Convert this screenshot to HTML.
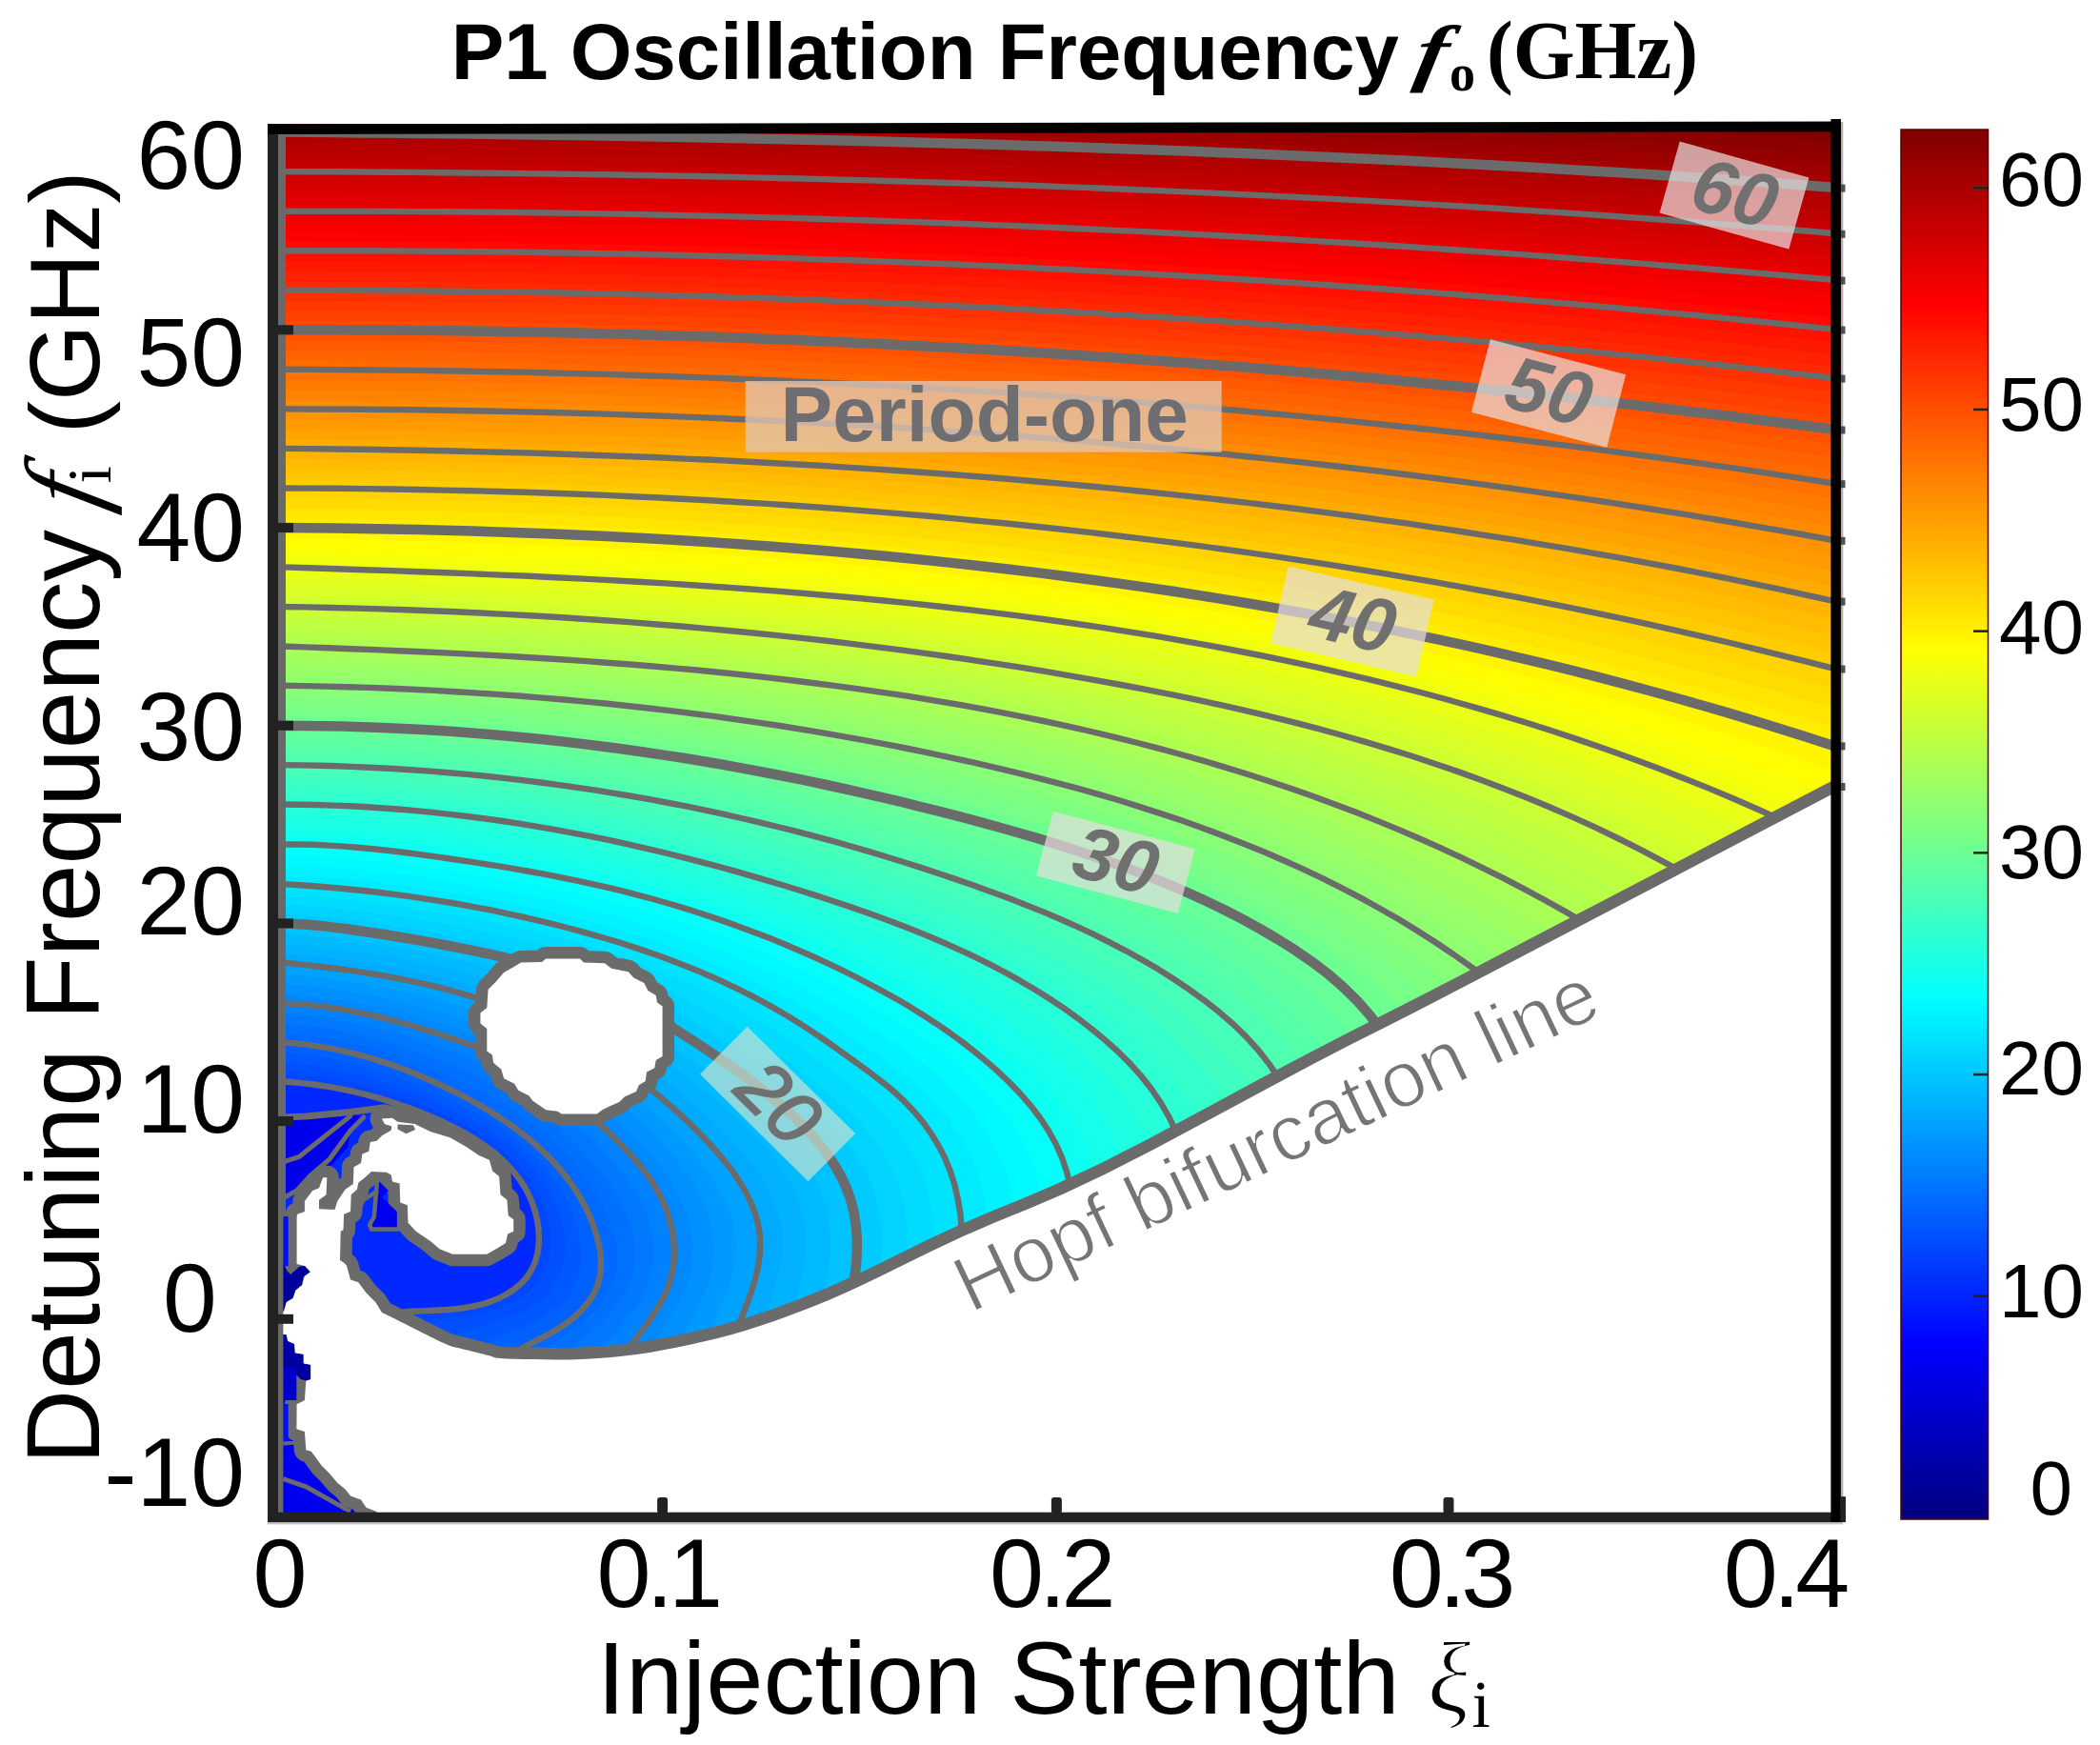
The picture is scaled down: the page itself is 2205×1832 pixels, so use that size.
<!DOCTYPE html>
<html><head><meta charset="utf-8"><title>P1 Oscillation Frequency</title>
<style>html,body{margin:0;padding:0;background:#fff}svg{display:block}</style></head>
<body><svg width="2205" height="1832" viewBox="0 0 2205 1832">
<rect width="2205" height="1832" fill="#fff"/>
<g id="fill">
<rect x="280" y="128" width="1660" height="1475" fill="#0028ff"/>
<rect x="280" y="128" width="1660" height="60" fill="#830000"/>
<polygon points="295.9,1135.4 307.4,1136.2 319.0,1137.4 330.5,1138.8 341.9,1140.4 353.4,1142.4 364.7,1144.6 376.0,1147.1 387.3,1149.9 398.4,1153.1 409.5,1156.4 420.5,1160.1 431.4,1164.0 442.2,1168.1 453.0,1172.5 463.6,1177.2 474.0,1182.1 484.3,1187.5 494.4,1193.2 504.2,1199.4 513.6,1206.1 522.6,1213.4 531.1,1221.3 539.0,1229.8 546.1,1238.9 552.2,1248.8 557.4,1259.1 561.3,1270.0 564.1,1281.3 565.7,1292.7 565.8,1304.3 564.4,1315.8 561.1,1326.9 555.8,1337.2 548.5,1346.2 539.7,1353.7 529.9,1359.8 519.4,1364.7 508.5,1368.6 497.3,1371.4 485.9,1373.3 474.3,1374.6 462.8,1375.4 451.2,1375.9 439.6,1376.5 428.1,1377.2 416.5,1378.3 405.1,1380.1 433.8,1394.0 444.8,1390.6 456.1,1387.9 467.5,1385.8 479.1,1383.9 490.6,1382.0 502.0,1379.8 513.3,1377.1 524.4,1373.6 535.0,1369.2 545.1,1363.8 554.3,1357.2 562.4,1349.4 569.1,1340.6 574.3,1330.7 577.6,1319.9 579.0,1308.5 578.9,1296.9 577.4,1285.3 574.6,1274.0 570.7,1262.9 565.8,1252.2 559.9,1242.0 553.0,1232.3 545.4,1223.2 537.1,1214.8 528.2,1206.9 518.8,1199.6 509.1,1192.7 499.0,1186.4 488.7,1180.5 478.2,1174.9 467.5,1169.7 456.7,1164.8 445.7,1160.1 434.7,1155.7 423.5,1151.6 412.3,1147.7 401.0,1144.1 389.6,1140.7 378.1,1137.7 366.5,1135.0 354.8,1132.6 343.1,1130.5 331.4,1128.7 319.6,1127.2 307.8,1126.0 295.9,1125.1" fill="#0048ff" stroke="#0048ff" stroke-width="1.6"/>
<polygon points="295.9,1125.1 307.8,1126.0 319.6,1127.2 331.4,1128.7 343.1,1130.5 354.8,1132.6 366.5,1135.0 378.1,1137.7 389.6,1140.7 401.0,1144.1 412.3,1147.7 423.5,1151.6 434.7,1155.7 445.7,1160.1 456.7,1164.8 467.5,1169.7 478.2,1174.9 488.7,1180.5 499.0,1186.4 509.1,1192.7 518.8,1199.6 528.2,1206.9 537.1,1214.8 545.4,1223.2 553.0,1232.3 559.9,1242.0 565.8,1252.2 570.7,1262.9 574.6,1274.0 577.4,1285.3 578.9,1296.9 579.0,1308.5 577.6,1319.9 574.3,1330.7 569.1,1340.6 562.4,1349.4 554.3,1357.2 545.1,1363.8 535.0,1369.2 524.4,1373.6 513.3,1377.1 502.0,1379.8 490.6,1382.0 479.1,1383.9 467.5,1385.8 456.1,1387.9 444.8,1390.6 433.8,1394.0 462.6,1408.0 473.1,1402.8 484.1,1398.6 495.4,1395.1 506.9,1391.9 518.4,1388.7 529.7,1385.1 540.8,1380.9 551.5,1375.9 561.5,1369.9 570.7,1362.8 578.7,1354.5 585.0,1345.2 589.7,1335.1 592.7,1324.2 594.0,1312.8 593.7,1301.2 592.0,1289.5 589.1,1278.0 585.1,1266.7 580.1,1255.7 574.2,1245.2 567.5,1235.2 560.0,1225.7 551.8,1216.7 543.0,1208.3 533.7,1200.4 524.0,1193.0 513.9,1186.1 503.6,1179.6 493.1,1173.4 482.3,1167.7 471.4,1162.2 460.4,1157.1 449.2,1152.1 437.9,1147.5 426.6,1143.1 415.1,1138.9 403.5,1135.1 391.9,1131.5 380.1,1128.3 368.3,1125.4 356.3,1122.8 344.3,1120.5 332.3,1118.6 320.2,1117.0 308.1,1115.7 295.9,1114.8" fill="#0050ff" stroke="#0050ff" stroke-width="1.6"/>
<polygon points="295.9,1114.8 308.1,1115.7 320.2,1117.0 332.3,1118.6 344.3,1120.5 356.3,1122.8 368.3,1125.4 380.1,1128.3 391.9,1131.5 403.5,1135.1 415.1,1138.9 426.6,1143.1 437.9,1147.5 449.2,1152.1 460.4,1157.1 471.4,1162.2 482.3,1167.7 493.1,1173.4 503.6,1179.6 513.9,1186.1 524.0,1193.0 533.7,1200.4 543.0,1208.3 551.8,1216.7 560.0,1225.7 567.5,1235.2 574.2,1245.2 580.1,1255.7 585.1,1266.7 589.1,1278.0 592.0,1289.5 593.7,1301.2 594.0,1312.8 592.7,1324.2 589.7,1335.1 585.0,1345.2 578.7,1354.5 570.7,1362.8 561.5,1369.9 551.5,1375.9 540.8,1380.9 529.7,1385.1 518.4,1388.7 506.9,1391.9 495.4,1395.1 484.1,1398.6 473.1,1402.8 462.6,1408.0 491.3,1422.0 501.3,1415.1 512.1,1409.4 523.3,1404.4 534.7,1399.9 546.2,1395.3 557.4,1390.4 568.3,1384.7 578.6,1378.2 588.1,1370.6 596.4,1361.8 603.1,1351.9 607.7,1341.0 610.4,1329.5 611.2,1317.7 610.4,1305.8 608.3,1293.9 605.1,1282.1 600.8,1270.6 595.6,1259.4 589.5,1248.6 582.7,1238.3 575.1,1228.4 566.9,1219.0 558.1,1210.2 548.9,1201.8 539.2,1193.9 529.2,1186.4 518.8,1179.4 508.2,1172.7 497.4,1166.4 486.5,1160.4 475.3,1154.7 464.1,1149.3 452.7,1144.1 441.2,1139.2 429.6,1134.6 417.9,1130.2 406.1,1126.1 394.1,1122.3 382.1,1118.9 370.0,1115.7 357.8,1113.0 345.5,1110.6 333.2,1108.5 320.8,1106.8 308.4,1105.5 295.9,1104.5" fill="#0058ff" stroke="#0058ff" stroke-width="1.6"/>
<polygon points="295.9,1104.5 308.4,1105.5 320.8,1106.8 333.2,1108.5 345.5,1110.6 357.8,1113.0 370.0,1115.7 382.1,1118.9 394.1,1122.3 406.1,1126.1 417.9,1130.2 429.6,1134.6 441.2,1139.2 452.7,1144.1 464.1,1149.3 475.3,1154.7 486.5,1160.4 497.4,1166.4 508.2,1172.7 518.8,1179.4 529.2,1186.4 539.2,1193.9 548.9,1201.8 558.1,1210.2 566.9,1219.0 575.1,1228.4 582.7,1238.3 589.5,1248.6 595.6,1259.4 600.8,1270.6 605.1,1282.1 608.3,1293.9 610.4,1305.8 611.2,1317.7 610.4,1329.5 607.7,1341.0 603.1,1351.9 596.4,1361.8 588.1,1370.6 578.6,1378.2 568.3,1384.7 557.4,1390.4 546.2,1395.3 534.7,1399.9 523.3,1404.4 512.1,1409.4 501.3,1415.1 491.3,1422.0 520.0,1435.9 529.6,1427.4 540.1,1420.1 551.2,1413.7 562.6,1407.8 574.0,1401.9 585.1,1395.6 595.8,1388.5 605.7,1380.4 614.6,1371.2 622.0,1360.8 627.5,1349.2 630.4,1336.8 631.0,1324.0 629.7,1311.2 626.9,1298.7 623.0,1286.5 618.2,1274.7 612.5,1263.2 606.1,1252.1 598.9,1241.5 591.1,1231.3 582.8,1221.6 573.9,1212.4 564.5,1203.6 554.8,1195.3 544.7,1187.4 534.3,1179.9 523.7,1172.7 512.9,1165.9 501.8,1159.4 490.6,1153.2 479.3,1147.3 467.8,1141.6 456.2,1136.1 444.4,1131.0 432.6,1126.0 420.7,1121.4 408.6,1117.1 396.4,1113.1 384.1,1109.4 371.8,1106.1 359.3,1103.2 346.7,1100.6 334.1,1098.4 321.4,1096.6 308.7,1095.2 295.9,1094.2" fill="#0061ff" stroke="#0061ff" stroke-width="1.6"/>
<polygon points="295.9,1094.2 308.7,1095.2 321.4,1096.6 334.1,1098.4 346.7,1100.6 359.3,1103.2 371.8,1106.1 384.1,1109.4 396.4,1113.1 408.6,1117.1 420.7,1121.4 432.6,1126.0 444.4,1131.0 456.2,1136.1 467.8,1141.6 479.3,1147.3 490.6,1153.2 501.8,1159.4 512.9,1165.9 523.7,1172.7 534.3,1179.9 544.7,1187.4 554.8,1195.3 564.5,1203.6 573.9,1212.4 582.8,1221.6 591.1,1231.3 598.9,1241.5 606.1,1252.1 612.5,1263.2 618.2,1274.7 623.0,1286.5 626.9,1298.7 629.7,1311.2 631.0,1324.0 630.4,1336.8 627.5,1349.2 622.0,1360.8 614.6,1371.2 605.7,1380.4 595.8,1388.5 585.1,1395.6 574.0,1401.9 562.6,1407.8 551.2,1413.7 540.1,1420.1 529.6,1427.4 520.0,1435.9 551.2,1436.9 560.2,1427.4 570.1,1419.1 580.5,1411.4 591.2,1404.1 601.8,1396.8 612.0,1389.1 621.6,1380.6 630.3,1371.2 637.7,1360.8 643.5,1349.5 647.4,1337.2 649.0,1324.4 648.5,1311.4 646.1,1298.6 642.4,1286.0 637.6,1273.9 631.8,1262.2 625.3,1250.8 618.0,1240.0 610.1,1229.5 601.7,1219.4 592.8,1209.7 583.5,1200.4 573.8,1191.6 563.7,1183.2 553.2,1175.2 542.4,1167.6 531.4,1160.5 520.1,1153.8 508.6,1147.4 496.9,1141.3 485.1,1135.5 473.2,1130.1 461.1,1124.8 449.0,1119.8 436.7,1115.0 424.4,1110.5 411.9,1106.3 399.3,1102.4 386.7,1098.8 373.9,1095.5 361.1,1092.7 348.2,1090.1 335.2,1088.0 322.2,1086.2 309.1,1084.9 295.9,1083.9" fill="#0069ff" stroke="#0069ff" stroke-width="1.6"/>
<polygon points="295.9,1083.9 309.1,1084.9 322.2,1086.2 335.2,1088.0 348.2,1090.1 361.1,1092.7 373.9,1095.5 386.7,1098.8 399.3,1102.4 411.9,1106.3 424.4,1110.5 436.7,1115.0 449.0,1119.8 461.1,1124.8 473.2,1130.1 485.1,1135.5 496.9,1141.3 508.6,1147.4 520.1,1153.8 531.4,1160.5 542.4,1167.6 553.2,1175.2 563.7,1183.2 573.8,1191.6 583.5,1200.4 592.8,1209.7 601.7,1219.4 610.1,1229.5 618.0,1240.0 625.3,1250.8 631.8,1262.2 637.6,1273.9 642.4,1286.0 646.1,1298.6 648.5,1311.4 649.0,1324.4 647.4,1337.2 643.5,1349.5 637.7,1360.8 630.3,1371.2 621.6,1380.6 612.0,1389.1 601.8,1396.8 591.2,1404.1 580.5,1411.4 570.1,1419.1 560.2,1427.4 551.2,1436.9 582.4,1437.9 590.8,1427.5 600.1,1418.0 609.9,1409.1 619.8,1400.5 629.6,1391.7 638.9,1382.5 647.5,1372.7 654.9,1362.0 660.8,1350.4 665.0,1338.1 667.4,1325.3 667.6,1312.0 665.9,1298.8 662.6,1285.9 658.0,1273.3 652.2,1261.3 645.5,1249.7 638.0,1238.5 629.9,1227.8 621.4,1217.5 612.3,1207.5 602.9,1197.8 593.2,1188.5 583.1,1179.5 572.6,1171.0 561.7,1163.0 550.6,1155.4 539.1,1148.3 527.3,1141.6 515.4,1135.4 503.3,1129.4 491.0,1123.8 478.6,1118.5 466.1,1113.4 453.5,1108.6 440.8,1104.0 428.1,1099.6 415.2,1095.5 402.3,1091.7 389.2,1088.2 376.1,1085.0 362.9,1082.1 349.6,1079.6 336.3,1077.5 322.9,1075.8 309.4,1074.5 296.0,1073.6" fill="#0071ff" stroke="#0071ff" stroke-width="1.6"/>
<polygon points="296.0,1073.6 309.4,1074.5 322.9,1075.8 336.3,1077.5 349.6,1079.6 362.9,1082.1 376.1,1085.0 389.2,1088.2 402.3,1091.7 415.2,1095.5 428.1,1099.6 440.8,1104.0 453.5,1108.6 466.1,1113.4 478.6,1118.5 491.0,1123.8 503.3,1129.4 515.4,1135.4 527.3,1141.6 539.1,1148.3 550.6,1155.4 561.7,1163.0 572.6,1171.0 583.1,1179.5 593.2,1188.5 602.9,1197.8 612.3,1207.5 621.4,1217.5 629.9,1227.8 638.0,1238.5 645.5,1249.7 652.2,1261.3 658.0,1273.3 662.6,1285.9 665.9,1298.8 667.6,1312.0 667.4,1325.3 665.0,1338.1 660.8,1350.4 654.9,1362.0 647.5,1372.7 638.9,1382.5 629.6,1391.7 619.8,1400.5 609.9,1409.1 600.1,1418.0 590.8,1427.5 582.4,1437.9 613.6,1438.9 621.4,1427.5 630.1,1417.0 639.2,1406.8 648.4,1396.8 657.4,1386.6 665.8,1376.0 673.4,1364.8 679.4,1352.7 683.9,1340.0 686.5,1326.8 687.3,1313.3 686.2,1299.7 683.4,1286.2 679.1,1273.2 673.5,1260.6 666.7,1248.6 659.1,1237.2 650.8,1226.2 641.9,1215.7 632.6,1205.5 622.9,1195.5 613.0,1185.9 602.8,1176.5 592.3,1167.5 581.5,1158.9 570.2,1150.8 558.7,1143.2 546.8,1136.1 534.6,1129.5 522.2,1123.3 509.6,1117.6 496.9,1112.1 484.0,1107.0 471.1,1102.1 458.1,1097.4 444.9,1092.9 431.8,1088.7 418.5,1084.7 405.2,1081.0 391.8,1077.5 378.3,1074.4 364.7,1071.6 351.1,1069.2 337.4,1067.1 323.6,1065.4 309.8,1064.2 296.0,1063.4" fill="#0079ff" stroke="#0079ff" stroke-width="1.6"/>
<polygon points="296.0,1063.4 309.8,1064.2 323.6,1065.4 337.4,1067.1 351.1,1069.2 364.7,1071.6 378.3,1074.4 391.8,1077.5 405.2,1081.0 418.5,1084.7 431.8,1088.7 444.9,1092.9 458.1,1097.4 471.1,1102.1 484.0,1107.0 496.9,1112.1 509.6,1117.6 522.2,1123.3 534.6,1129.5 546.8,1136.1 558.7,1143.2 570.2,1150.8 581.5,1158.9 592.3,1167.5 602.8,1176.5 613.0,1185.9 622.9,1195.5 632.6,1205.5 641.9,1215.7 650.8,1226.2 659.1,1237.2 666.7,1248.6 673.5,1260.6 679.1,1273.2 683.4,1286.2 686.2,1299.7 687.3,1313.3 686.5,1326.8 683.9,1340.0 679.4,1352.7 673.4,1364.8 665.8,1376.0 657.4,1386.6 648.4,1396.8 639.2,1406.8 630.1,1417.0 621.4,1427.5 613.6,1438.9 644.8,1439.8 652.0,1427.6 660.1,1415.9 668.5,1404.5 677.0,1393.1 685.2,1381.5 692.8,1369.5 699.2,1356.8 704.0,1343.5 707.0,1329.6 708.0,1315.4 707.3,1301.3 704.8,1287.3 700.9,1273.6 695.6,1260.5 689.0,1247.9 681.3,1236.0 672.7,1224.7 663.5,1213.9 653.8,1203.5 643.8,1193.5 633.5,1183.6 623.1,1173.9 612.5,1164.5 601.6,1155.4 590.3,1146.8 578.7,1138.6 566.8,1131.0 554.4,1123.9 541.8,1117.4 529.0,1111.3 515.9,1105.7 502.8,1100.4 489.5,1095.5 476.1,1090.8 462.6,1086.2 449.1,1081.9 435.5,1077.8 421.8,1073.9 408.1,1070.2 394.3,1066.9 380.4,1063.8 366.5,1061.1 352.5,1058.7 338.4,1056.7 324.3,1055.0 310.2,1053.9 296.0,1053.1" fill="#0081ff" stroke="#0081ff" stroke-width="1.6"/>
<polygon points="296.0,1053.1 310.2,1053.9 324.3,1055.0 338.4,1056.7 352.5,1058.7 366.5,1061.1 380.4,1063.8 394.3,1066.9 408.1,1070.2 421.8,1073.9 435.5,1077.8 449.1,1081.9 462.6,1086.2 476.1,1090.8 489.5,1095.5 502.8,1100.4 515.9,1105.7 529.0,1111.3 541.8,1117.4 554.4,1123.9 566.8,1131.0 578.7,1138.6 590.3,1146.8 601.6,1155.4 612.5,1164.5 623.1,1173.9 633.5,1183.6 643.8,1193.5 653.8,1203.5 663.5,1213.9 672.7,1224.7 681.3,1236.0 689.0,1247.9 695.6,1260.5 700.9,1273.6 704.8,1287.3 707.3,1301.3 708.0,1315.4 707.0,1329.6 704.0,1343.5 699.2,1356.8 692.8,1369.5 685.2,1381.5 677.0,1393.1 668.5,1404.5 660.1,1415.9 652.0,1427.6 644.8,1439.8 675.6,1432.4 682.4,1419.6 690.0,1407.2 697.7,1395.0 705.3,1382.8 712.5,1370.4 718.9,1357.6 724.0,1344.2 727.3,1330.3 728.6,1316.2 728.0,1301.9 725.6,1287.8 721.8,1274.1 716.5,1260.7 710.0,1247.9 702.5,1235.6 694.0,1223.8 684.8,1212.6 675.0,1201.9 664.8,1191.6 654.3,1181.6 643.6,1171.8 632.6,1162.3 621.5,1153.0 610.0,1144.1 598.3,1135.6 586.2,1127.5 573.8,1120.0 561.1,1112.9 548.1,1106.4 534.9,1100.3 521.5,1094.6 508.0,1089.3 494.4,1084.3 480.6,1079.6 466.8,1075.1 452.9,1070.9 438.9,1066.8 424.9,1063.1 410.8,1059.6 396.7,1056.3 382.4,1053.4 368.1,1050.7 353.8,1048.4 339.4,1046.4 325.0,1044.7 310.5,1043.4 296.0,1042.5" fill="#0089ff" stroke="#0089ff" stroke-width="1.6"/>
<polygon points="296.0,1042.5 310.5,1043.4 325.0,1044.7 339.4,1046.4 353.8,1048.4 368.1,1050.7 382.4,1053.4 396.7,1056.3 410.8,1059.6 424.9,1063.1 438.9,1066.8 452.9,1070.9 466.8,1075.1 480.6,1079.6 494.4,1084.3 508.0,1089.3 521.5,1094.6 534.9,1100.3 548.1,1106.4 561.1,1112.9 573.8,1120.0 586.2,1127.5 598.3,1135.6 610.0,1144.1 621.5,1153.0 632.6,1162.3 643.6,1171.8 654.3,1181.6 664.8,1191.6 675.0,1201.9 684.8,1212.6 694.0,1223.8 702.5,1235.6 710.0,1247.9 716.5,1260.7 721.8,1274.1 725.6,1287.8 728.0,1301.9 728.6,1316.2 727.3,1330.3 724.0,1344.2 718.9,1357.6 712.5,1370.4 705.3,1382.8 697.7,1395.0 690.0,1407.2 682.4,1419.6 675.6,1432.4 706.3,1424.9 712.9,1411.6 719.8,1398.5 726.9,1385.6 733.6,1372.6 739.8,1359.3 745.0,1345.6 748.8,1331.6 750.5,1317.2 750.2,1302.7 748.0,1288.4 744.0,1274.4 738.7,1260.9 732.1,1247.8 724.5,1235.3 716.0,1223.2 706.7,1211.7 696.9,1200.6 686.6,1189.9 675.9,1179.6 664.8,1169.7 653.6,1160.0 642.1,1150.6 630.4,1141.5 618.4,1132.8 606.2,1124.4 593.6,1116.4 580.8,1109.0 567.7,1102.0 554.4,1095.4 540.8,1089.3 527.1,1083.5 513.3,1078.1 499.3,1073.1 485.2,1068.4 471.0,1064.0 456.7,1059.8 442.4,1055.9 428.0,1052.2 413.5,1048.9 399.0,1045.8 384.4,1043.0 369.8,1040.4 355.1,1038.1 340.4,1036.1 325.6,1034.4 310.8,1033.0 296.0,1031.8" fill="#0091ff" stroke="#0091ff" stroke-width="1.6"/>
<polygon points="296.0,1031.8 310.8,1033.0 325.6,1034.4 340.4,1036.1 355.1,1038.1 369.8,1040.4 384.4,1043.0 399.0,1045.8 413.5,1048.9 428.0,1052.2 442.4,1055.9 456.7,1059.8 471.0,1064.0 485.2,1068.4 499.3,1073.1 513.3,1078.1 527.1,1083.5 540.8,1089.3 554.4,1095.4 567.7,1102.0 580.8,1109.0 593.6,1116.4 606.2,1124.4 618.4,1132.8 630.4,1141.5 642.1,1150.6 653.6,1160.0 664.8,1169.7 675.9,1179.6 686.6,1189.9 696.9,1200.6 706.7,1211.7 716.0,1223.2 724.5,1235.3 732.1,1247.8 738.7,1260.9 744.0,1274.4 748.0,1288.4 750.2,1302.7 750.5,1317.2 748.8,1331.6 745.0,1345.6 739.8,1359.3 733.6,1372.6 726.9,1385.6 719.8,1398.5 712.9,1411.6 706.3,1424.9 737.1,1417.4 743.3,1403.6 749.7,1389.9 756.0,1376.1 761.9,1362.3 767.1,1348.2 771.2,1333.7 773.6,1319.0 773.8,1304.0 771.9,1289.3 768.0,1274.8 762.4,1261.0 755.6,1247.6 747.7,1234.9 738.9,1222.6 729.4,1210.9 719.4,1199.5 709.0,1188.5 698.1,1177.9 686.9,1167.7 675.4,1157.8 663.6,1148.2 651.6,1139.0 639.3,1130.0 626.8,1121.4 614.1,1113.2 601.1,1105.4 587.8,1098.0 574.3,1091.0 560.6,1084.4 546.8,1078.2 532.7,1072.4 518.5,1067.0 504.2,1061.9 489.8,1057.2 475.2,1052.8 460.6,1048.7 445.9,1044.9 431.1,1041.4 416.3,1038.2 401.4,1035.2 386.4,1032.5 371.4,1030.1 356.4,1027.9 341.3,1025.9 326.2,1024.1 311.1,1022.5 296.0,1021.2" fill="#009aff" stroke="#009aff" stroke-width="1.6"/>
<polygon points="296.0,1021.2 311.1,1022.5 326.2,1024.1 341.3,1025.9 356.4,1027.9 371.4,1030.1 386.4,1032.5 401.4,1035.2 416.3,1038.2 431.1,1041.4 445.9,1044.9 460.6,1048.7 475.2,1052.8 489.8,1057.2 504.2,1061.9 518.5,1067.0 532.7,1072.4 546.8,1078.2 560.6,1084.4 574.3,1091.0 587.8,1098.0 601.1,1105.4 614.1,1113.2 626.8,1121.4 639.3,1130.0 651.6,1139.0 663.6,1148.2 675.4,1157.8 686.9,1167.7 698.1,1177.9 709.0,1188.5 719.4,1199.5 729.4,1210.9 738.9,1222.6 747.7,1234.9 755.6,1247.6 762.4,1261.0 768.0,1274.8 771.9,1289.3 773.8,1304.0 773.6,1319.0 771.2,1333.7 767.1,1348.2 761.9,1362.3 756.0,1376.1 749.7,1389.9 743.3,1403.6 737.1,1417.4 767.8,1409.9 773.7,1395.5 779.6,1381.2 785.2,1366.7 790.2,1352.0 794.4,1337.1 797.3,1321.8 798.4,1306.3 797.1,1290.9 793.5,1275.8 787.9,1261.3 780.8,1247.5 772.5,1234.4 763.2,1222.0 753.3,1210.0 742.9,1198.5 732.1,1187.3 721.0,1176.5 709.6,1166.0 697.9,1155.8 685.9,1145.9 673.6,1136.4 661.1,1127.3 648.3,1118.5 635.3,1110.1 622.0,1102.0 608.5,1094.3 594.8,1087.0 581.0,1080.0 566.9,1073.4 552.7,1067.2 538.3,1061.3 523.8,1055.9 509.1,1050.8 494.3,1046.0 479.4,1041.7 464.4,1037.7 449.4,1034.0 434.2,1030.6 419.0,1027.5 403.7,1024.7 388.4,1022.1 373.1,1019.7 357.7,1017.6 342.3,1015.6 326.9,1013.8 311.4,1012.1 296.0,1010.5" fill="#00a2ff" stroke="#00a2ff" stroke-width="1.6"/>
<polygon points="296.0,1010.5 311.4,1012.1 326.9,1013.8 342.3,1015.6 357.7,1017.6 373.1,1019.7 388.4,1022.1 403.7,1024.7 419.0,1027.5 434.2,1030.6 449.4,1034.0 464.4,1037.7 479.4,1041.7 494.3,1046.0 509.1,1050.8 523.8,1055.9 538.3,1061.3 552.7,1067.2 566.9,1073.4 581.0,1080.0 594.8,1087.0 608.5,1094.3 622.0,1102.0 635.3,1110.1 648.3,1118.5 661.1,1127.3 673.6,1136.4 685.9,1145.9 697.9,1155.8 709.6,1166.0 721.0,1176.5 732.1,1187.3 742.9,1198.5 753.3,1210.0 763.2,1222.0 772.5,1234.4 780.8,1247.5 787.9,1261.3 793.5,1275.8 797.1,1290.9 798.4,1306.3 797.3,1321.8 794.4,1337.1 790.2,1352.0 785.2,1366.7 779.6,1381.2 773.7,1395.5 767.8,1409.9 799.0,1399.5 804.3,1384.5 809.3,1369.5 813.8,1354.4 817.6,1339.1 820.4,1323.6 821.8,1308.0 821.3,1292.3 818.5,1276.8 813.7,1261.8 807.0,1247.5 799.0,1233.8 789.8,1220.9 779.7,1208.6 769.1,1196.8 758.0,1185.5 746.5,1174.4 734.8,1163.7 722.7,1153.4 710.4,1143.3 697.8,1133.6 685.0,1124.1 672.0,1115.0 658.8,1106.1 645.4,1097.6 631.7,1089.4 617.8,1081.6 603.7,1074.3 589.4,1067.4 574.8,1061.0 560.1,1055.0 545.2,1049.5 530.1,1044.3 515.0,1039.5 499.7,1035.1 484.3,1030.9 468.9,1027.0 453.4,1023.5 437.8,1020.1 422.2,1017.1 406.5,1014.3 390.8,1011.7 375.1,1009.2 359.3,1007.0 343.5,1005.0 327.7,1003.2 311.9,1001.6 296.0,1000.3" fill="#00aaff" stroke="#00aaff" stroke-width="1.6"/>
<polygon points="296.0,1000.3 311.9,1001.6 327.7,1003.2 343.5,1005.0 359.3,1007.0 375.1,1009.2 390.8,1011.7 406.5,1014.3 422.2,1017.1 437.8,1020.1 453.4,1023.5 468.9,1027.0 484.3,1030.9 499.7,1035.1 515.0,1039.5 530.1,1044.3 545.2,1049.5 560.1,1055.0 574.8,1061.0 589.4,1067.4 603.7,1074.3 617.8,1081.6 631.7,1089.4 645.4,1097.6 658.8,1106.1 672.0,1115.0 685.0,1124.1 697.8,1133.6 710.4,1143.3 722.7,1153.4 734.8,1163.7 746.5,1174.4 758.0,1185.5 769.1,1196.8 779.7,1208.6 789.8,1220.9 799.0,1233.8 807.0,1247.5 813.7,1261.8 818.5,1276.8 821.3,1292.3 821.8,1308.0 820.4,1323.6 817.6,1339.1 813.8,1354.4 809.3,1369.5 804.3,1384.5 799.0,1399.5 830.2,1389.0 834.8,1373.5 838.9,1357.8 842.4,1342.0 845.0,1326.1 846.4,1310.1 846.2,1294.1 844.1,1278.2 840.0,1262.7 833.9,1247.8 826.1,1233.6 817.1,1220.1 807.0,1207.4 796.2,1195.2 784.9,1183.6 773.1,1172.4 760.9,1161.5 748.5,1151.0 735.8,1140.8 722.9,1130.9 709.8,1121.2 696.5,1111.8 683.0,1102.7 669.3,1093.7 655.5,1085.1 641.4,1076.8 627.1,1068.9 612.6,1061.6 597.8,1054.8 582.7,1048.5 567.4,1042.8 552.0,1037.6 536.5,1032.8 520.8,1028.3 505.0,1024.1 489.2,1020.1 473.3,1016.4 457.4,1012.9 441.4,1009.7 425.4,1006.7 409.3,1003.8 393.2,1001.2 377.1,998.8 360.9,996.5 344.7,994.4 328.5,992.6 312.3,991.1 296.0,990.0" fill="#00b2ff" stroke="#00b2ff" stroke-width="1.6"/>
<polygon points="296.0,990.0 312.3,991.1 328.5,992.6 344.7,994.4 360.9,996.5 377.1,998.8 393.2,1001.2 409.3,1003.8 425.4,1006.7 441.4,1009.7 457.4,1012.9 473.3,1016.4 489.2,1020.1 505.0,1024.1 520.8,1028.3 536.5,1032.8 552.0,1037.6 567.4,1042.8 582.7,1048.5 597.8,1054.8 612.6,1061.6 627.1,1068.9 641.4,1076.8 655.5,1085.1 669.3,1093.7 683.0,1102.7 696.5,1111.8 709.8,1121.2 722.9,1130.9 735.8,1140.8 748.5,1151.0 760.9,1161.5 773.1,1172.4 784.9,1183.6 796.2,1195.2 807.0,1207.4 817.1,1220.1 826.1,1233.6 833.9,1247.8 840.0,1262.7 844.1,1278.2 846.2,1294.1 846.4,1310.1 845.0,1326.1 842.4,1342.0 838.9,1357.8 834.8,1373.5 830.2,1389.0 861.4,1378.6 865.4,1362.4 868.6,1346.1 871.0,1329.7 872.4,1313.2 872.4,1296.7 870.7,1280.3 867.0,1264.2 861.4,1248.7 854.0,1233.8 845.2,1219.8 835.2,1206.4 824.3,1193.8 812.7,1181.8 800.6,1170.4 788.1,1159.3 775.3,1148.6 762.3,1138.3 748.9,1128.2 735.4,1118.4 721.7,1108.9 707.9,1099.5 693.9,1090.3 679.8,1081.3 665.6,1072.6 651.1,1064.2 636.4,1056.3 621.5,1048.9 606.2,1042.1 590.6,1036.1 574.8,1030.6 558.9,1025.7 542.8,1021.2 526.6,1017.0 510.4,1013.1 494.1,1009.3 477.8,1005.8 461.4,1002.4 445.0,999.2 428.6,996.2 412.1,993.4 395.6,990.8 379.1,988.3 362.5,985.9 346.0,983.8 329.3,982.0 312.7,980.6 296.0,979.7" fill="#00baff" stroke="#00baff" stroke-width="1.6"/>
<polygon points="296.0,979.7 312.7,980.6 329.3,982.0 346.0,983.8 362.5,985.9 379.1,988.3 395.6,990.8 412.1,993.4 428.6,996.2 445.0,999.2 461.4,1002.4 477.8,1005.8 494.1,1009.3 510.4,1013.1 526.6,1017.0 542.8,1021.2 558.9,1025.7 574.8,1030.6 590.6,1036.1 606.2,1042.1 621.5,1048.9 636.4,1056.3 651.1,1064.2 665.6,1072.6 679.8,1081.3 693.9,1090.3 707.9,1099.5 721.7,1108.9 735.4,1118.4 748.9,1128.2 762.3,1138.3 775.3,1148.6 788.1,1159.3 800.6,1170.4 812.7,1181.8 824.3,1193.8 835.2,1206.4 845.2,1219.8 854.0,1233.8 861.4,1248.7 867.0,1264.2 870.7,1280.3 872.4,1296.7 872.4,1313.2 871.0,1329.7 868.6,1346.1 865.4,1362.4 861.4,1378.6 892.6,1368.1 895.9,1351.4 898.3,1334.4 899.7,1317.4 899.8,1300.3 898.4,1283.2 895.1,1266.4 889.9,1250.1 882.9,1234.6 874.2,1219.8 864.3,1205.9 853.3,1192.7 841.6,1180.3 829.2,1168.5 816.4,1157.2 803.2,1146.3 789.7,1135.7 776.0,1125.5 762.0,1115.6 747.9,1106.0 733.6,1096.5 719.3,1087.2 704.9,1078.0 690.3,1069.0 675.7,1060.1 660.9,1051.6 645.8,1043.6 630.3,1036.2 614.6,1029.5 598.5,1023.6 582.2,1018.5 565.7,1013.9 549.1,1009.7 532.5,1005.8 515.8,1002.1 499.0,998.6 482.3,995.2 465.5,991.9 448.6,988.8 431.8,985.8 414.9,983.0 398.0,980.3 381.1,977.8 364.1,975.4 347.2,973.2 330.2,971.4 313.1,970.1 296.0,969.4" fill="#00c2ff" stroke="#00c2ff" stroke-width="1.6"/>
<polygon points="296.0,969.4 313.1,970.1 330.2,971.4 347.2,973.2 364.1,975.4 381.1,977.8 398.0,980.3 414.9,983.0 431.8,985.8 448.6,988.8 465.5,991.9 482.3,995.2 499.0,998.6 515.8,1002.1 532.5,1005.8 549.1,1009.7 565.7,1013.9 582.2,1018.5 598.5,1023.6 614.6,1029.5 630.3,1036.2 645.8,1043.6 660.9,1051.6 675.7,1060.1 690.3,1069.0 704.9,1078.0 719.3,1087.2 733.6,1096.5 747.9,1106.0 762.0,1115.6 776.0,1125.5 789.7,1135.7 803.2,1146.3 816.4,1157.2 829.2,1168.5 841.6,1180.3 853.3,1192.7 864.3,1205.9 874.2,1219.8 882.9,1234.6 889.9,1250.1 895.1,1266.4 898.4,1283.2 899.8,1300.3 899.7,1317.4 898.3,1334.4 895.9,1351.4 892.6,1368.1 921.8,1355.6 924.4,1338.3 926.0,1320.9 926.3,1303.5 925.4,1286.1 922.8,1268.8 918.5,1251.9 912.2,1235.7 904.2,1220.2 894.6,1205.5 883.8,1191.8 872.0,1178.9 859.5,1166.7 846.4,1155.1 833.0,1143.8 819.3,1132.9 805.3,1122.4 791.0,1112.2 776.5,1102.3 761.8,1092.8 747.0,1083.5 732.0,1074.4 716.9,1065.5 701.7,1056.9 686.4,1048.5 670.8,1040.4 655.1,1032.8 639.1,1025.7 622.8,1019.3 606.2,1013.5 589.5,1008.4 572.5,1003.7 555.5,999.4 538.5,995.4 521.4,991.6 504.2,988.0 487.0,984.6 469.8,981.3 452.5,978.2 435.2,975.2 417.9,972.4 400.6,969.8 383.2,967.3 365.9,965.0 348.4,962.9 331.0,961.2 313.5,959.9 296.0,959.1" fill="#00caff" stroke="#00caff" stroke-width="1.6"/>
<polygon points="296.0,959.1 313.5,959.9 331.0,961.2 348.4,962.9 365.9,965.0 383.2,967.3 400.6,969.8 417.9,972.4 435.2,975.2 452.5,978.2 469.8,981.3 487.0,984.6 504.2,988.0 521.4,991.6 538.5,995.4 555.5,999.4 572.5,1003.7 589.5,1008.4 606.2,1013.5 622.8,1019.3 639.1,1025.7 655.1,1032.8 670.8,1040.4 686.4,1048.5 701.7,1056.9 716.9,1065.5 732.0,1074.4 747.0,1083.5 761.8,1092.8 776.5,1102.3 791.0,1112.2 805.3,1122.4 819.3,1132.9 833.0,1143.8 846.4,1155.1 859.5,1166.7 872.0,1178.9 883.8,1191.8 894.6,1205.5 904.2,1220.2 912.2,1235.7 918.5,1251.9 922.8,1268.8 925.4,1286.1 926.3,1303.5 926.0,1320.9 924.4,1338.3 921.8,1355.6 951.0,1343.1 952.9,1325.3 953.6,1307.4 953.0,1289.6 951.0,1271.9 947.3,1254.4 941.9,1237.5 934.5,1221.2 925.5,1205.8 915.1,1191.3 903.4,1177.7 890.7,1165.0 877.4,1153.1 863.6,1141.6 849.6,1130.5 835.3,1119.6 820.8,1109.1 806.0,1098.9 791.0,1089.0 775.7,1079.6 760.3,1070.4 744.7,1061.6 728.9,1053.1 713.1,1044.8 697.0,1036.8 680.8,1029.2 664.4,1022.0 647.8,1015.3 631.0,1009.1 613.9,1003.5 596.7,998.3 579.4,993.6 562.0,989.2 544.5,985.1 526.9,981.2 509.4,977.5 491.8,974.0 474.1,970.7 456.4,967.5 438.7,964.6 421.0,961.8 403.2,959.3 385.4,956.9 367.6,954.7 349.7,952.7 331.8,951.0 313.9,949.7 296.0,948.7" fill="#00d3ff" stroke="#00d3ff" stroke-width="1.6"/>
<polygon points="296.0,948.7 313.9,949.7 331.8,951.0 349.7,952.7 367.6,954.7 385.4,956.9 403.2,959.3 421.0,961.8 438.7,964.6 456.4,967.5 474.1,970.7 491.8,974.0 509.4,977.5 526.9,981.2 544.5,985.1 562.0,989.2 579.4,993.6 596.7,998.3 613.9,1003.5 631.0,1009.1 647.8,1015.3 664.4,1022.0 680.8,1029.2 697.0,1036.8 713.1,1044.8 728.9,1053.1 744.7,1061.6 760.3,1070.4 775.7,1079.6 791.0,1089.0 806.0,1098.9 820.8,1109.1 835.3,1119.6 849.6,1130.5 863.6,1141.6 877.4,1153.1 890.7,1165.0 903.4,1177.7 915.1,1191.3 925.5,1205.8 934.5,1221.2 941.9,1237.5 947.3,1254.4 951.0,1271.9 953.0,1289.6 953.6,1307.4 952.9,1325.3 951.0,1343.1 980.2,1330.6 981.4,1312.3 981.3,1293.9 979.7,1275.7 976.6,1257.7 971.8,1240.0 965.2,1223.0 956.8,1206.7 946.9,1191.3 935.5,1177.0 922.9,1163.6 909.4,1151.2 895.3,1139.5 880.8,1128.2 866.2,1117.1 851.3,1106.3 836.3,1095.7 821.0,1085.5 805.5,1075.7 789.7,1066.4 773.6,1057.4 757.4,1048.8 741.0,1040.6 724.4,1032.7 707.7,1025.1 690.8,1018.0 673.8,1011.2 656.5,1004.8 639.1,998.9 621.6,993.4 604.0,988.2 586.2,983.5 568.4,979.0 550.5,974.7 532.5,970.7 514.6,966.9 496.5,963.4 478.4,960.0 460.3,956.9 442.2,954.0 424.0,951.3 405.8,948.8 387.5,946.4 369.3,944.3 351.0,942.4 332.7,940.8 314.3,939.4 296.0,938.4" fill="#00dbff" stroke="#00dbff" stroke-width="1.6"/>
<polygon points="296.0,938.4 314.3,939.4 332.7,940.8 351.0,942.4 369.3,944.3 387.5,946.4 405.8,948.8 424.0,951.3 442.2,954.0 460.3,956.9 478.4,960.0 496.5,963.4 514.6,966.9 532.5,970.7 550.5,974.7 568.4,979.0 586.2,983.5 604.0,988.2 621.6,993.4 639.1,998.9 656.5,1004.8 673.8,1011.2 690.8,1018.0 707.7,1025.1 724.4,1032.7 741.0,1040.6 757.4,1048.8 773.6,1057.4 789.7,1066.4 805.5,1075.7 821.0,1085.5 836.3,1095.7 851.3,1106.3 866.2,1117.1 880.8,1128.2 895.3,1139.5 909.4,1151.2 922.9,1163.6 935.5,1177.0 946.9,1191.3 956.8,1206.7 965.2,1223.0 971.8,1240.0 976.6,1257.7 979.7,1275.7 981.3,1293.9 981.4,1312.3 980.2,1330.6 1009.4,1318.0 1010.0,1299.2 1009.0,1280.4 1006.4,1261.8 1002.2,1243.5 996.3,1225.6 988.6,1208.5 979.1,1192.2 968.2,1176.9 955.9,1162.7 942.5,1149.5 928.1,1137.3 913.2,1125.9 898.0,1114.8 882.8,1103.8 867.4,1093.0 851.8,1082.4 836.0,1072.2 819.9,1062.4 803.6,1053.2 787.0,1044.4 770.1,1036.0 753.0,1028.1 735.8,1020.6 718.4,1013.5 700.8,1006.8 683.1,1000.4 665.3,994.4 647.3,988.7 629.3,983.3 611.2,978.2 593.0,973.3 574.8,968.7 556.5,964.4 538.1,960.3 519.7,956.4 501.3,952.8 482.8,949.4 464.2,946.3 445.6,943.4 427.0,940.7 408.4,938.2 389.7,936.0 371.0,934.0 352.2,932.2 333.5,930.6 314.7,929.2 296.0,928.1" fill="#00e3ff" stroke="#00e3ff" stroke-width="1.6"/>
<polygon points="296.0,928.1 314.7,929.2 333.5,930.6 352.2,932.2 371.0,934.0 389.7,936.0 408.4,938.2 427.0,940.7 445.6,943.4 464.2,946.3 482.8,949.4 501.3,952.8 519.7,956.4 538.1,960.3 556.5,964.4 574.8,968.7 593.0,973.3 611.2,978.2 629.3,983.3 647.3,988.7 665.3,994.4 683.1,1000.4 700.8,1006.8 718.4,1013.5 735.8,1020.6 753.0,1028.1 770.1,1036.0 787.0,1044.4 803.6,1053.2 819.9,1062.4 836.0,1072.2 851.8,1082.4 867.4,1093.0 882.8,1103.8 898.0,1114.8 913.2,1125.9 928.1,1137.3 942.5,1149.5 955.9,1162.7 968.2,1176.9 979.1,1192.2 988.6,1208.5 996.3,1225.6 1002.2,1243.5 1006.4,1261.8 1009.0,1280.4 1010.0,1299.2 1009.4,1318.0 1038.6,1304.5 1038.3,1285.3 1036.3,1266.3 1032.4,1247.6 1026.8,1229.3 1019.5,1211.6 1010.5,1194.8 999.9,1178.8 988.0,1163.8 974.9,1149.7 960.8,1136.6 945.9,1124.5 930.5,1113.0 914.8,1101.8 898.9,1090.9 882.9,1080.3 866.7,1069.9 850.3,1059.9 833.6,1050.3 816.7,1041.2 799.5,1032.5 782.1,1024.3 764.5,1016.4 746.8,1009.0 728.9,1001.9 710.8,995.2 692.7,988.9 674.4,982.9 656.0,977.2 637.5,971.9 618.9,966.8 600.3,962.0 581.6,957.5 562.8,953.2 544.0,949.2 525.1,945.4 506.2,941.8 487.2,938.5 468.2,935.4 449.2,932.5 430.1,929.8 411.0,927.3 391.9,925.0 372.8,923.0 353.6,921.2 334.4,919.8 315.2,918.6 296.0,917.7" fill="#00ebff" stroke="#00ebff" stroke-width="1.6"/>
<polygon points="296.0,917.7 315.2,918.6 334.4,919.8 353.6,921.2 372.8,923.0 391.9,925.0 411.0,927.3 430.1,929.8 449.2,932.5 468.2,935.4 487.2,938.5 506.2,941.8 525.1,945.4 544.0,949.2 562.8,953.2 581.6,957.5 600.3,962.0 618.9,966.8 637.5,971.9 656.0,977.2 674.4,982.9 692.7,988.9 710.8,995.2 728.9,1001.9 746.8,1009.0 764.5,1016.4 782.1,1024.3 799.5,1032.5 816.7,1041.2 833.6,1050.3 850.3,1059.9 866.7,1069.9 882.9,1080.3 898.9,1090.9 914.8,1101.8 930.5,1113.0 945.9,1124.5 960.8,1136.6 974.9,1149.7 988.0,1163.8 999.9,1178.8 1010.5,1194.8 1019.5,1211.6 1026.8,1229.3 1032.4,1247.6 1036.3,1266.3 1038.3,1285.3 1038.6,1304.5 1067.7,1291.1 1066.7,1271.5 1063.6,1252.1 1058.4,1233.3 1051.4,1215.1 1042.7,1197.7 1032.4,1181.1 1020.6,1165.4 1007.7,1150.7 993.8,1136.8 979.1,1123.8 963.7,1111.6 947.7,1100.0 931.5,1088.9 915.1,1078.1 898.4,1067.6 881.6,1057.4 864.5,1047.6 847.3,1038.2 829.8,1029.3 812.0,1020.7 794.1,1012.5 776.0,1004.7 757.8,997.4 739.4,990.3 720.9,983.7 702.2,977.4 683.5,971.4 664.6,965.8 645.6,960.5 626.6,955.4 607.5,950.7 588.3,946.2 569.1,942.0 549.8,938.1 530.5,934.4 511.1,930.9 491.7,927.6 472.2,924.5 452.7,921.6 433.2,918.8 413.7,916.3 394.2,914.0 374.6,912.0 355.0,910.3 335.3,908.9 315.6,907.9 296.0,907.3" fill="#00f3ff" stroke="#00f3ff" stroke-width="1.6"/>
<polygon points="296.0,907.3 315.6,907.9 335.3,908.9 355.0,910.3 374.6,912.0 394.2,914.0 413.7,916.3 433.2,918.8 452.7,921.6 472.2,924.5 491.7,927.6 511.1,930.9 530.5,934.4 549.8,938.1 569.1,942.0 588.3,946.2 607.5,950.7 626.6,955.4 645.6,960.5 664.6,965.8 683.5,971.4 702.2,977.4 720.9,983.7 739.4,990.3 757.8,997.4 776.0,1004.7 794.1,1012.5 812.0,1020.7 829.8,1029.3 847.3,1038.2 864.5,1047.6 881.6,1057.4 898.4,1067.6 915.1,1078.1 931.5,1088.9 947.7,1100.0 963.7,1111.6 979.1,1123.8 993.8,1136.8 1007.7,1150.7 1020.6,1165.4 1032.4,1181.1 1042.7,1197.7 1051.4,1215.1 1058.4,1233.3 1063.6,1252.1 1066.7,1271.5 1067.7,1291.1 1096.9,1277.6 1095.0,1257.6 1090.8,1238.0 1084.5,1219.0 1076.1,1200.9 1065.9,1183.7 1054.3,1167.4 1041.4,1152.0 1027.5,1137.6 1012.8,1123.9 997.4,1110.9 981.4,1098.7 965.0,1087.1 948.2,1075.9 931.2,1065.2 914.0,1054.9 896.5,1044.9 878.8,1035.3 860.9,1026.1 842.8,1017.3 824.6,1008.9 806.1,1000.8 787.6,993.1 768.8,985.7 749.9,978.8 730.9,972.2 711.8,965.9 692.6,959.9 673.2,954.3 653.8,949.0 634.3,944.1 614.7,939.4 595.1,935.0 575.4,930.9 555.6,927.0 535.8,923.3 516.0,919.9 496.1,916.7 476.2,913.6 456.3,910.7 436.4,907.9 416.4,905.3 396.4,903.0 376.4,901.0 356.3,899.3 336.2,898.0 316.1,897.2 296.0,896.9" fill="#00fbff" stroke="#00fbff" stroke-width="1.6"/>
<polygon points="296.0,896.9 316.1,897.2 336.2,898.0 356.3,899.3 376.4,901.0 396.4,903.0 416.4,905.3 436.4,907.9 456.3,910.7 476.2,913.6 496.1,916.7 516.0,919.9 535.8,923.3 555.6,927.0 575.4,930.9 595.1,935.0 614.7,939.4 634.3,944.1 653.8,949.0 673.2,954.3 692.6,959.9 711.8,965.9 730.9,972.2 749.9,978.8 768.8,985.7 787.6,993.1 806.1,1000.8 824.6,1008.9 842.8,1017.3 860.9,1026.1 878.8,1035.3 896.5,1044.9 914.0,1054.9 931.2,1065.2 948.2,1075.9 965.0,1087.1 981.4,1098.7 997.4,1110.9 1012.8,1123.9 1027.5,1137.6 1041.4,1152.0 1054.3,1167.4 1065.9,1183.7 1076.1,1200.9 1084.5,1219.0 1090.8,1238.0 1095.0,1257.6 1096.9,1277.6 1126.0,1264.1 1123.4,1243.7 1118.1,1223.9 1110.5,1204.8 1100.7,1186.7 1089.1,1169.7 1076.2,1153.7 1062.2,1138.7 1047.3,1124.5 1031.8,1110.9 1015.7,1098.1 999.2,1085.8 982.3,1074.1 965.0,1063.0 947.4,1052.3 929.5,1042.2 911.4,1032.4 893.1,1023.0 874.6,1014.0 855.9,1005.3 837.1,997.0 818.2,989.0 799.1,981.4 779.8,974.1 760.4,967.2 741.0,960.6 721.4,954.4 701.7,948.5 681.9,942.9 662.0,937.6 642.0,932.7 621.9,928.1 601.8,923.8 581.7,919.7 561.4,915.9 541.2,912.3 520.9,908.9 500.6,905.7 480.2,902.7 459.9,899.8 439.5,897.0 419.1,894.4 398.6,892.0 378.2,890.0 357.7,888.3 337.1,887.2 316.6,886.5 296.0,886.5" fill="#04fffb" stroke="#04fffb" stroke-width="1.6"/>
<polygon points="296.0,886.5 316.6,886.5 337.1,887.2 357.7,888.3 378.2,890.0 398.6,892.0 419.1,894.4 439.5,897.0 459.9,899.8 480.2,902.7 500.6,905.7 520.9,908.9 541.2,912.3 561.4,915.9 581.7,919.7 601.8,923.8 621.9,928.1 642.0,932.7 662.0,937.6 681.9,942.9 701.7,948.5 721.4,954.4 741.0,960.6 760.4,967.2 779.8,974.1 799.1,981.4 818.2,989.0 837.1,997.0 855.9,1005.3 874.6,1014.0 893.1,1023.0 911.4,1032.4 929.5,1042.2 947.4,1052.3 965.0,1063.0 982.3,1074.1 999.2,1085.8 1015.7,1098.1 1031.8,1110.9 1047.3,1124.5 1062.2,1138.7 1076.2,1153.7 1089.1,1169.7 1100.7,1186.7 1110.5,1204.8 1118.1,1223.9 1123.4,1243.7 1126.0,1264.1 1154.9,1249.6 1150.9,1229.0 1144.4,1209.1 1135.6,1190.1 1124.8,1172.1 1112.4,1155.3 1098.6,1139.4 1083.8,1124.5 1068.2,1110.4 1052.0,1097.1 1035.2,1084.4 1018.0,1072.3 1000.4,1060.7 982.5,1049.8 964.2,1039.4 945.7,1029.4 927.0,1019.9 908.0,1010.8 888.9,1002.0 869.7,993.6 850.3,985.5 830.7,977.8 811.0,970.3 791.3,963.2 771.4,956.4 751.4,949.9 731.3,943.7 711.1,937.8 690.8,932.2 670.4,926.9 650.0,921.9 629.5,917.3 608.9,912.9 588.3,908.7 567.6,904.8 546.9,901.2 526.1,897.8 505.3,894.5 484.5,891.5 463.7,888.6 442.8,885.9 421.9,883.4 401.0,881.2 380.0,879.3 359.1,877.8 338.0,876.7 317.0,876.1 296.0,876.0" fill="#0dfff2" stroke="#0dfff2" stroke-width="1.6"/>
<polygon points="296.0,876.0 317.0,876.1 338.0,876.7 359.1,877.8 380.0,879.3 401.0,881.2 421.9,883.4 442.8,885.9 463.7,888.6 484.5,891.5 505.3,894.5 526.1,897.8 546.9,901.2 567.6,904.8 588.3,908.7 608.9,912.9 629.5,917.3 650.0,921.9 670.4,926.9 690.8,932.2 711.1,937.8 731.3,943.7 751.4,949.9 771.4,956.4 791.3,963.2 811.0,970.3 830.7,977.8 850.3,985.5 869.7,993.6 888.9,1002.0 908.0,1010.8 927.0,1019.9 945.7,1029.4 964.2,1039.4 982.5,1049.8 1000.4,1060.7 1018.0,1072.3 1035.2,1084.4 1052.0,1097.1 1068.2,1110.4 1083.8,1124.5 1098.6,1139.4 1112.4,1155.3 1124.8,1172.1 1135.6,1190.1 1144.4,1209.1 1150.9,1229.0 1154.9,1249.6 1183.8,1235.0 1178.4,1214.3 1170.7,1194.4 1160.8,1175.5 1149.0,1157.6 1135.6,1140.8 1121.0,1125.1 1105.4,1110.4 1089.1,1096.4 1072.1,1083.2 1054.7,1070.6 1036.9,1058.7 1018.6,1047.4 1000.0,1036.6 981.1,1026.4 962.0,1016.7 942.6,1007.4 923.0,998.5 903.3,990.0 883.4,981.9 863.4,974.0 843.3,966.5 823.0,959.2 802.7,952.3 782.3,945.6 761.8,939.1 741.2,933.0 720.5,927.1 699.7,921.5 678.9,916.2 658.0,911.2 637.0,906.4 616.0,901.9 594.9,897.7 573.7,893.8 552.5,890.0 531.3,886.6 510.1,883.3 488.8,880.3 467.5,877.5 446.1,874.9 424.7,872.5 403.3,870.4 381.9,868.7 360.5,867.2 339.0,866.2 317.5,865.6 296.0,865.5" fill="#15ffea" stroke="#15ffea" stroke-width="1.6"/>
<polygon points="296.0,865.5 317.5,865.6 339.0,866.2 360.5,867.2 381.9,868.7 403.3,870.4 424.7,872.5 446.1,874.9 467.5,877.5 488.8,880.3 510.1,883.3 531.3,886.6 552.5,890.0 573.7,893.8 594.9,897.7 616.0,901.9 637.0,906.4 658.0,911.2 678.9,916.2 699.7,921.5 720.5,927.1 741.2,933.0 761.8,939.1 782.3,945.6 802.7,952.3 823.0,959.2 843.3,966.5 863.4,974.0 883.4,981.9 903.3,990.0 923.0,998.5 942.6,1007.4 962.0,1016.7 981.1,1026.4 1000.0,1036.6 1018.6,1047.4 1036.9,1058.7 1054.7,1070.6 1072.1,1083.2 1089.1,1096.4 1105.4,1110.4 1121.0,1125.1 1135.6,1140.8 1149.0,1157.6 1160.8,1175.5 1170.7,1194.4 1178.4,1214.3 1183.8,1235.0 1212.6,1220.5 1205.9,1199.7 1196.9,1179.7 1185.9,1160.8 1173.1,1143.1 1158.8,1126.4 1143.4,1110.8 1127.0,1096.2 1109.9,1082.4 1092.3,1069.3 1074.2,1056.9 1055.7,1045.1 1036.8,1034.0 1017.5,1023.4 998.0,1013.4 978.2,1003.9 958.2,994.9 938.0,986.3 917.6,978.0 897.1,970.1 876.5,962.5 855.8,955.2 835.0,948.2 814.2,941.3 793.2,934.8 772.2,928.4 751.1,922.3 729.9,916.4 708.6,910.8 687.3,905.5 666.0,900.4 644.5,895.6 623.0,891.0 601.5,886.7 579.9,882.7 558.2,878.9 536.5,875.4 514.8,872.1 493.1,869.1 471.3,866.3 449.4,863.8 427.6,861.6 405.7,859.6 383.8,858.0 361.8,856.7 339.9,855.8 317.9,855.2 296.0,855.0" fill="#1dffe2" stroke="#1dffe2" stroke-width="1.6"/>
<polygon points="296.0,855.0 317.9,855.2 339.9,855.8 361.8,856.7 383.8,858.0 405.7,859.6 427.6,861.6 449.4,863.8 471.3,866.3 493.1,869.1 514.8,872.1 536.5,875.4 558.2,878.9 579.9,882.7 601.5,886.7 623.0,891.0 644.5,895.6 666.0,900.4 687.3,905.5 708.6,910.8 729.9,916.4 751.1,922.3 772.2,928.4 793.2,934.8 814.2,941.3 835.0,948.2 855.8,955.2 876.5,962.5 897.1,970.1 917.6,978.0 938.0,986.3 958.2,994.9 978.2,1003.9 998.0,1013.4 1017.5,1023.4 1036.8,1034.0 1055.7,1045.1 1074.2,1056.9 1092.3,1069.3 1109.9,1082.4 1127.0,1096.2 1143.4,1110.8 1158.8,1126.4 1173.1,1143.1 1185.9,1160.8 1196.9,1179.7 1205.9,1199.7 1212.6,1220.5 1241.5,1205.9 1233.4,1185.0 1223.2,1165.0 1211.0,1146.2 1197.2,1128.5 1182.0,1112.0 1165.7,1096.6 1148.6,1082.1 1130.8,1068.4 1112.5,1055.4 1093.7,1043.2 1074.5,1031.6 1054.9,1020.6 1035.0,1010.3 1014.8,1000.5 994.4,991.2 973.8,982.4 952.9,974.0 932.0,966.0 910.9,958.4 889.7,951.0 868.4,943.9 847.0,937.1 825.6,930.4 804.1,923.9 782.6,917.7 761.0,911.6 739.3,905.8 717.6,900.2 695.8,894.8 673.9,889.7 652.0,884.8 630.1,880.1 608.1,875.7 586.0,871.6 563.9,867.8 541.8,864.2 519.6,860.9 497.3,857.9 475.1,855.2 452.7,852.8 430.4,850.6 408.0,848.8 385.7,847.3 363.2,846.1 340.8,845.3 318.4,844.7 296.0,844.5" fill="#25ffda" stroke="#25ffda" stroke-width="1.6"/>
<polygon points="296.0,844.5 318.4,844.7 340.8,845.3 363.2,846.1 385.7,847.3 408.0,848.8 430.4,850.6 452.7,852.8 475.1,855.2 497.3,857.9 519.6,860.9 541.8,864.2 563.9,867.8 586.0,871.6 608.1,875.7 630.1,880.1 652.0,884.8 673.9,889.7 695.8,894.8 717.6,900.2 739.3,905.8 761.0,911.6 782.6,917.7 804.1,923.9 825.6,930.4 847.0,937.1 868.4,943.9 889.7,951.0 910.9,958.4 932.0,966.0 952.9,974.0 973.8,982.4 994.4,991.2 1014.8,1000.5 1035.0,1010.3 1054.9,1020.6 1074.5,1031.6 1093.7,1043.2 1112.5,1055.4 1130.8,1068.4 1148.6,1082.1 1165.7,1096.6 1182.0,1112.0 1197.2,1128.5 1211.0,1146.2 1223.2,1165.0 1233.4,1185.0 1241.5,1205.9 1269.5,1192.4 1260.5,1171.3 1249.3,1151.4 1236.2,1132.6 1221.5,1115.1 1205.4,1098.7 1188.4,1083.5 1170.5,1069.1 1152.0,1055.6 1133.0,1042.8 1113.5,1030.7 1093.6,1019.3 1073.4,1008.4 1052.9,998.2 1032.1,988.5 1011.1,979.3 989.9,970.6 968.5,962.3 947.0,954.3 925.4,946.7 903.7,939.3 881.9,932.2 860.0,925.3 838.0,918.7 816.0,912.2 793.9,906.0 771.8,900.0 749.6,894.2 727.3,888.7 705.0,883.4 682.7,878.3 660.2,873.5 637.7,869.0 615.2,864.7 592.6,860.6 570.0,856.9 547.3,853.4 524.6,850.2 501.9,847.3 479.1,844.6 456.3,842.3 433.4,840.2 410.6,838.5 387.7,837.0 364.8,835.8 341.8,835.0 318.9,834.4 296.0,834.2" fill="#2dffd2" stroke="#2dffd2" stroke-width="1.6"/>
<polygon points="296.0,834.2 318.9,834.4 341.8,835.0 364.8,835.8 387.7,837.0 410.6,838.5 433.4,840.2 456.3,842.3 479.1,844.6 501.9,847.3 524.6,850.2 547.3,853.4 570.0,856.9 592.6,860.6 615.2,864.7 637.7,869.0 660.2,873.5 682.7,878.3 705.0,883.4 727.3,888.7 749.6,894.2 771.8,900.0 793.9,906.0 816.0,912.2 838.0,918.7 860.0,925.3 881.9,932.2 903.7,939.3 925.4,946.7 947.0,954.3 968.5,962.3 989.9,970.6 1011.1,979.3 1032.1,988.5 1052.9,998.2 1073.4,1008.4 1093.6,1019.3 1113.5,1030.7 1133.0,1042.8 1152.0,1055.6 1170.5,1069.1 1188.4,1083.5 1205.4,1098.7 1221.5,1115.1 1236.2,1132.6 1249.3,1151.4 1260.5,1171.3 1269.5,1192.4 1297.5,1178.8 1287.6,1157.7 1275.4,1137.7 1261.4,1119.0 1245.7,1101.6 1228.9,1085.5 1211.0,1070.4 1192.4,1056.2 1173.1,1042.8 1153.4,1030.2 1133.3,1018.2 1112.8,1006.9 1091.9,996.3 1070.8,986.2 1049.4,976.6 1027.8,967.5 1006.0,958.8 984.1,950.6 962.1,942.6 939.9,934.9 917.7,927.6 895.3,920.4 872.9,913.6 850.5,906.9 827.9,900.5 805.3,894.3 782.6,888.3 759.9,882.6 737.1,877.1 714.3,871.9 691.4,866.9 668.4,862.2 645.4,857.8 622.4,853.6 599.2,849.7 576.1,846.0 552.9,842.6 529.7,839.5 506.4,836.6 483.1,834.1 459.8,831.8 436.4,829.8 413.1,828.1 389.7,826.7 366.3,825.5 342.8,824.7 319.4,824.1 296.0,823.8" fill="#35ffca" stroke="#35ffca" stroke-width="1.6"/>
<polygon points="296.0,823.8 319.4,824.1 342.8,824.7 366.3,825.5 389.7,826.7 413.1,828.1 436.4,829.8 459.8,831.8 483.1,834.1 506.4,836.6 529.7,839.5 552.9,842.6 576.1,846.0 599.2,849.7 622.4,853.6 645.4,857.8 668.4,862.2 691.4,866.9 714.3,871.9 737.1,877.1 759.9,882.6 782.6,888.3 805.3,894.3 827.9,900.5 850.5,906.9 872.9,913.6 895.3,920.4 917.7,927.6 939.9,934.9 962.1,942.6 984.1,950.6 1006.0,958.8 1027.8,967.5 1049.4,976.6 1070.8,986.2 1091.9,996.3 1112.8,1006.9 1133.3,1018.2 1153.4,1030.2 1173.1,1042.8 1192.4,1056.2 1211.0,1070.4 1228.9,1085.5 1245.7,1101.6 1261.4,1119.0 1275.4,1137.7 1287.6,1157.7 1297.5,1178.8 1325.5,1165.3 1314.6,1144.0 1301.5,1124.1 1286.5,1105.5 1270.0,1088.2 1252.3,1072.2 1233.6,1057.3 1214.2,1043.2 1194.3,1030.0 1173.9,1017.5 1153.1,1005.7 1131.9,994.6 1110.4,984.1 1088.6,974.1 1066.7,964.7 1044.5,955.7 1022.1,947.1 999.7,938.8 977.1,930.9 954.4,923.2 931.7,915.8 908.8,908.7 885.9,901.8 862.9,895.1 839.8,888.7 816.7,882.6 793.5,876.7 770.2,871.0 746.9,865.6 723.5,860.5 700.1,855.6 676.6,851.0 653.1,846.6 629.5,842.5 605.9,838.7 582.2,835.1 558.5,831.8 534.7,828.8 511.0,826.0 487.2,823.5 463.3,821.3 439.5,819.4 415.6,817.7 391.7,816.3 367.8,815.2 343.8,814.3 319.9,813.8 296.0,813.5" fill="#3effc1" stroke="#3effc1" stroke-width="1.6"/>
<polygon points="296.0,813.5 319.9,813.8 343.8,814.3 367.8,815.2 391.7,816.3 415.6,817.7 439.5,819.4 463.3,821.3 487.2,823.5 511.0,826.0 534.7,828.8 558.5,831.8 582.2,835.1 605.9,838.7 629.5,842.5 653.1,846.6 676.6,851.0 700.1,855.6 723.5,860.5 746.9,865.6 770.2,871.0 793.5,876.7 816.7,882.6 839.8,888.7 862.9,895.1 885.9,901.8 908.8,908.7 931.7,915.8 954.4,923.2 977.1,930.9 999.7,938.8 1022.1,947.1 1044.5,955.7 1066.7,964.7 1088.6,974.1 1110.4,984.1 1131.9,994.6 1153.1,1005.7 1173.9,1017.5 1194.3,1030.0 1214.2,1043.2 1233.6,1057.3 1252.3,1072.2 1270.0,1088.2 1286.5,1105.5 1301.5,1124.1 1314.6,1144.0 1325.5,1165.3 1353.6,1151.8 1341.7,1130.4 1327.6,1110.4 1311.7,1091.9 1294.3,1074.8 1275.7,1058.9 1256.2,1044.2 1236.1,1030.3 1215.5,1017.2 1194.4,1004.9 1172.9,993.2 1151.0,982.3 1128.9,971.9 1106.5,962.1 1083.9,952.7 1061.2,943.8 1038.3,935.3 1015.3,927.1 992.1,919.2 968.9,911.5 945.6,904.1 922.3,896.9 898.8,890.0 875.3,883.4 851.7,877.0 828.1,870.9 804.3,865.0 780.5,859.4 756.7,854.1 732.8,849.0 708.8,844.2 684.8,839.7 660.7,835.4 636.6,831.4 612.5,827.7 588.3,824.2 564.1,821.0 539.8,818.1 515.5,815.4 491.2,813.0 466.8,810.8 442.5,809.0 418.1,807.3 393.7,806.0 369.3,804.9 344.8,804.0 320.4,803.5 296.0,803.1" fill="#46ffb9" stroke="#46ffb9" stroke-width="1.6"/>
<polygon points="296.0,803.1 320.4,803.5 344.8,804.0 369.3,804.9 393.7,806.0 418.1,807.3 442.5,809.0 466.8,810.8 491.2,813.0 515.5,815.4 539.8,818.1 564.1,821.0 588.3,824.2 612.5,827.7 636.6,831.4 660.7,835.4 684.8,839.7 708.8,844.2 732.8,849.0 756.7,854.1 780.5,859.4 804.3,865.0 828.1,870.9 851.7,877.0 875.3,883.4 898.8,890.0 922.3,896.9 945.6,904.1 968.9,911.5 992.1,919.2 1015.3,927.1 1038.3,935.3 1061.2,943.8 1083.9,952.7 1106.5,962.1 1128.9,971.9 1151.0,982.3 1172.9,993.2 1194.4,1004.9 1215.5,1017.2 1236.1,1030.3 1256.2,1044.2 1275.7,1058.9 1294.3,1074.8 1311.7,1091.9 1327.6,1110.4 1341.7,1130.4 1353.6,1151.8 1380.8,1139.2 1368.4,1117.6 1353.7,1097.4 1337.2,1078.7 1319.1,1061.5 1299.8,1045.7 1279.7,1030.9 1258.9,1017.1 1237.6,1004.1 1215.9,991.8 1193.8,980.3 1171.3,969.4 1148.6,959.1 1125.6,949.3 1102.4,940.1 1079.0,931.3 1055.5,922.9 1031.9,914.8 1008.2,907.0 984.4,899.5 960.5,892.2 936.5,885.2 912.5,878.4 888.4,871.9 864.2,865.6 840.0,859.6 815.7,853.8 791.3,848.3 766.9,843.1 742.5,838.0 718.0,833.3 693.4,828.8 668.8,824.6 644.1,820.6 619.4,816.9 594.7,813.5 569.9,810.3 545.1,807.4 520.3,804.7 495.4,802.4 470.6,800.2 445.7,798.4 420.7,796.8 395.8,795.5 370.9,794.4 345.9,793.6 320.9,793.1 296.0,792.8" fill="#4effb1" stroke="#4effb1" stroke-width="1.6"/>
<polygon points="296.0,792.8 320.9,793.1 345.9,793.6 370.9,794.4 395.8,795.5 420.7,796.8 445.7,798.4 470.6,800.2 495.4,802.4 520.3,804.7 545.1,807.4 569.9,810.3 594.7,813.5 619.4,816.9 644.1,820.6 668.8,824.6 693.4,828.8 718.0,833.3 742.5,838.0 766.9,843.1 791.3,848.3 815.7,853.8 840.0,859.6 864.2,865.6 888.4,871.9 912.5,878.4 936.5,885.2 960.5,892.2 984.4,899.5 1008.2,907.0 1031.9,914.8 1055.5,922.9 1079.0,931.3 1102.4,940.1 1125.6,949.3 1148.6,959.1 1171.3,969.4 1193.8,980.3 1215.9,991.8 1237.6,1004.1 1258.9,1017.1 1279.7,1030.9 1299.8,1045.7 1319.1,1061.5 1337.2,1078.7 1353.7,1097.4 1368.4,1117.6 1380.8,1139.2 1408.1,1126.7 1395.1,1104.8 1379.8,1084.4 1362.7,1065.6 1343.9,1048.3 1324.0,1032.4 1303.2,1017.7 1281.7,1004.0 1259.8,991.0 1237.4,978.8 1214.6,967.3 1191.6,956.5 1168.2,946.2 1144.6,936.6 1120.8,927.4 1096.9,918.7 1072.7,910.4 1048.5,902.5 1024.2,894.8 999.8,887.5 975.3,880.4 950.7,873.5 926.1,866.8 901.5,860.4 876.7,854.2 851.9,848.3 827.1,842.6 802.1,837.2 777.2,832.0 752.2,827.0 727.1,822.4 702.0,817.9 676.8,813.7 651.6,809.8 626.4,806.1 601.1,802.7 575.8,799.6 550.5,796.7 525.1,794.1 499.7,791.7 474.3,789.6 448.9,787.8 423.4,786.3 397.9,785.0 372.4,784.0 347.0,783.2 321.5,782.7 296.0,782.5" fill="#56ffa9" stroke="#56ffa9" stroke-width="1.6"/>
<polygon points="296.0,782.5 321.5,782.7 347.0,783.2 372.4,784.0 397.9,785.0 423.4,786.3 448.9,787.8 474.3,789.6 499.7,791.7 525.1,794.1 550.5,796.7 575.8,799.6 601.1,802.7 626.4,806.1 651.6,809.8 676.8,813.7 702.0,817.9 727.1,822.4 752.2,827.0 777.2,832.0 802.1,837.2 827.1,842.6 851.9,848.3 876.7,854.2 901.5,860.4 926.1,866.8 950.7,873.5 975.3,880.4 999.8,887.5 1024.2,894.8 1048.5,902.5 1072.7,910.4 1096.9,918.7 1120.8,927.4 1144.6,936.6 1168.2,946.2 1191.6,956.5 1214.6,967.3 1237.4,978.8 1259.8,991.0 1281.7,1004.0 1303.2,1017.7 1324.0,1032.4 1343.9,1048.3 1362.7,1065.6 1379.8,1084.4 1395.1,1104.8 1408.1,1126.7 1435.4,1114.2 1421.8,1092.0 1405.9,1071.4 1388.1,1052.4 1368.8,1035.1 1348.2,1019.2 1326.7,1004.5 1304.5,990.8 1281.9,977.9 1258.9,965.8 1235.5,954.3 1211.8,943.6 1187.9,933.4 1163.7,923.8 1139.3,914.8 1114.7,906.2 1090.0,898.0 1065.1,890.2 1040.2,882.7 1015.2,875.5 990.1,868.5 965.0,861.8 939.8,855.2 914.5,848.9 889.2,842.9 863.8,837.0 838.4,831.4 812.9,826.1 787.4,820.9 761.9,816.0 736.2,811.4 710.6,807.0 684.9,802.9 659.1,799.0 633.4,795.4 607.5,792.0 581.7,788.9 555.8,786.0 529.9,783.4 504.0,781.1 478.0,779.0 452.0,777.3 426.1,775.7 400.1,774.5 374.0,773.5 348.0,772.8 322.0,772.3 295.9,772.2" fill="#5effa1" stroke="#5effa1" stroke-width="1.6"/>
<polygon points="295.9,772.2 322.0,772.3 348.0,772.8 374.0,773.5 400.1,774.5 426.1,775.7 452.0,777.3 478.0,779.0 504.0,781.1 529.9,783.4 555.8,786.0 581.7,788.9 607.5,792.0 633.4,795.4 659.1,799.0 684.9,802.9 710.6,807.0 736.2,811.4 761.9,816.0 787.4,820.9 812.9,826.1 838.4,831.4 863.8,837.0 889.2,842.9 914.5,848.9 939.8,855.2 965.0,861.8 990.1,868.5 1015.2,875.5 1040.2,882.7 1065.1,890.2 1090.0,898.0 1114.7,906.2 1139.3,914.8 1163.7,923.8 1187.9,933.4 1211.8,943.6 1235.5,954.3 1258.9,965.8 1281.9,977.9 1304.5,990.8 1326.7,1004.5 1348.2,1019.2 1368.8,1035.1 1388.1,1052.4 1405.9,1071.4 1421.8,1092.0 1435.4,1114.2 1462.7,1101.7 1448.5,1079.2 1432.1,1058.4 1413.6,1039.3 1393.6,1021.8 1372.3,1005.9 1350.1,991.3 1327.3,977.6 1304.1,964.8 1280.4,952.7 1256.4,941.3 1232.1,930.6 1207.5,920.6 1182.7,911.1 1157.7,902.1 1132.5,893.6 1107.2,885.5 1081.8,877.9 1056.2,870.5 1030.6,863.5 1005.0,856.6 979.2,850.0 953.4,843.6 927.6,837.5 901.7,831.5 875.8,825.7 849.8,820.2 823.8,814.9 797.7,809.9 771.5,805.0 745.4,800.5 719.2,796.1 692.9,792.0 666.6,788.2 640.3,784.6 614.0,781.2 587.6,778.2 561.1,775.3 534.7,772.8 508.2,770.5 481.7,768.4 455.2,766.7 428.7,765.2 402.2,764.0 375.6,763.0 349.1,762.4 322.5,762.0 295.9,761.9" fill="#66ff99" stroke="#66ff99" stroke-width="1.6"/>
<polygon points="295.9,761.9 322.5,762.0 349.1,762.4 375.6,763.0 402.2,764.0 428.7,765.2 455.2,766.7 481.7,768.4 508.2,770.5 534.7,772.8 561.1,775.3 587.6,778.2 614.0,781.2 640.3,784.6 666.6,788.2 692.9,792.0 719.2,796.1 745.4,800.5 771.5,805.0 797.7,809.9 823.8,814.9 849.8,820.2 875.8,825.7 901.7,831.5 927.6,837.5 953.4,843.6 979.2,850.0 1005.0,856.6 1030.6,863.5 1056.2,870.5 1081.8,877.9 1107.2,885.5 1132.5,893.6 1157.7,902.1 1182.7,911.1 1207.5,920.6 1232.1,930.6 1256.4,941.3 1280.4,952.7 1304.1,964.8 1327.3,977.6 1350.1,991.3 1372.3,1005.9 1393.6,1021.8 1413.6,1039.3 1432.1,1058.4 1448.5,1079.2 1462.7,1101.7 1492.3,1087.0 1476.0,1065.7 1457.9,1045.9 1438.1,1027.5 1417.1,1010.5 1395.0,994.9 1372.1,980.4 1348.7,966.8 1324.9,954.0 1300.6,941.9 1276.1,930.5 1251.2,919.7 1226.1,909.5 1200.8,899.9 1175.3,890.9 1149.6,882.3 1123.7,874.1 1097.8,866.3 1071.7,858.9 1045.6,851.8 1019.4,845.0 993.1,838.4 966.8,832.0 940.4,825.9 914.0,820.0 887.5,814.3 861.0,808.9 834.4,803.6 807.7,798.7 781.1,793.9 754.4,789.5 727.6,785.2 700.8,781.2 674.0,777.4 647.1,773.9 620.3,770.7 593.3,767.7 566.4,764.9 539.4,762.4 512.4,760.1 485.4,758.1 458.4,756.4 431.3,754.9 404.3,753.7 377.2,752.7 350.1,752.0 323.0,751.5 296.0,751.3" fill="#6eff91" stroke="#6eff91" stroke-width="1.6"/>
<polygon points="296.0,751.3 323.0,751.5 350.1,752.0 377.2,752.7 404.3,753.7 431.3,754.9 458.4,756.4 485.4,758.1 512.4,760.1 539.4,762.4 566.4,764.9 593.3,767.7 620.3,770.7 647.1,773.9 674.0,777.4 700.8,781.2 727.6,785.2 754.4,789.5 781.1,793.9 807.7,798.7 834.4,803.6 861.0,808.9 887.5,814.3 914.0,820.0 940.4,825.9 966.8,832.0 993.1,838.4 1019.4,845.0 1045.6,851.8 1071.7,858.9 1097.8,866.3 1123.7,874.1 1149.6,882.3 1175.3,890.9 1200.8,899.9 1226.1,909.5 1251.2,919.7 1276.1,930.5 1300.6,941.9 1324.9,954.0 1348.7,966.8 1372.1,980.4 1395.0,994.9 1417.1,1010.5 1438.1,1027.5 1457.9,1045.9 1476.0,1065.7 1492.3,1087.0 1521.9,1072.3 1503.5,1052.2 1483.7,1033.4 1462.6,1015.7 1440.6,999.3 1417.7,983.9 1394.1,969.5 1370.1,956.0 1345.6,943.2 1320.8,931.0 1295.7,919.6 1270.3,908.7 1244.7,898.5 1218.9,888.8 1192.8,879.6 1166.6,870.9 1140.3,862.7 1113.8,854.8 1087.2,847.3 1060.6,840.2 1033.8,833.3 1007.0,826.8 980.1,820.4 953.2,814.3 926.2,808.5 899.2,802.9 872.1,797.5 845.0,792.4 817.8,787.5 790.6,782.8 763.4,778.4 736.1,774.3 708.7,770.4 681.4,766.7 654.0,763.3 626.6,760.1 599.1,757.2 571.6,754.5 544.1,752.0 516.6,749.8 489.1,747.9 461.5,746.1 434.0,744.6 406.4,743.4 378.8,742.4 351.2,741.6 323.6,741.1 296.0,740.8" fill="#77ff88" stroke="#77ff88" stroke-width="1.6"/>
<polygon points="296.0,740.8 323.6,741.1 351.2,741.6 378.8,742.4 406.4,743.4 434.0,744.6 461.5,746.1 489.1,747.9 516.6,749.8 544.1,752.0 571.6,754.5 599.1,757.2 626.6,760.1 654.0,763.3 681.4,766.7 708.7,770.4 736.1,774.3 763.4,778.4 790.6,782.8 817.8,787.5 845.0,792.4 872.1,797.5 899.2,802.9 926.2,808.5 953.2,814.3 980.1,820.4 1007.0,826.8 1033.8,833.3 1060.6,840.2 1087.2,847.3 1113.8,854.8 1140.3,862.7 1166.6,870.9 1192.8,879.6 1218.9,888.8 1244.7,898.5 1270.3,908.7 1295.7,919.6 1320.8,931.0 1345.6,943.2 1370.1,956.0 1394.1,969.5 1417.7,983.9 1440.6,999.3 1462.6,1015.7 1483.7,1033.4 1503.5,1052.2 1521.9,1072.3 1551.5,1057.6 1531.0,1038.8 1509.5,1020.9 1487.2,1004.0 1464.1,988.0 1440.4,972.9 1416.1,958.7 1391.5,945.2 1366.4,932.3 1341.1,920.2 1315.4,908.7 1289.5,897.8 1263.3,887.4 1236.9,877.6 1210.4,868.4 1183.7,859.6 1156.8,851.2 1129.8,843.3 1102.7,835.8 1075.5,828.6 1048.2,821.7 1020.9,815.1 993.5,808.8 966.0,802.8 938.5,797.0 910.9,791.4 883.3,786.1 855.6,781.1 827.9,776.3 800.1,771.7 772.3,767.4 744.5,763.4 716.6,759.6 688.7,756.0 660.8,752.6 632.9,749.5 604.9,746.7 576.9,744.1 548.8,741.7 520.8,739.5 492.7,737.6 464.7,735.8 436.6,734.4 408.5,733.1 380.4,732.1 352.2,731.3 324.1,730.7 296.0,730.3" fill="#7fff80" stroke="#7fff80" stroke-width="1.6"/>
<polygon points="296.0,730.3 324.1,730.7 352.2,731.3 380.4,732.1 408.5,733.1 436.6,734.4 464.7,735.8 492.7,737.6 520.8,739.5 548.8,741.7 576.9,744.1 604.9,746.7 632.9,749.5 660.8,752.6 688.7,756.0 716.6,759.6 744.5,763.4 772.3,767.4 800.1,771.7 827.9,776.3 855.6,781.1 883.3,786.1 910.9,791.4 938.5,797.0 966.0,802.8 993.5,808.8 1020.9,815.1 1048.2,821.7 1075.5,828.6 1102.7,835.8 1129.8,843.3 1156.8,851.2 1183.7,859.6 1210.4,868.4 1236.9,877.6 1263.3,887.4 1289.5,897.8 1315.4,908.7 1341.1,920.2 1366.4,932.3 1391.5,945.2 1416.1,958.7 1440.4,972.9 1464.1,988.0 1487.2,1004.0 1509.5,1020.9 1531.0,1038.8 1551.5,1057.6 1581.1,1042.9 1558.5,1025.3 1535.3,1008.4 1511.7,992.2 1487.6,976.7 1463.1,961.9 1438.1,947.8 1412.8,934.3 1387.2,921.5 1361.3,909.3 1335.1,897.8 1308.6,886.8 1281.9,876.4 1255.0,866.5 1227.9,857.1 1200.7,848.2 1173.3,839.8 1145.8,831.8 1118.2,824.2 1090.5,816.9 1062.7,810.0 1034.8,803.5 1006.8,797.2 978.8,791.2 950.8,785.5 922.6,780.0 894.5,774.8 866.2,769.8 838.0,765.1 809.7,760.6 781.3,756.4 753.0,752.5 724.6,748.7 696.1,745.2 667.7,742.0 639.2,739.0 610.6,736.2 582.1,733.6 553.6,731.3 525.0,729.2 496.4,727.3 467.8,725.6 439.2,724.1 410.6,722.8 381.9,721.7 353.3,720.9 324.7,720.2 296.0,719.7" fill="#87ff78" stroke="#87ff78" stroke-width="1.6"/>
<polygon points="296.0,719.7 324.7,720.2 353.3,720.9 381.9,721.7 410.6,722.8 439.2,724.1 467.8,725.6 496.4,727.3 525.0,729.2 553.6,731.3 582.1,733.6 610.6,736.2 639.2,739.0 667.7,742.0 696.1,745.2 724.6,748.7 753.0,752.5 781.3,756.4 809.7,760.6 838.0,765.1 866.2,769.8 894.5,774.8 922.6,780.0 950.8,785.5 978.8,791.2 1006.8,797.2 1034.8,803.5 1062.7,810.0 1090.5,816.9 1118.2,824.2 1145.8,831.8 1173.3,839.8 1200.7,848.2 1227.9,857.1 1255.0,866.5 1281.9,876.4 1308.6,886.8 1335.1,897.8 1361.3,909.3 1387.2,921.5 1412.8,934.3 1438.1,947.8 1463.1,961.9 1487.6,976.7 1511.7,992.2 1535.3,1008.4 1558.5,1025.3 1581.1,1042.9 1607.1,1027.6 1583.6,1010.5 1559.6,994.0 1535.2,978.2 1510.3,963.0 1485.1,948.5 1459.4,934.6 1433.5,921.4 1407.3,908.8 1380.7,896.7 1353.9,885.3 1326.9,874.4 1299.7,864.0 1272.2,854.2 1244.6,844.9 1216.9,836.0 1189.0,827.6 1161.0,819.6 1132.8,812.0 1104.6,804.8 1076.3,797.9 1047.9,791.4 1019.4,785.2 990.9,779.3 962.3,773.6 933.7,768.3 905.0,763.2 876.2,758.3 847.5,753.8 818.6,749.5 789.8,745.4 760.9,741.6 732.0,738.0 703.0,734.7 674.1,731.5 645.1,728.6 616.1,726.0 587.0,723.5 558.0,721.3 528.9,719.2 499.8,717.3 470.7,715.7 441.6,714.2 412.5,712.9 383.4,711.8 354.3,710.8 325.1,710.1 296.0,709.4" fill="#8fff70" stroke="#8fff70" stroke-width="1.6"/>
<polygon points="296.0,709.4 325.1,710.1 354.3,710.8 383.4,711.8 412.5,712.9 441.6,714.2 470.7,715.7 499.8,717.3 528.9,719.2 558.0,721.3 587.0,723.5 616.1,726.0 645.1,728.6 674.1,731.5 703.0,734.7 732.0,738.0 760.9,741.6 789.8,745.4 818.6,749.5 847.5,753.8 876.2,758.3 905.0,763.2 933.7,768.3 962.3,773.6 990.9,779.3 1019.4,785.2 1047.9,791.4 1076.3,797.9 1104.6,804.8 1132.8,812.0 1161.0,819.6 1189.0,827.6 1216.9,836.0 1244.6,844.9 1272.2,854.2 1299.7,864.0 1326.9,874.4 1353.9,885.3 1380.7,896.7 1407.3,908.8 1433.5,921.4 1459.4,934.6 1485.1,948.5 1510.3,963.0 1535.2,978.2 1559.6,994.0 1583.6,1010.5 1607.1,1027.6 1633.2,1012.3 1608.7,995.6 1583.9,979.6 1558.6,964.2 1533.0,949.3 1507.1,935.1 1480.8,921.5 1454.2,908.5 1427.3,896.0 1400.2,884.1 1372.8,872.8 1345.2,862.0 1317.4,851.7 1289.5,841.9 1261.3,832.6 1233.1,823.8 1204.6,815.4 1176.1,807.4 1147.5,799.8 1118.7,792.6 1089.9,785.8 1061.0,779.3 1032.0,773.2 1003.0,767.3 973.9,761.8 944.7,756.5 915.5,751.6 886.2,746.9 856.9,742.4 827.6,738.3 798.2,734.4 768.8,730.7 739.4,727.3 710.0,724.1 680.5,721.1 651.0,718.3 621.5,715.8 591.9,713.4 562.4,711.2 532.8,709.2 503.3,707.4 473.7,705.8 444.1,704.3 414.5,703.0 384.9,701.8 355.3,700.8 325.6,699.9 296.0,699.1" fill="#97ff68" stroke="#97ff68" stroke-width="1.6"/>
<polygon points="296.0,699.1 325.6,699.9 355.3,700.8 384.9,701.8 414.5,703.0 444.1,704.3 473.7,705.8 503.3,707.4 532.8,709.2 562.4,711.2 591.9,713.4 621.5,715.8 651.0,718.3 680.5,721.1 710.0,724.1 739.4,727.3 768.8,730.7 798.2,734.4 827.6,738.3 856.9,742.4 886.2,746.9 915.5,751.6 944.7,756.5 973.9,761.8 1003.0,767.3 1032.0,773.2 1061.0,779.3 1089.9,785.8 1118.7,792.6 1147.5,799.8 1176.1,807.4 1204.6,815.4 1233.1,823.8 1261.3,832.6 1289.5,841.9 1317.4,851.7 1345.2,862.0 1372.8,872.8 1400.2,884.1 1427.3,896.0 1454.2,908.5 1480.8,921.5 1507.1,935.1 1533.0,949.3 1558.6,964.2 1583.9,979.6 1608.7,995.6 1633.2,1012.3 1659.2,997.0 1633.9,980.8 1608.2,965.2 1582.1,950.1 1555.7,935.6 1529.1,921.7 1502.1,908.3 1474.8,895.5 1447.3,883.2 1419.6,871.5 1391.7,860.3 1363.5,849.6 1335.2,839.3 1306.7,829.6 1278.0,820.3 1249.2,811.5 1220.3,803.2 1191.3,795.2 1162.1,787.6 1132.8,780.5 1103.5,773.7 1074.1,767.3 1044.6,761.2 1015.0,755.4 985.4,750.0 955.7,744.8 926.0,740.0 896.2,735.4 866.4,731.1 836.6,727.1 806.7,723.3 776.8,719.8 746.8,716.5 716.9,713.5 686.9,710.6 656.9,708.0 626.9,705.5 596.9,703.3 566.8,701.2 536.7,699.3 506.7,697.5 476.6,695.9 446.5,694.4 416.4,693.1 386.3,691.9 356.2,690.8 326.1,689.7 296.0,688.8" fill="#9fff60" stroke="#9fff60" stroke-width="1.6"/>
<polygon points="296.0,688.8 326.1,689.7 356.2,690.8 386.3,691.9 416.4,693.1 446.5,694.4 476.6,695.9 506.7,697.5 536.7,699.3 566.8,701.2 596.9,703.3 626.9,705.5 656.9,708.0 686.9,710.6 716.9,713.5 746.8,716.5 776.8,719.8 806.7,723.3 836.6,727.1 866.4,731.1 896.2,735.4 926.0,740.0 955.7,744.8 985.4,750.0 1015.0,755.4 1044.6,761.2 1074.1,767.3 1103.5,773.7 1132.8,780.5 1162.1,787.6 1191.3,795.2 1220.3,803.2 1249.2,811.5 1278.0,820.3 1306.7,829.6 1335.2,839.3 1363.5,849.6 1391.7,860.3 1419.6,871.5 1447.3,883.2 1474.8,895.5 1502.1,908.3 1529.1,921.7 1555.7,935.6 1582.1,950.1 1608.2,965.2 1633.9,980.8 1659.2,997.0 1685.3,981.7 1659.0,966.0 1632.4,950.8 1605.6,936.1 1578.5,921.9 1551.0,908.3 1523.4,895.2 1495.5,882.6 1467.4,870.5 1439.1,858.9 1410.5,847.8 1381.8,837.2 1352.9,827.0 1323.9,817.3 1294.7,808.1 1265.4,799.3 1236.0,790.9 1206.4,783.0 1176.7,775.5 1147.0,768.3 1117.1,761.6 1087.2,755.2 1057.2,749.2 1027.1,743.5 997.0,738.1 966.8,733.1 936.5,728.4 906.2,724.0 875.9,719.8 845.5,715.9 815.1,712.3 784.7,708.9 754.3,705.8 723.8,702.9 693.3,700.2 662.8,697.6 632.3,695.3 601.8,693.2 571.2,691.2 540.7,689.3 510.1,687.6 479.5,686.0 449.0,684.5 418.4,683.2 387.8,681.9 357.2,680.7 326.6,679.6 296.0,678.5" fill="#a7ff58" stroke="#a7ff58" stroke-width="1.6"/>
<polygon points="296.0,678.5 326.6,679.6 357.2,680.7 387.8,681.9 418.4,683.2 449.0,684.5 479.5,686.0 510.1,687.6 540.7,689.3 571.2,691.2 601.8,693.2 632.3,695.3 662.8,697.6 693.3,700.2 723.8,702.9 754.3,705.8 784.7,708.9 815.1,712.3 845.5,715.9 875.9,719.8 906.2,724.0 936.5,728.4 966.8,733.1 997.0,738.1 1027.1,743.5 1057.2,749.2 1087.2,755.2 1117.1,761.6 1147.0,768.3 1176.7,775.5 1206.4,783.0 1236.0,790.9 1265.4,799.3 1294.7,808.1 1323.9,817.3 1352.9,827.0 1381.8,837.2 1410.5,847.8 1439.1,858.9 1467.4,870.5 1495.5,882.6 1523.4,895.2 1551.0,908.3 1578.5,921.9 1605.6,936.1 1632.4,950.8 1659.0,966.0 1685.3,981.7 1711.5,968.6 1684.8,952.8 1657.6,937.5 1630.2,922.7 1602.5,908.6 1574.5,895.0 1546.2,881.9 1517.7,869.4 1489.0,857.4 1460.0,846.0 1430.9,835.1 1401.6,824.6 1372.1,814.7 1342.4,805.2 1312.6,796.2 1282.7,787.6 1252.7,779.4 1222.5,771.7 1192.2,764.4 1161.9,757.4 1131.5,750.8 1101.0,744.6 1070.4,738.6 1039.8,733.1 1009.1,727.8 978.4,722.8 947.6,718.1 916.8,713.7 885.9,709.5 855.0,705.6 824.1,702.0 793.2,698.5 762.2,695.4 731.2,692.4 700.2,689.6 669.1,687.1 638.1,684.7 607.0,682.5 576.0,680.4 544.9,678.6 513.8,676.8 482.7,675.3 451.6,673.8 420.5,672.5 389.4,671.2 358.3,670.1 327.2,669.1 296.0,668.1" fill="#b0ff4f" stroke="#b0ff4f" stroke-width="1.6"/>
<polygon points="296.0,668.1 327.2,669.1 358.3,670.1 389.4,671.2 420.5,672.5 451.6,673.8 482.7,675.3 513.8,676.8 544.9,678.6 576.0,680.4 607.0,682.5 638.1,684.7 669.1,687.1 700.2,689.6 731.2,692.4 762.2,695.4 793.2,698.5 824.1,702.0 855.0,705.6 885.9,709.5 916.8,713.7 947.6,718.1 978.4,722.8 1009.1,727.8 1039.8,733.1 1070.4,738.6 1101.0,744.6 1131.5,750.8 1161.9,757.4 1192.2,764.4 1222.5,771.7 1252.7,779.4 1282.7,787.6 1312.6,796.2 1342.4,805.2 1372.1,814.7 1401.6,824.6 1430.9,835.1 1460.0,846.0 1489.0,857.4 1517.7,869.4 1546.2,881.9 1574.5,895.0 1602.5,908.6 1630.2,922.7 1657.6,937.5 1684.8,952.8 1711.5,968.6 1737.8,955.5 1710.5,939.5 1682.8,924.2 1654.8,909.4 1626.5,895.2 1597.9,881.6 1569.1,868.7 1539.9,856.3 1510.6,844.4 1481.0,833.1 1451.2,822.4 1421.3,812.1 1391.2,802.3 1360.9,793.1 1330.5,784.3 1300.0,775.9 1269.3,767.9 1238.6,760.4 1207.8,753.2 1176.8,746.5 1145.8,740.0 1114.8,733.9 1083.7,728.1 1052.5,722.6 1021.2,717.4 990.0,712.5 958.7,707.8 927.3,703.4 895.9,699.2 864.5,695.3 833.1,691.6 801.6,688.2 770.1,684.9 738.6,681.9 707.0,679.1 675.5,676.5 643.9,674.0 612.3,671.8 580.7,669.7 549.1,667.8 517.5,666.1 485.9,664.5 454.2,663.0 422.6,661.7 391.0,660.6 359.3,659.5 327.7,658.6 296.0,657.7" fill="#b8ff47" stroke="#b8ff47" stroke-width="1.6"/>
<polygon points="296.0,657.7 327.7,658.6 359.3,659.5 391.0,660.6 422.6,661.7 454.2,663.0 485.9,664.5 517.5,666.1 549.1,667.8 580.7,669.7 612.3,671.8 643.9,674.0 675.5,676.5 707.0,679.1 738.6,681.9 770.1,684.9 801.6,688.2 833.1,691.6 864.5,695.3 895.9,699.2 927.3,703.4 958.7,707.8 990.0,712.5 1021.2,717.4 1052.5,722.6 1083.7,728.1 1114.8,733.9 1145.8,740.0 1176.8,746.5 1207.8,753.2 1238.6,760.4 1269.3,767.9 1300.0,775.9 1330.5,784.3 1360.9,793.1 1391.2,802.3 1421.3,812.1 1451.2,822.4 1481.0,833.1 1510.6,844.4 1539.9,856.3 1569.1,868.7 1597.9,881.6 1626.5,895.2 1654.8,909.4 1682.8,924.2 1710.5,939.5 1737.8,955.5 1764.1,942.4 1736.3,926.3 1708.0,910.8 1679.5,896.0 1650.6,881.9 1621.4,868.3 1591.9,855.4 1562.2,843.1 1532.2,831.4 1502.0,820.2 1471.6,809.6 1441.0,799.6 1410.3,790.0 1379.4,780.9 1348.4,772.3 1317.3,764.2 1286.0,756.4 1254.7,749.1 1223.3,742.1 1191.8,735.5 1160.2,729.3 1128.6,723.3 1096.9,717.6 1065.2,712.2 1033.4,707.0 1001.6,702.1 969.7,697.5 937.8,693.1 905.9,688.9 874.0,685.0 842.0,681.3 810.0,677.8 778.0,674.5 745.9,671.4 713.9,668.5 681.8,665.9 649.7,663.4 617.6,661.1 585.5,659.0 553.3,657.1 521.2,655.3 489.0,653.7 456.9,652.3 424.7,651.0 392.6,649.9 360.4,648.9 328.2,648.1 296.0,647.4" fill="#c0ff3f" stroke="#c0ff3f" stroke-width="1.6"/>
<polygon points="296.0,647.4 328.2,648.1 360.4,648.9 392.6,649.9 424.7,651.0 456.9,652.3 489.0,653.7 521.2,655.3 553.3,657.1 585.5,659.0 617.6,661.1 649.7,663.4 681.8,665.9 713.9,668.5 745.9,671.4 778.0,674.5 810.0,677.8 842.0,681.3 874.0,685.0 905.9,688.9 937.8,693.1 969.7,697.5 1001.6,702.1 1033.4,707.0 1065.2,712.2 1096.9,717.6 1128.6,723.3 1160.2,729.3 1191.8,735.5 1223.3,742.1 1254.7,749.1 1286.0,756.4 1317.3,764.2 1348.4,772.3 1379.4,780.9 1410.3,790.0 1441.0,799.6 1471.6,809.6 1502.0,820.2 1532.2,831.4 1562.2,843.1 1591.9,855.4 1621.4,868.3 1650.6,881.9 1679.5,896.0 1708.0,910.8 1736.3,926.3 1764.1,942.4 1790.4,929.3 1762.0,913.1 1733.3,897.5 1704.1,882.7 1674.6,868.5 1644.8,855.0 1614.7,842.2 1584.4,829.9 1553.8,818.3 1523.0,807.4 1492.0,796.9 1460.8,787.0 1429.4,777.7 1397.9,768.8 1366.3,760.4 1334.6,752.5 1302.7,744.9 1270.8,737.8 1238.8,731.0 1206.7,724.6 1174.6,718.5 1142.4,712.7 1110.1,707.1 1077.9,701.8 1045.5,696.7 1013.2,691.8 980.8,687.2 948.4,682.8 915.9,678.6 883.5,674.7 851.0,670.9 818.4,667.4 785.9,664.0 753.3,660.9 720.7,658.0 688.1,655.3 655.5,652.8 622.9,650.4 590.2,648.3 557.6,646.3 524.9,644.6 492.2,643.0 459.5,641.5 426.8,640.3 394.1,639.2 361.4,638.3 328.7,637.6 296.0,637.0" fill="#c8ff37" stroke="#c8ff37" stroke-width="1.6"/>
<polygon points="296.0,637.0 328.7,637.6 361.4,638.3 394.1,639.2 426.8,640.3 459.5,641.5 492.2,643.0 524.9,644.6 557.6,646.3 590.2,648.3 622.9,650.4 655.5,652.8 688.1,655.3 720.7,658.0 753.3,660.9 785.9,664.0 818.4,667.4 851.0,670.9 883.5,674.7 915.9,678.6 948.4,682.8 980.8,687.2 1013.2,691.8 1045.5,696.7 1077.9,701.8 1110.1,707.1 1142.4,712.7 1174.6,718.5 1206.7,724.6 1238.8,731.0 1270.8,737.8 1302.7,744.9 1334.6,752.5 1366.3,760.4 1397.9,768.8 1429.4,777.7 1460.8,787.0 1492.0,796.9 1523.0,807.4 1553.8,818.3 1584.4,829.9 1614.7,842.2 1644.8,855.0 1674.6,868.5 1704.1,882.7 1733.3,897.5 1762.0,913.1 1790.4,929.3 1830.4,921.9 1801.0,905.6 1771.3,890.1 1741.3,875.2 1710.9,860.9 1680.2,847.3 1649.2,834.4 1618.0,822.0 1586.6,810.3 1554.9,799.1 1523.1,788.5 1491.1,778.4 1458.9,768.8 1426.6,759.8 1394.2,751.2 1361.6,743.0 1329.0,735.3 1296.2,727.9 1263.4,721.0 1230.5,714.4 1197.5,708.1 1164.5,702.2 1131.4,696.5 1098.3,691.1 1065.1,686.0 1031.9,681.1 998.6,676.5 965.4,672.1 932.1,668.0 898.7,664.0 865.4,660.3 832.0,656.9 798.6,653.6 765.2,650.6 731.7,647.7 698.3,645.1 664.8,642.6 631.3,640.3 597.8,638.2 564.3,636.3 530.8,634.6 497.3,633.0 463.7,631.5 430.2,630.3 396.7,629.1 363.1,628.2 329.6,627.3 296.0,626.6" fill="#d0ff2f" stroke="#d0ff2f" stroke-width="1.6"/>
<polygon points="296.0,626.6 329.6,627.3 363.1,628.2 396.7,629.1 430.2,630.3 463.7,631.5 497.3,633.0 530.8,634.6 564.3,636.3 597.8,638.2 631.3,640.3 664.8,642.6 698.3,645.1 731.7,647.7 765.2,650.6 798.6,653.6 832.0,656.9 865.4,660.3 898.7,664.0 932.1,668.0 965.4,672.1 998.6,676.5 1031.9,681.1 1065.1,686.0 1098.3,691.1 1131.4,696.5 1164.5,702.2 1197.5,708.1 1230.5,714.4 1263.4,721.0 1296.2,727.9 1329.0,735.3 1361.6,743.0 1394.2,751.2 1426.6,759.8 1458.9,768.8 1491.1,778.4 1523.1,788.5 1554.9,799.1 1586.6,810.3 1618.0,822.0 1649.2,834.4 1680.2,847.3 1710.9,860.9 1741.3,875.2 1771.3,890.1 1801.0,905.6 1830.4,921.9 1870.4,914.4 1840.0,898.2 1809.4,882.6 1778.4,867.7 1747.1,853.4 1715.6,839.7 1683.7,826.6 1651.7,814.1 1619.4,802.2 1586.9,790.9 1554.3,780.0 1521.4,769.8 1488.4,760.0 1455.3,750.7 1422.0,741.9 1388.7,733.5 1355.2,725.6 1321.6,718.1 1288.0,710.9 1254.2,704.2 1220.4,697.8 1186.5,691.7 1152.6,686.0 1118.7,680.5 1084.6,675.3 1050.6,670.4 1016.5,665.8 982.4,661.4 948.2,657.3 914.0,653.4 879.8,649.8 845.6,646.4 811.3,643.2 777.0,640.2 742.7,637.4 708.4,634.8 674.1,632.4 639.8,630.2 605.4,628.2 571.1,626.3 536.7,624.6 502.3,623.0 468.0,621.5 433.6,620.2 399.2,619.1 364.8,618.0 330.4,617.0 296.0,616.2" fill="#d8ff27" stroke="#d8ff27" stroke-width="1.6"/>
<polygon points="296.0,616.2 330.4,617.0 364.8,618.0 399.2,619.1 433.6,620.2 468.0,621.5 502.3,623.0 536.7,624.6 571.1,626.3 605.4,628.2 639.8,630.2 674.1,632.4 708.4,634.8 742.7,637.4 777.0,640.2 811.3,643.2 845.6,646.4 879.8,649.8 914.0,653.4 948.2,657.3 982.4,661.4 1016.5,665.8 1050.6,670.4 1084.6,675.3 1118.7,680.5 1152.6,686.0 1186.5,691.7 1220.4,697.8 1254.2,704.2 1288.0,710.9 1321.6,718.1 1355.2,725.6 1388.7,733.5 1422.0,741.9 1455.3,750.7 1488.4,760.0 1521.4,769.8 1554.3,780.0 1586.9,790.9 1619.4,802.2 1651.7,814.1 1683.7,826.6 1715.6,839.7 1747.1,853.4 1778.4,867.7 1809.4,882.6 1840.0,898.2 1870.4,914.4 1910.4,907.0 1879.1,890.8 1847.4,875.2 1815.5,860.2 1783.4,845.8 1750.9,832.1 1718.2,818.8 1685.3,806.2 1652.2,794.1 1618.9,782.6 1585.4,771.6 1551.8,761.1 1517.9,751.1 1484.0,741.6 1449.9,732.6 1415.7,724.1 1381.4,715.9 1347.0,708.2 1312.5,700.9 1278.0,694.0 1243.3,687.5 1208.6,681.3 1173.9,675.4 1139.1,669.9 1104.2,664.7 1069.3,659.7 1034.3,655.1 999.4,650.7 964.3,646.7 929.3,642.8 894.2,639.2 859.1,635.9 824.0,632.7 788.9,629.8 753.8,627.1 718.6,624.6 683.4,622.3 648.2,620.1 613.0,618.1 577.8,616.3 542.6,614.6 507.4,613.0 472.2,611.5 437.0,610.2 401.7,609.0 366.5,607.8 331.3,606.8 296.0,605.8" fill="#e0ff1f" stroke="#e0ff1f" stroke-width="1.6"/>
<polygon points="296.0,605.8 331.3,606.8 366.5,607.8 401.7,609.0 437.0,610.2 472.2,611.5 507.4,613.0 542.6,614.6 577.8,616.3 613.0,618.1 648.2,620.1 683.4,622.3 718.6,624.6 753.8,627.1 788.9,629.8 824.0,632.7 859.1,635.9 894.2,639.2 929.3,642.8 964.3,646.7 999.4,650.7 1034.3,655.1 1069.3,659.7 1104.2,664.7 1139.1,669.9 1173.9,675.4 1208.6,681.3 1243.3,687.5 1278.0,694.0 1312.5,700.9 1347.0,708.2 1381.4,715.9 1415.7,724.1 1449.9,732.6 1484.0,741.6 1517.9,751.1 1551.8,761.1 1585.4,771.6 1618.9,782.6 1652.2,794.1 1685.3,806.2 1718.2,818.8 1750.9,832.1 1783.4,845.8 1815.5,860.2 1847.4,875.2 1879.1,890.8 1910.4,907.0 1950.3,899.5 1918.1,883.4 1885.5,867.8 1852.7,852.7 1819.6,838.3 1786.3,824.4 1752.7,811.1 1719.0,798.3 1685.0,786.1 1650.9,774.4 1616.6,763.2 1582.1,752.5 1547.5,742.3 1512.7,732.6 1477.8,723.4 1442.8,714.6 1407.7,706.2 1372.4,698.3 1337.1,690.9 1301.7,683.8 1266.3,677.1 1230.7,670.8 1195.1,664.8 1159.5,659.3 1123.7,654.0 1088.0,649.0 1052.2,644.4 1016.4,640.1 980.5,636.0 944.6,632.2 908.7,628.7 872.7,625.4 836.8,622.3 800.8,619.5 764.8,616.8 728.8,614.4 692.7,612.1 656.7,610.0 620.7,608.0 584.6,606.2 548.5,604.6 512.5,603.0 476.4,601.5 440.3,600.2 404.3,598.9 368.2,597.7 332.1,596.5 296.0,595.4" fill="#e9ff16" stroke="#e9ff16" stroke-width="1.6"/>
<polygon points="296.0,595.4 332.1,596.5 368.2,597.7 404.3,598.9 440.3,600.2 476.4,601.5 512.5,603.0 548.5,604.6 584.6,606.2 620.7,608.0 656.7,610.0 692.7,612.1 728.8,614.4 764.8,616.8 800.8,619.5 836.8,622.3 872.7,625.4 908.7,628.7 944.6,632.2 980.5,636.0 1016.4,640.1 1052.2,644.4 1088.0,649.0 1123.7,654.0 1159.5,659.3 1195.1,664.8 1230.7,670.8 1266.3,677.1 1301.7,683.8 1337.1,690.9 1372.4,698.3 1407.7,706.2 1442.8,714.6 1477.8,723.4 1512.7,732.6 1547.5,742.3 1582.1,752.5 1616.6,763.2 1650.9,774.4 1685.0,786.1 1719.0,798.3 1752.7,811.1 1786.3,824.4 1819.6,838.3 1852.7,852.7 1885.5,867.8 1918.1,883.4 1950.3,899.5 1950.3,872.4 1917.6,857.5 1884.7,843.1 1851.5,829.2 1818.2,815.8 1784.6,802.9 1750.8,790.5 1716.9,778.6 1682.8,767.1 1648.5,756.2 1614.1,745.7 1579.6,735.6 1544.9,726.0 1510.1,716.9 1475.2,708.1 1440.2,699.8 1405.1,691.9 1369.9,684.4 1334.6,677.2 1299.2,670.4 1263.8,664.0 1228.3,657.9 1192.8,652.2 1157.2,646.7 1121.6,641.6 1085.9,636.8 1050.2,632.3 1014.5,628.0 978.7,624.0 942.9,620.3 907.0,616.8 871.2,613.6 835.3,610.6 799.4,607.8 763.5,605.2 727.6,602.7 691.7,600.5 655.7,598.5 619.8,596.6 583.8,594.8 547.9,593.2 511.9,591.7 475.9,590.4 440.0,589.1 404.0,588.0 368.0,586.9 332.0,586.0 296.0,585.1" fill="#f1ff0e" stroke="#f1ff0e" stroke-width="1.6"/>
<polygon points="296.0,585.1 332.0,586.0 368.0,586.9 404.0,588.0 440.0,589.1 475.9,590.4 511.9,591.7 547.9,593.2 583.8,594.8 619.8,596.6 655.7,598.5 691.7,600.5 727.6,602.7 763.5,605.2 799.4,607.8 835.3,610.6 871.2,613.6 907.0,616.8 942.9,620.3 978.7,624.0 1014.5,628.0 1050.2,632.3 1085.9,636.8 1121.6,641.6 1157.2,646.7 1192.8,652.2 1228.3,657.9 1263.8,664.0 1299.2,670.4 1334.6,677.2 1369.9,684.4 1405.1,691.9 1440.2,699.8 1475.2,708.1 1510.1,716.9 1544.9,726.0 1579.6,735.6 1614.1,745.7 1648.5,756.2 1682.8,767.1 1716.9,778.6 1750.8,790.5 1784.6,802.9 1818.2,815.8 1851.5,829.2 1884.7,843.1 1917.6,857.5 1950.3,872.4 1950.2,845.3 1917.1,831.7 1883.8,818.4 1850.3,805.6 1816.7,793.3 1782.9,781.4 1748.9,769.9 1714.8,758.9 1680.6,748.2 1646.2,738.0 1611.7,728.2 1577.1,718.8 1542.3,709.8 1507.5,701.2 1472.6,692.9 1437.5,685.1 1402.5,677.5 1367.3,670.4 1332.0,663.5 1296.7,657.1 1261.4,650.9 1226.0,645.0 1190.5,639.5 1155.0,634.2 1119.4,629.3 1083.8,624.6 1048.2,620.2 1012.6,616.0 976.9,612.1 941.2,608.4 905.4,605.0 869.7,601.8 833.9,598.8 798.1,596.1 762.3,593.5 726.5,591.1 690.6,588.9 654.8,586.9 618.9,585.1 583.1,583.4 547.2,581.9 511.3,580.5 475.5,579.2 439.6,578.1 403.7,577.1 367.8,576.2 331.9,575.4 296.0,574.7" fill="#f9ff06" stroke="#f9ff06" stroke-width="1.6"/>
<polygon points="296.0,574.7 331.9,575.4 367.8,576.2 403.7,577.1 439.6,578.1 475.5,579.2 511.3,580.5 547.2,581.9 583.1,583.4 618.9,585.1 654.8,586.9 690.6,588.9 726.5,591.1 762.3,593.5 798.1,596.1 833.9,598.8 869.7,601.8 905.4,605.0 941.2,608.4 976.9,612.1 1012.6,616.0 1048.2,620.2 1083.8,624.6 1119.4,629.3 1155.0,634.2 1190.5,639.5 1226.0,645.0 1261.4,650.9 1296.7,657.1 1332.0,663.5 1367.3,670.4 1402.5,677.5 1437.5,685.1 1472.6,692.9 1507.5,701.2 1542.3,709.8 1577.1,718.8 1611.7,728.2 1646.2,738.0 1680.6,748.2 1714.8,758.9 1748.9,769.9 1782.9,781.4 1816.7,793.3 1850.3,805.6 1883.8,818.4 1917.1,831.7 1950.2,845.3 1950.1,818.2 1916.6,805.8 1883.0,793.7 1849.2,782.1 1815.3,770.8 1781.2,759.8 1747.0,749.3 1712.7,739.1 1678.3,729.3 1643.8,719.9 1609.2,710.7 1574.5,702.0 1539.8,693.6 1504.9,685.5 1469.9,677.7 1434.9,670.3 1399.9,663.2 1364.7,656.4 1329.5,649.9 1294.2,643.7 1258.9,637.8 1223.6,632.1 1188.2,626.8 1152.8,621.7 1117.3,616.9 1081.8,612.3 1046.2,608.0 1010.7,604.0 975.1,600.1 939.4,596.5 903.8,593.2 868.1,590.0 832.4,587.1 796.8,584.4 761.0,581.8 725.3,579.5 689.6,577.4 653.8,575.4 618.1,573.6 582.3,572.0 546.5,570.5 510.8,569.2 475.0,568.1 439.2,567.1 403.4,566.2 367.6,565.5 331.8,564.8 296.0,564.4" fill="#fffd00" stroke="#fffd00" stroke-width="1.6"/>
<polygon points="296.0,564.4 331.8,564.8 367.6,565.5 403.4,566.2 439.2,567.1 475.0,568.1 510.8,569.2 546.5,570.5 582.3,572.0 618.1,573.6 653.8,575.4 689.6,577.4 725.3,579.5 761.0,581.8 796.8,584.4 832.4,587.1 868.1,590.0 903.8,593.2 939.4,596.5 975.1,600.1 1010.7,604.0 1046.2,608.0 1081.8,612.3 1117.3,616.9 1152.8,621.7 1188.2,626.8 1223.6,632.1 1258.9,637.8 1294.2,643.7 1329.5,649.9 1364.7,656.4 1399.9,663.2 1434.9,670.3 1469.9,677.7 1504.9,685.5 1539.8,693.6 1574.5,702.0 1609.2,710.7 1643.8,719.9 1678.3,729.3 1712.7,739.1 1747.0,749.3 1781.2,759.8 1815.3,770.8 1849.2,782.1 1883.0,793.7 1916.6,805.8 1950.1,818.2 1950.0,791.1 1916.1,779.9 1882.1,769.1 1848.0,758.5 1813.8,748.3 1779.5,738.3 1745.1,728.7 1710.7,719.4 1676.1,710.4 1641.5,701.7 1606.8,693.3 1572.0,685.2 1537.2,677.3 1502.3,669.8 1467.3,662.5 1432.3,655.5 1397.2,648.8 1362.1,642.4 1327.0,636.2 1291.8,630.3 1256.5,624.7 1221.2,619.2 1185.9,614.1 1150.5,609.2 1115.1,604.5 1079.7,600.1 1044.2,595.9 1008.8,591.9 973.2,588.2 937.7,584.7 902.2,581.4 866.6,578.3 831.0,575.4 795.4,572.7 759.8,570.2 724.2,567.9 688.5,565.8 652.9,563.9 617.2,562.1 581.5,560.6 545.9,559.2 510.2,558.0 474.5,556.9 438.8,556.0 403.1,555.3 367.4,554.7 331.7,554.3 296.0,554.0" fill="#fff500" stroke="#fff500" stroke-width="1.6"/>
<polygon points="296.0,554.0 331.7,554.3 367.4,554.7 403.1,555.3 438.8,556.0 474.5,556.9 510.2,558.0 545.9,559.2 581.5,560.6 617.2,562.1 652.9,563.9 688.5,565.8 724.2,567.9 759.8,570.2 795.4,572.7 831.0,575.4 866.6,578.3 902.2,581.4 937.7,584.7 973.2,588.2 1008.8,591.9 1044.2,595.9 1079.7,600.1 1115.1,604.5 1150.5,609.2 1185.9,614.1 1221.2,619.2 1256.5,624.7 1291.8,630.3 1327.0,636.2 1362.1,642.4 1397.2,648.8 1432.3,655.5 1467.3,662.5 1502.3,669.8 1537.2,677.3 1572.0,685.2 1606.8,693.3 1641.5,701.7 1676.1,710.4 1710.7,719.4 1745.1,728.7 1779.5,738.3 1813.8,748.3 1848.0,758.5 1882.1,769.1 1916.1,779.9 1950.0,791.1 1950.0,770.4 1916.0,759.8 1881.9,749.5 1847.7,739.4 1813.4,729.7 1779.0,720.2 1744.5,711.0 1710.0,702.2 1675.4,693.6 1640.7,685.3 1606.0,677.2 1571.2,669.5 1536.3,662.0 1501.4,654.8 1466.4,647.9 1431.4,641.2 1396.3,634.7 1361.2,628.6 1326.1,622.7 1290.8,617.0 1255.6,611.6 1220.3,606.4 1185.0,601.4 1149.7,596.7 1114.3,592.2 1078.9,588.0 1043.4,583.9 1008.0,580.1 972.5,576.5 937.0,573.1 901.5,569.9 866.0,566.9 830.4,564.1 794.8,561.6 759.3,559.1 723.7,556.9 688.1,554.9 652.5,553.1 616.8,551.4 581.2,549.9 545.6,548.5 509.9,547.4 474.3,546.4 438.6,545.5 403.0,544.8 367.3,544.3 331.7,543.9 296.0,543.6" fill="#ffed00" stroke="#ffed00" stroke-width="1.6"/>
<polygon points="296.0,543.6 331.7,543.9 367.3,544.3 403.0,544.8 438.6,545.5 474.3,546.4 509.9,547.4 545.6,548.5 581.2,549.9 616.8,551.4 652.5,553.1 688.1,554.9 723.7,556.9 759.3,559.1 794.8,561.6 830.4,564.1 866.0,566.9 901.5,569.9 937.0,573.1 972.5,576.5 1008.0,580.1 1043.4,583.9 1078.9,588.0 1114.3,592.2 1149.7,596.7 1185.0,601.4 1220.3,606.4 1255.6,611.6 1290.8,617.0 1326.1,622.7 1361.2,628.6 1396.3,634.7 1431.4,641.2 1466.4,647.9 1501.4,654.8 1536.3,662.0 1571.2,669.5 1606.0,677.2 1640.7,685.3 1675.4,693.6 1710.0,702.2 1744.5,711.0 1779.0,720.2 1813.4,729.7 1847.7,739.4 1881.9,749.5 1916.0,759.8 1950.0,770.4 1950.0,749.8 1915.8,739.7 1881.6,729.8 1847.3,720.3 1812.9,711.1 1778.5,702.1 1744.0,693.4 1709.4,684.9 1674.7,676.8 1640.0,668.8 1605.2,661.2 1570.4,653.8 1535.5,646.7 1500.5,639.8 1465.5,633.2 1430.5,626.8 1395.4,620.7 1360.3,614.8 1325.1,609.1 1289.9,603.7 1254.7,598.5 1219.4,593.5 1184.1,588.8 1148.8,584.2 1113.5,579.9 1078.1,575.9 1042.7,572.0 1007.2,568.3 971.8,564.8 936.3,561.6 900.8,558.5 865.3,555.6 829.8,552.9 794.3,550.4 758.7,548.1 723.2,546.0 687.6,544.0 652.0,542.2 616.5,540.6 580.9,539.2 545.3,537.9 509.7,536.8 474.1,535.8 438.5,535.0 402.9,534.4 367.2,533.8 331.6,533.5 296.0,533.3" fill="#ffe500" stroke="#ffe500" stroke-width="1.6"/>
<polygon points="296.0,533.3 331.6,533.5 367.2,533.8 402.9,534.4 438.5,535.0 474.1,535.8 509.7,536.8 545.3,537.9 580.9,539.2 616.5,540.6 652.0,542.2 687.6,544.0 723.2,546.0 758.7,548.1 794.3,550.4 829.8,552.9 865.3,555.6 900.8,558.5 936.3,561.6 971.8,564.8 1007.2,568.3 1042.7,572.0 1078.1,575.9 1113.5,579.9 1148.8,584.2 1184.1,588.8 1219.4,593.5 1254.7,598.5 1289.9,603.7 1325.1,609.1 1360.3,614.8 1395.4,620.7 1430.5,626.8 1465.5,633.2 1500.5,639.8 1535.5,646.7 1570.4,653.8 1605.2,661.2 1640.0,668.8 1674.7,676.8 1709.4,684.9 1744.0,693.4 1778.5,702.1 1812.9,711.1 1847.3,720.3 1881.6,729.8 1915.8,739.7 1950.0,749.8 1950.0,729.1 1915.7,719.5 1881.4,710.2 1847.0,701.2 1812.5,692.4 1778.0,683.9 1743.4,675.7 1708.7,667.7 1674.0,659.9 1639.2,652.4 1604.4,645.2 1569.5,638.1 1534.6,631.4 1499.7,624.8 1464.6,618.5 1429.6,612.4 1394.5,606.6 1359.4,600.9 1324.2,595.5 1289.0,590.4 1253.8,585.4 1218.5,580.6 1183.3,576.1 1148.0,571.8 1112.6,567.7 1077.3,563.7 1041.9,560.0 1006.5,556.5 971.1,553.2 935.6,550.0 900.2,547.1 864.7,544.3 829.2,541.7 793.7,539.3 758.2,537.1 722.7,535.0 687.2,533.1 651.6,531.4 616.1,529.9 580.5,528.5 545.0,527.3 509.4,526.2 473.9,525.3 438.3,524.5 402.7,523.9 367.2,523.4 331.6,523.1 296.0,522.9" fill="#ffdc00" stroke="#ffdc00" stroke-width="1.6"/>
<polygon points="296.0,522.9 331.6,523.1 367.2,523.4 402.7,523.9 438.3,524.5 473.9,525.3 509.4,526.2 545.0,527.3 580.5,528.5 616.1,529.9 651.6,531.4 687.2,533.1 722.7,535.0 758.2,537.1 793.7,539.3 829.2,541.7 864.7,544.3 900.2,547.1 935.6,550.0 971.1,553.2 1006.5,556.5 1041.9,560.0 1077.3,563.7 1112.6,567.7 1148.0,571.8 1183.3,576.1 1218.5,580.6 1253.8,585.4 1289.0,590.4 1324.2,595.5 1359.4,600.9 1394.5,606.6 1429.6,612.4 1464.6,618.5 1499.7,624.8 1534.6,631.4 1569.5,638.1 1604.4,645.2 1639.2,652.4 1674.0,659.9 1708.7,667.7 1743.4,675.7 1778.0,683.9 1812.5,692.4 1847.0,701.2 1881.4,710.2 1915.7,719.5 1950.0,729.1 1949.9,708.4 1915.6,699.4 1881.1,690.6 1846.6,682.1 1812.1,673.8 1777.5,665.8 1742.8,658.0 1708.1,650.4 1673.3,643.1 1638.5,636.0 1603.6,629.1 1568.7,622.5 1533.8,616.0 1498.8,609.8 1463.8,603.8 1428.7,598.1 1393.6,592.5 1358.5,587.1 1323.3,582.0 1288.1,577.1 1252.9,572.3 1217.7,567.8 1182.4,563.4 1147.1,559.3 1111.8,555.4 1076.4,551.6 1041.1,548.0 1005.7,544.7 970.3,541.5 934.9,538.5 899.5,535.6 864.1,533.0 828.6,530.5 793.2,528.2 757.7,526.0 722.2,524.1 686.7,522.3 651.2,520.6 615.7,519.1 580.2,517.8 544.7,516.6 509.2,515.6 473.7,514.7 438.1,514.0 402.6,513.4 367.1,513.0 331.5,512.7 296.0,512.5" fill="#ffd400" stroke="#ffd400" stroke-width="1.6"/>
<polygon points="296.0,512.5 331.5,512.7 367.1,513.0 402.6,513.4 438.1,514.0 473.7,514.7 509.2,515.6 544.7,516.6 580.2,517.8 615.7,519.1 651.2,520.6 686.7,522.3 722.2,524.1 757.7,526.0 793.2,528.2 828.6,530.5 864.1,533.0 899.5,535.6 934.9,538.5 970.3,541.5 1005.7,544.7 1041.1,548.0 1076.4,551.6 1111.8,555.4 1147.1,559.3 1182.4,563.4 1217.7,567.8 1252.9,572.3 1288.1,577.1 1323.3,582.0 1358.5,587.1 1393.6,592.5 1428.7,598.1 1463.8,603.8 1498.8,609.8 1533.8,616.0 1568.7,622.5 1603.6,629.1 1638.5,636.0 1673.3,643.1 1708.1,650.4 1742.8,658.0 1777.5,665.8 1812.1,673.8 1846.6,682.1 1881.1,690.6 1915.6,699.4 1949.9,708.4 1950.0,690.4 1915.5,681.7 1881.1,673.3 1846.5,665.1 1811.9,657.1 1777.3,649.3 1742.6,641.8 1707.8,634.5 1673.0,627.5 1638.2,620.6 1603.3,614.0 1568.4,607.6 1533.4,601.5 1498.4,595.5 1463.3,589.7 1428.3,584.2 1393.2,578.9 1358.0,573.7 1322.9,568.8 1287.7,564.1 1252.5,559.6 1217.2,555.2 1181.9,551.1 1146.7,547.1 1111.3,543.4 1076.0,539.8 1040.7,536.4 1005.3,533.1 969.9,530.1 934.5,527.2 899.1,524.5 863.7,522.0 828.3,519.6 792.8,517.4 757.4,515.4 721.9,513.5 686.5,511.7 651.0,510.1 615.5,508.7 580.0,507.4 544.5,506.3 509.0,505.3 473.5,504.4 438.0,503.7 402.5,503.1 367.0,502.6 331.5,502.3 296.0,502.1" fill="#ffcc00" stroke="#ffcc00" stroke-width="1.6"/>
<polygon points="296.0,502.1 331.5,502.3 367.0,502.6 402.5,503.1 438.0,503.7 473.5,504.4 509.0,505.3 544.5,506.3 580.0,507.4 615.5,508.7 651.0,510.1 686.5,511.7 721.9,513.5 757.4,515.4 792.8,517.4 828.3,519.6 863.7,522.0 899.1,524.5 934.5,527.2 969.9,530.1 1005.3,533.1 1040.7,536.4 1076.0,539.8 1111.3,543.4 1146.7,547.1 1181.9,551.1 1217.2,555.2 1252.5,559.6 1287.7,564.1 1322.9,568.8 1358.0,573.7 1393.2,578.9 1428.3,584.2 1463.3,589.7 1498.4,595.5 1533.4,601.5 1568.4,607.6 1603.3,614.0 1638.2,620.6 1673.0,627.5 1707.8,634.5 1742.6,641.8 1777.3,649.3 1811.9,657.1 1846.5,665.1 1881.1,673.3 1915.5,681.7 1950.0,690.4 1950.0,672.5 1915.5,664.1 1881.0,655.9 1846.4,648.0 1811.8,640.3 1777.1,632.9 1742.3,625.6 1707.5,618.6 1672.7,611.8 1637.8,605.3 1602.9,598.9 1568.0,592.8 1533.0,586.9 1498.0,581.2 1462.9,575.6 1427.8,570.3 1392.7,565.2 1357.6,560.3 1322.4,555.6 1287.2,551.1 1252.0,546.8 1216.8,542.7 1181.5,538.7 1146.2,534.9 1110.9,531.3 1075.6,527.9 1040.3,524.7 1004.9,521.6 969.5,518.7 934.2,516.0 898.8,513.4 863.4,511.0 828.0,508.7 792.5,506.6 757.1,504.7 721.7,502.9 686.2,501.2 650.8,499.7 615.3,498.3 579.8,497.1 544.4,495.9 508.9,495.0 473.4,494.1 437.9,493.4 402.5,492.8 367.0,492.3 331.5,491.9 296.0,491.7" fill="#ffc400" stroke="#ffc400" stroke-width="1.6"/>
<polygon points="296.0,491.7 331.5,491.9 367.0,492.3 402.5,492.8 437.9,493.4 473.4,494.1 508.9,495.0 544.4,495.9 579.8,497.1 615.3,498.3 650.8,499.7 686.2,501.2 721.7,502.9 757.1,504.7 792.5,506.6 828.0,508.7 863.4,511.0 898.8,513.4 934.2,516.0 969.5,518.7 1004.9,521.6 1040.3,524.7 1075.6,527.9 1110.9,531.3 1146.2,534.9 1181.5,538.7 1216.8,542.7 1252.0,546.8 1287.2,551.1 1322.4,555.6 1357.6,560.3 1392.7,565.2 1427.8,570.3 1462.9,575.6 1498.0,581.2 1533.0,586.9 1568.0,592.8 1602.9,598.9 1637.8,605.3 1672.7,611.8 1707.5,618.6 1742.3,625.6 1777.1,632.9 1811.8,640.3 1846.4,648.0 1881.0,655.9 1915.5,664.1 1950.0,672.5 1950.0,654.5 1915.5,646.4 1880.9,638.6 1846.3,631.0 1811.6,623.6 1776.9,616.4 1742.1,609.4 1707.3,602.7 1672.4,596.2 1637.5,589.9 1602.6,583.8 1567.6,577.9 1532.6,572.3 1497.6,566.8 1462.5,561.6 1427.4,556.5 1392.3,551.6 1357.1,546.9 1322.0,542.5 1286.8,538.1 1251.6,534.0 1216.3,530.1 1181.1,526.3 1145.8,522.7 1110.5,519.3 1075.2,516.1 1039.8,513.0 1004.5,510.1 969.1,507.3 933.8,504.7 898.4,502.3 863.0,500.0 827.6,497.8 792.2,495.8 756.8,494.0 721.4,492.2 686.0,490.7 650.5,489.2 615.1,487.9 579.6,486.7 544.2,485.6 508.7,484.6 473.3,483.8 437.8,483.1 402.4,482.5 366.9,482.0 331.5,481.6 296.0,481.3" fill="#ffbc00" stroke="#ffbc00" stroke-width="1.6"/>
<polygon points="296.0,481.3 331.5,481.6 366.9,482.0 402.4,482.5 437.8,483.1 473.3,483.8 508.7,484.6 544.2,485.6 579.6,486.7 615.1,487.9 650.5,489.2 686.0,490.7 721.4,492.2 756.8,494.0 792.2,495.8 827.6,497.8 863.0,500.0 898.4,502.3 933.8,504.7 969.1,507.3 1004.5,510.1 1039.8,513.0 1075.2,516.1 1110.5,519.3 1145.8,522.7 1181.1,526.3 1216.3,530.1 1251.6,534.0 1286.8,538.1 1322.0,542.5 1357.1,546.9 1392.3,551.6 1427.4,556.5 1462.5,561.6 1497.6,566.8 1532.6,572.3 1567.6,577.9 1602.6,583.8 1637.5,589.9 1672.4,596.2 1707.3,602.7 1742.1,609.4 1776.9,616.4 1811.6,623.6 1846.3,631.0 1880.9,638.6 1915.5,646.4 1950.0,654.5 1950.0,636.6 1915.4,628.8 1880.8,621.2 1846.1,613.9 1811.4,606.8 1776.7,599.9 1741.9,593.2 1707.0,586.8 1672.1,580.6 1637.2,574.5 1602.3,568.7 1567.3,563.1 1532.2,557.7 1497.2,552.5 1462.1,547.5 1427.0,542.6 1391.9,538.0 1356.7,533.5 1321.5,529.3 1286.3,525.2 1251.1,521.3 1215.9,517.5 1180.6,514.0 1145.3,510.6 1110.0,507.3 1074.7,504.2 1039.4,501.3 1004.1,498.6 968.7,496.0 933.4,493.5 898.0,491.2 862.7,489.0 827.3,487.0 791.9,485.0 756.5,483.3 721.1,481.6 685.7,480.1 650.3,478.7 614.9,477.5 579.5,476.3 544.0,475.3 508.6,474.3 473.2,473.5 437.7,472.8 402.3,472.2 366.9,471.6 331.4,471.2 296.0,470.9" fill="#ffb400" stroke="#ffb400" stroke-width="1.6"/>
<polygon points="296.0,470.9 331.4,471.2 366.9,471.6 402.3,472.2 437.7,472.8 473.2,473.5 508.6,474.3 544.0,475.3 579.5,476.3 614.9,477.5 650.3,478.7 685.7,480.1 721.1,481.6 756.5,483.3 791.9,485.0 827.3,487.0 862.7,489.0 898.0,491.2 933.4,493.5 968.7,496.0 1004.1,498.6 1039.4,501.3 1074.7,504.2 1110.0,507.3 1145.3,510.6 1180.6,514.0 1215.9,517.5 1251.1,521.3 1286.3,525.2 1321.5,529.3 1356.7,533.5 1391.9,538.0 1427.0,542.6 1462.1,547.5 1497.2,552.5 1532.2,557.7 1567.3,563.1 1602.3,568.7 1637.2,574.5 1672.1,580.6 1707.0,586.8 1741.9,593.2 1776.7,599.9 1811.4,606.8 1846.1,613.9 1880.8,621.2 1915.4,628.8 1950.0,636.6 1950.0,620.4 1915.4,612.9 1880.7,605.7 1846.0,598.7 1811.2,591.8 1776.5,585.2 1741.6,578.8 1706.7,572.6 1671.8,566.6 1636.9,560.8 1601.9,555.2 1566.9,549.8 1531.9,544.6 1496.8,539.5 1461.7,534.7 1426.6,530.0 1391.5,525.5 1356.3,521.2 1321.2,517.0 1286.0,513.1 1250.7,509.3 1215.5,505.6 1180.3,502.2 1145.0,498.8 1109.7,495.7 1074.4,492.7 1039.1,489.8 1003.8,487.2 968.5,484.6 933.1,482.2 897.8,479.9 862.4,477.8 827.1,475.8 791.7,474.0 756.3,472.2 720.9,470.6 685.5,469.2 650.1,467.8 614.7,466.6 579.3,465.5 543.9,464.5 508.5,463.6 473.1,462.8 437.7,462.2 402.3,461.6 366.8,461.1 331.4,460.8 296.0,460.5" fill="#ffab00" stroke="#ffab00" stroke-width="1.6"/>
<polygon points="296.0,460.5 331.4,460.8 366.8,461.1 402.3,461.6 437.7,462.2 473.1,462.8 508.5,463.6 543.9,464.5 579.3,465.5 614.7,466.6 650.1,467.8 685.5,469.2 720.9,470.6 756.3,472.2 791.7,474.0 827.1,475.8 862.4,477.8 897.8,479.9 933.1,482.2 968.5,484.6 1003.8,487.2 1039.1,489.8 1074.4,492.7 1109.7,495.7 1145.0,498.8 1180.3,502.2 1215.5,505.6 1250.7,509.3 1286.0,513.1 1321.2,517.0 1356.3,521.2 1391.5,525.5 1426.6,530.0 1461.7,534.7 1496.8,539.5 1531.9,544.6 1566.9,549.8 1601.9,555.2 1636.9,560.8 1671.8,566.6 1706.7,572.6 1741.6,578.8 1776.5,585.2 1811.2,591.8 1846.0,598.7 1880.7,605.7 1915.4,612.9 1950.0,620.4 1950.0,604.2 1915.3,597.0 1880.6,590.1 1845.9,583.4 1811.1,576.9 1776.2,570.5 1741.4,564.4 1706.5,558.4 1671.5,552.7 1636.6,547.1 1601.6,541.7 1566.6,536.5 1531.5,531.4 1496.5,526.6 1461.4,521.9 1426.3,517.3 1391.1,513.0 1356.0,508.8 1320.8,504.8 1285.6,501.0 1250.4,497.3 1215.2,493.7 1179.9,490.4 1144.7,487.1 1109.4,484.1 1074.1,481.1 1038.8,478.4 1003.5,475.7 968.2,473.3 932.9,470.9 897.5,468.7 862.2,466.6 826.8,464.7 791.5,462.9 756.1,461.2 720.7,459.7 685.4,458.2 650.0,456.9 614.6,455.8 579.2,454.7 543.8,453.7 508.4,452.9 473.0,452.2 437.6,451.6 402.2,451.1 366.8,450.7 331.4,450.3 296.0,450.1" fill="#ffa300" stroke="#ffa300" stroke-width="1.6"/>
<polygon points="296.0,450.1 331.4,450.3 366.8,450.7 402.2,451.1 437.6,451.6 473.0,452.2 508.4,452.9 543.8,453.7 579.2,454.7 614.6,455.8 650.0,456.9 685.4,458.2 720.7,459.7 756.1,461.2 791.5,462.9 826.8,464.7 862.2,466.6 897.5,468.7 932.9,470.9 968.2,473.3 1003.5,475.7 1038.8,478.4 1074.1,481.1 1109.4,484.1 1144.7,487.1 1179.9,490.4 1215.2,493.7 1250.4,497.3 1285.6,501.0 1320.8,504.8 1356.0,508.8 1391.1,513.0 1426.3,517.3 1461.4,521.9 1496.5,526.6 1531.5,531.4 1566.6,536.5 1601.6,541.7 1636.6,547.1 1671.5,552.7 1706.5,558.4 1741.4,564.4 1776.2,570.5 1811.1,576.9 1845.9,583.4 1880.6,590.1 1915.3,597.0 1950.0,604.2 1950.0,588.0 1915.3,581.2 1880.5,574.6 1845.7,568.1 1810.9,561.9 1776.0,555.8 1741.1,550.0 1706.2,544.3 1671.3,538.7 1636.3,533.4 1601.3,528.2 1566.2,523.1 1531.2,518.3 1496.1,513.6 1461.0,509.1 1425.9,504.7 1390.8,500.5 1355.6,496.5 1320.4,492.6 1285.2,488.8 1250.0,485.3 1214.8,481.8 1179.6,478.6 1144.3,475.4 1109.1,472.4 1073.8,469.6 1038.5,466.9 1003.2,464.3 967.9,461.9 932.6,459.6 897.3,457.5 861.9,455.5 826.6,453.6 791.3,451.8 755.9,450.2 720.5,448.7 685.2,447.3 649.8,446.0 614.4,444.9 579.1,443.9 543.7,443.0 508.3,442.2 472.9,441.5 437.5,441.0 402.2,440.5 366.8,440.2 331.4,439.9 296.0,439.8" fill="#ff9b00" stroke="#ff9b00" stroke-width="1.6"/>
<polygon points="296.0,439.8 331.4,439.9 366.8,440.2 402.2,440.5 437.5,441.0 472.9,441.5 508.3,442.2 543.7,443.0 579.1,443.9 614.4,444.9 649.8,446.0 685.2,447.3 720.5,448.7 755.9,450.2 791.3,451.8 826.6,453.6 861.9,455.5 897.3,457.5 932.6,459.6 967.9,461.9 1003.2,464.3 1038.5,466.9 1073.8,469.6 1109.1,472.4 1144.3,475.4 1179.6,478.6 1214.8,481.8 1250.0,485.3 1285.2,488.8 1320.4,492.6 1355.6,496.5 1390.8,500.5 1425.9,504.7 1461.0,509.1 1496.1,513.6 1531.2,518.3 1566.2,523.1 1601.3,528.2 1636.3,533.4 1671.3,538.7 1706.2,544.3 1741.1,550.0 1776.0,555.8 1810.9,561.9 1845.7,568.1 1880.5,574.6 1915.3,581.2 1950.0,588.0 1950.0,571.7 1915.2,565.3 1880.4,559.0 1845.6,552.9 1810.7,546.9 1775.8,541.2 1740.9,535.5 1705.9,530.1 1671.0,524.8 1636.0,519.6 1600.9,514.6 1565.9,509.8 1530.8,505.2 1495.8,500.6 1460.7,496.3 1425.5,492.1 1390.4,488.0 1355.2,484.1 1320.1,480.3 1284.9,476.7 1249.7,473.3 1214.5,469.9 1179.2,466.7 1144.0,463.7 1108.7,460.8 1073.5,458.0 1038.2,455.4 1002.9,452.9 967.6,450.6 932.3,448.3 897.0,446.2 861.7,444.3 826.4,442.4 791.0,440.7 755.7,439.1 720.4,437.7 685.0,436.4 649.7,435.1 614.3,434.0 578.9,433.1 543.6,432.2 508.2,431.5 472.9,430.9 437.5,430.3 402.1,429.9 366.7,429.7 331.4,429.5 296.0,429.4" fill="#ff9300" stroke="#ff9300" stroke-width="1.6"/>
<polygon points="296.0,429.4 331.4,429.5 366.7,429.7 402.1,429.9 437.5,430.3 472.9,430.9 508.2,431.5 543.6,432.2 578.9,433.1 614.3,434.0 649.7,435.1 685.0,436.4 720.4,437.7 755.7,439.1 791.0,440.7 826.4,442.4 861.7,444.3 897.0,446.2 932.3,448.3 967.6,450.6 1002.9,452.9 1038.2,455.4 1073.5,458.0 1108.7,460.8 1144.0,463.7 1179.2,466.7 1214.5,469.9 1249.7,473.3 1284.9,476.7 1320.1,480.3 1355.2,484.1 1390.4,488.0 1425.5,492.1 1460.7,496.3 1495.8,500.6 1530.8,505.2 1565.9,509.8 1600.9,514.6 1636.0,519.6 1671.0,524.8 1705.9,530.1 1740.9,535.5 1775.8,541.2 1810.7,546.9 1845.6,552.9 1880.4,559.0 1915.2,565.3 1950.0,571.7 1950.0,556.7 1915.2,550.4 1880.4,544.4 1845.5,538.5 1810.6,532.7 1775.7,527.1 1740.7,521.7 1705.8,516.4 1670.8,511.3 1635.8,506.4 1600.8,501.6 1565.7,496.9 1530.6,492.4 1495.5,488.0 1460.4,483.8 1425.3,479.8 1390.2,475.8 1355.0,472.1 1319.8,468.4 1284.6,465.0 1249.4,461.6 1214.2,458.4 1179.0,455.3 1143.8,452.4 1108.5,449.6 1073.3,446.9 1038.0,444.4 1002.7,441.9 967.4,439.7 932.1,437.5 896.8,435.5 861.5,433.6 826.2,431.8 790.9,430.1 755.6,428.6 720.2,427.2 684.9,425.9 649.5,424.7 614.2,423.6 578.9,422.7 543.5,421.8 508.2,421.1 472.8,420.5 437.4,420.0 402.1,419.6 366.7,419.3 331.4,419.1 296.0,419.0" fill="#ff8b00" stroke="#ff8b00" stroke-width="1.6"/>
<polygon points="296.0,419.0 331.4,419.1 366.7,419.3 402.1,419.6 437.4,420.0 472.8,420.5 508.2,421.1 543.5,421.8 578.9,422.7 614.2,423.6 649.5,424.7 684.9,425.9 720.2,427.2 755.6,428.6 790.9,430.1 826.2,431.8 861.5,433.6 896.8,435.5 932.1,437.5 967.4,439.7 1002.7,441.9 1038.0,444.4 1073.3,446.9 1108.5,449.6 1143.8,452.4 1179.0,455.3 1214.2,458.4 1249.4,461.6 1284.6,465.0 1319.8,468.4 1355.0,472.1 1390.2,475.8 1425.3,479.8 1460.4,483.8 1495.5,488.0 1530.6,492.4 1565.7,496.9 1600.8,501.6 1635.8,506.4 1670.8,511.3 1705.8,516.4 1740.7,521.7 1775.7,527.1 1810.6,532.7 1845.5,538.5 1880.4,544.4 1915.2,550.4 1950.0,556.7 1950.0,541.6 1915.2,535.6 1880.3,529.7 1845.4,524.0 1810.5,518.5 1775.6,513.1 1740.6,507.9 1705.6,502.8 1670.6,497.9 1635.6,493.1 1600.6,488.5 1565.5,484.0 1530.4,479.6 1495.3,475.4 1460.2,471.4 1425.1,467.5 1389.9,463.7 1354.8,460.0 1319.6,456.5 1284.4,453.2 1249.2,449.9 1214.0,446.8 1178.8,443.9 1143.5,441.0 1108.3,438.3 1073.0,435.8 1037.8,433.3 1002.5,431.0 967.2,428.8 931.9,426.7 896.7,424.7 861.3,422.9 826.0,421.2 790.7,419.5 755.4,418.1 720.1,416.7 684.8,415.4 649.4,414.3 614.1,413.2 578.8,412.3 543.4,411.5 508.1,410.8 472.7,410.1 437.4,409.6 402.0,409.2 366.7,408.9 331.3,408.7 296.0,408.6" fill="#ff8300" stroke="#ff8300" stroke-width="1.6"/>
<polygon points="296.0,408.6 331.3,408.7 366.7,408.9 402.0,409.2 437.4,409.6 472.7,410.1 508.1,410.8 543.4,411.5 578.8,412.3 614.1,413.2 649.4,414.3 684.8,415.4 720.1,416.7 755.4,418.1 790.7,419.5 826.0,421.2 861.3,422.9 896.7,424.7 931.9,426.7 967.2,428.8 1002.5,431.0 1037.8,433.3 1073.0,435.8 1108.3,438.3 1143.5,441.0 1178.8,443.9 1214.0,446.8 1249.2,449.9 1284.4,453.2 1319.6,456.5 1354.8,460.0 1389.9,463.7 1425.1,467.5 1460.2,471.4 1495.3,475.4 1530.4,479.6 1565.5,484.0 1600.6,488.5 1635.6,493.1 1670.6,497.9 1705.6,502.8 1740.6,507.9 1775.6,513.1 1810.5,518.5 1845.4,524.0 1880.3,529.7 1915.2,535.6 1950.0,541.6 1950.0,526.5 1915.1,520.7 1880.3,515.1 1845.3,509.6 1810.4,504.3 1775.5,499.1 1740.5,494.1 1705.5,489.2 1670.5,484.4 1635.4,479.8 1600.4,475.4 1565.3,471.1 1530.2,466.9 1495.1,462.8 1460.0,458.9 1424.9,455.2 1389.7,451.5 1354.6,448.0 1319.4,444.6 1284.2,441.4 1249.0,438.3 1213.8,435.3 1178.6,432.4 1143.3,429.7 1108.1,427.1 1072.8,424.6 1037.6,422.2 1002.3,420.0 967.0,417.9 931.8,415.9 896.5,414.0 861.2,412.2 825.9,410.5 790.6,409.0 755.3,407.5 720.0,406.2 684.6,405.0 649.3,403.8 614.0,402.8 578.7,401.9 543.3,401.1 508.0,400.4 472.7,399.8 437.3,399.3 402.0,398.9 366.7,398.5 331.3,398.3 296.0,398.2" fill="#ff7b00" stroke="#ff7b00" stroke-width="1.6"/>
<polygon points="296.0,398.2 331.3,398.3 366.7,398.5 402.0,398.9 437.3,399.3 472.7,399.8 508.0,400.4 543.3,401.1 578.7,401.9 614.0,402.8 649.3,403.8 684.6,405.0 720.0,406.2 755.3,407.5 790.6,409.0 825.9,410.5 861.2,412.2 896.5,414.0 931.8,415.9 967.0,417.9 1002.3,420.0 1037.6,422.2 1072.8,424.6 1108.1,427.1 1143.3,429.7 1178.6,432.4 1213.8,435.3 1249.0,438.3 1284.2,441.4 1319.4,444.6 1354.6,448.0 1389.7,451.5 1424.9,455.2 1460.0,458.9 1495.1,462.8 1530.2,466.9 1565.3,471.1 1600.4,475.4 1635.4,479.8 1670.5,484.4 1705.5,489.2 1740.5,494.1 1775.5,499.1 1810.4,504.3 1845.3,509.6 1880.3,515.1 1915.1,520.7 1950.0,526.5 1950.0,511.5 1915.1,505.9 1880.2,500.5 1845.3,495.2 1810.3,490.1 1775.3,485.1 1740.4,480.3 1705.3,475.6 1670.3,471.0 1635.3,466.6 1600.2,462.3 1565.1,458.1 1530.0,454.1 1494.9,450.2 1459.8,446.5 1424.6,442.8 1389.5,439.4 1354.3,436.0 1319.1,432.7 1284.0,429.6 1248.8,426.6 1213.5,423.8 1178.3,421.0 1143.1,418.4 1107.9,415.9 1072.6,413.5 1037.4,411.2 1002.1,409.0 966.8,407.0 931.6,405.0 896.3,403.2 861.0,401.5 825.7,399.9 790.4,398.4 755.1,397.0 719.8,395.7 684.5,394.5 649.2,393.4 613.9,392.4 578.6,391.5 543.3,390.7 507.9,390.0 472.6,389.4 437.3,388.9 402.0,388.5 366.7,388.2 331.3,387.9 296.0,387.8" fill="#ff7200" stroke="#ff7200" stroke-width="1.6"/>
<polygon points="296.0,387.8 331.3,387.9 366.7,388.2 402.0,388.5 437.3,388.9 472.6,389.4 507.9,390.0 543.3,390.7 578.6,391.5 613.9,392.4 649.2,393.4 684.5,394.5 719.8,395.7 755.1,397.0 790.4,398.4 825.7,399.9 861.0,401.5 896.3,403.2 931.6,405.0 966.8,407.0 1002.1,409.0 1037.4,411.2 1072.6,413.5 1107.9,415.9 1143.1,418.4 1178.3,421.0 1213.5,423.8 1248.8,426.6 1284.0,429.6 1319.1,432.7 1354.3,436.0 1389.5,439.4 1424.6,442.8 1459.8,446.5 1494.9,450.2 1530.0,454.1 1565.1,458.1 1600.2,462.3 1635.3,466.6 1670.3,471.0 1705.3,475.6 1740.4,480.3 1775.3,485.1 1810.3,490.1 1845.3,495.2 1880.2,500.5 1915.1,505.9 1950.0,511.5 1950.0,497.1 1915.1,491.8 1880.1,486.6 1845.2,481.5 1810.2,476.6 1775.2,471.8 1740.2,467.2 1705.2,462.7 1670.2,458.3 1635.1,454.0 1600.0,449.9 1564.9,445.8 1529.8,441.9 1494.7,438.2 1459.6,434.5 1424.5,431.0 1389.3,427.6 1354.1,424.4 1319.0,421.2 1283.8,418.2 1248.6,415.2 1213.4,412.4 1178.2,409.8 1142.9,407.2 1107.7,404.7 1072.5,402.4 1037.2,400.1 1002.0,398.0 966.7,396.0 931.4,394.1 896.2,392.3 860.9,390.6 825.6,389.1 790.3,387.6 755.0,386.2 719.7,384.9 684.4,383.8 649.1,382.7 613.8,381.7 578.5,380.9 543.2,380.1 507.9,379.4 472.6,378.9 437.3,378.4 402.0,378.0 366.6,377.7 331.3,377.5 296.0,377.4" fill="#ff6a00" stroke="#ff6a00" stroke-width="1.6"/>
<polygon points="296.0,377.4 331.3,377.5 366.6,377.7 402.0,378.0 437.3,378.4 472.6,378.9 507.9,379.4 543.2,380.1 578.5,380.9 613.8,381.7 649.1,382.7 684.4,383.8 719.7,384.9 755.0,386.2 790.3,387.6 825.6,389.1 860.9,390.6 896.2,392.3 931.4,394.1 966.7,396.0 1002.0,398.0 1037.2,400.1 1072.5,402.4 1107.7,404.7 1142.9,407.2 1178.2,409.8 1213.4,412.4 1248.6,415.2 1283.8,418.2 1319.0,421.2 1354.1,424.4 1389.3,427.6 1424.5,431.0 1459.6,434.5 1494.7,438.2 1529.8,441.9 1564.9,445.8 1600.0,449.9 1635.1,454.0 1670.2,458.3 1705.2,462.7 1740.2,467.2 1775.2,471.8 1810.2,476.6 1845.2,481.5 1880.1,486.6 1915.1,491.8 1950.0,497.1 1950.0,482.8 1915.1,477.7 1880.1,472.7 1845.1,467.9 1810.1,463.2 1775.1,458.6 1740.1,454.1 1705.1,449.8 1670.0,445.5 1634.9,441.4 1599.9,437.4 1564.8,433.5 1529.7,429.8 1494.5,426.1 1459.4,422.6 1424.3,419.2 1389.1,415.9 1353.9,412.7 1318.8,409.6 1283.6,406.7 1248.4,403.8 1213.2,401.1 1178.0,398.5 1142.8,396.0 1107.5,393.6 1072.3,391.3 1037.1,389.1 1001.8,387.0 966.6,385.1 931.3,383.2 896.0,381.4 860.8,379.8 825.5,378.2 790.2,376.8 754.9,375.4 719.6,374.2 684.3,373.1 649.0,372.0 613.7,371.1 578.5,370.2 543.1,369.5 507.8,368.9 472.5,368.3 437.2,367.9 401.9,367.5 366.6,367.3 331.3,367.1 296.0,367.1" fill="#ff6200" stroke="#ff6200" stroke-width="1.6"/>
<polygon points="296.0,367.1 331.3,367.1 366.6,367.3 401.9,367.5 437.2,367.9 472.5,368.3 507.8,368.9 543.1,369.5 578.5,370.2 613.7,371.1 649.0,372.0 684.3,373.1 719.6,374.2 754.9,375.4 790.2,376.8 825.5,378.2 860.8,379.8 896.0,381.4 931.3,383.2 966.6,385.1 1001.8,387.0 1037.1,389.1 1072.3,391.3 1107.5,393.6 1142.8,396.0 1178.0,398.5 1213.2,401.1 1248.4,403.8 1283.6,406.7 1318.8,409.6 1353.9,412.7 1389.1,415.9 1424.3,419.2 1459.4,422.6 1494.5,426.1 1529.7,429.8 1564.8,433.5 1599.9,437.4 1634.9,441.4 1670.0,445.5 1705.1,449.8 1740.1,454.1 1775.1,458.6 1810.1,463.2 1845.1,467.9 1880.1,472.7 1915.1,477.7 1950.0,482.8 1950.0,468.4 1915.0,463.6 1880.1,458.8 1845.1,454.2 1810.0,449.7 1775.0,445.3 1740.0,441.0 1704.9,436.8 1669.9,432.8 1634.8,428.8 1599.7,425.0 1564.6,421.2 1529.5,417.6 1494.4,414.1 1459.2,410.7 1424.1,407.4 1388.9,404.2 1353.8,401.1 1318.6,398.1 1283.4,395.2 1248.2,392.5 1213.0,389.8 1177.8,387.2 1142.6,384.8 1107.4,382.4 1072.1,380.2 1036.9,378.1 1001.7,376.0 966.4,374.1 931.2,372.3 895.9,370.5 860.6,368.9 825.4,367.4 790.1,366.0 754.8,364.7 719.5,363.5 684.3,362.3 649.0,361.3 613.7,360.4 578.4,359.6 543.1,358.9 507.8,358.3 472.5,357.8 437.2,357.4 401.9,357.0 366.6,356.8 331.3,356.7 296.0,356.7" fill="#ff5a00" stroke="#ff5a00" stroke-width="1.6"/>
<polygon points="296.0,356.7 331.3,356.7 366.6,356.8 401.9,357.0 437.2,357.4 472.5,357.8 507.8,358.3 543.1,358.9 578.4,359.6 613.7,360.4 649.0,361.3 684.3,362.3 719.5,363.5 754.8,364.7 790.1,366.0 825.4,367.4 860.6,368.9 895.9,370.5 931.2,372.3 966.4,374.1 1001.7,376.0 1036.9,378.1 1072.1,380.2 1107.4,382.4 1142.6,384.8 1177.8,387.2 1213.0,389.8 1248.2,392.5 1283.4,395.2 1318.6,398.1 1353.8,401.1 1388.9,404.2 1424.1,407.4 1459.2,410.7 1494.4,414.1 1529.5,417.6 1564.6,421.2 1599.7,425.0 1634.8,428.8 1669.9,432.8 1704.9,436.8 1740.0,441.0 1775.0,445.3 1810.0,449.7 1845.1,454.2 1880.1,458.8 1915.0,463.6 1950.0,468.4 1950.0,454.1 1915.0,449.5 1880.0,445.0 1845.0,440.6 1810.0,436.2 1774.9,432.0 1739.9,427.9 1704.8,423.9 1669.7,420.0 1634.6,416.2 1599.5,412.5 1564.4,408.9 1529.3,405.4 1494.2,402.0 1459.0,398.7 1423.9,395.5 1388.7,392.5 1353.6,389.5 1318.4,386.6 1283.2,383.8 1248.0,381.1 1212.8,378.5 1177.6,376.0 1142.4,373.6 1107.2,371.3 1072.0,369.1 1036.7,367.0 1001.5,365.0 966.3,363.1 931.0,361.3 895.8,359.7 860.5,358.1 825.2,356.6 790.0,355.2 754.7,353.9 719.4,352.7 684.2,351.6 648.9,350.6 613.6,349.8 578.3,349.0 543.0,348.3 507.7,347.7 472.5,347.2 437.2,346.8 401.9,346.6 366.6,346.4 331.3,346.3 296.0,346.3" fill="#ff5200" stroke="#ff5200" stroke-width="1.6"/>
<polygon points="296.0,346.3 331.3,346.3 366.6,346.4 401.9,346.6 437.2,346.8 472.5,347.2 507.7,347.7 543.0,348.3 578.3,349.0 613.6,349.8 648.9,350.6 684.2,351.6 719.4,352.7 754.7,353.9 790.0,355.2 825.2,356.6 860.5,358.1 895.8,359.7 931.0,361.3 966.3,363.1 1001.5,365.0 1036.7,367.0 1072.0,369.1 1107.2,371.3 1142.4,373.6 1177.6,376.0 1212.8,378.5 1248.0,381.1 1283.2,383.8 1318.4,386.6 1353.6,389.5 1388.7,392.5 1423.9,395.5 1459.0,398.7 1494.2,402.0 1529.3,405.4 1564.4,408.9 1599.5,412.5 1634.6,416.2 1669.7,420.0 1704.8,423.9 1739.9,427.9 1774.9,432.0 1810.0,436.2 1845.0,440.6 1880.0,445.0 1915.0,449.5 1950.0,454.1 1950.0,440.5 1915.0,436.0 1880.0,431.6 1845.0,427.3 1809.9,423.1 1774.9,419.0 1739.8,415.0 1704.7,411.1 1669.7,407.3 1634.6,403.6 1599.5,400.0 1564.4,396.6 1529.2,393.2 1494.1,389.9 1459.0,386.7 1423.8,383.6 1388.7,380.6 1353.5,377.7 1318.3,374.9 1283.1,372.1 1247.9,369.5 1212.7,367.0 1177.5,364.6 1142.3,362.3 1107.1,360.1 1071.9,358.0 1036.7,356.0 1001.4,354.0 966.2,352.2 930.9,350.5 895.7,348.9 860.4,347.3 825.2,345.9 789.9,344.6 754.6,343.3 719.4,342.2 684.1,341.1 648.8,340.2 613.6,339.3 578.3,338.6 543.0,337.9 507.7,337.3 472.4,336.9 437.1,336.5 401.9,336.2 366.6,336.0 331.3,335.9 296.0,335.9" fill="#ff4a00" stroke="#ff4a00" stroke-width="1.6"/>
<polygon points="296.0,335.9 331.3,335.9 366.6,336.0 401.9,336.2 437.1,336.5 472.4,336.9 507.7,337.3 543.0,337.9 578.3,338.6 613.6,339.3 648.8,340.2 684.1,341.1 719.4,342.2 754.6,343.3 789.9,344.6 825.2,345.9 860.4,347.3 895.7,348.9 930.9,350.5 966.2,352.2 1001.4,354.0 1036.7,356.0 1071.9,358.0 1107.1,360.1 1142.3,362.3 1177.5,364.6 1212.7,367.0 1247.9,369.5 1283.1,372.1 1318.3,374.9 1353.5,377.7 1388.7,380.6 1423.8,383.6 1459.0,386.7 1494.1,389.9 1529.2,393.2 1564.4,396.6 1599.5,400.0 1634.6,403.6 1669.7,407.3 1704.7,411.1 1739.8,415.0 1774.9,419.0 1809.9,423.1 1845.0,427.3 1880.0,431.6 1915.0,436.0 1950.0,440.5 1950.0,426.9 1915.0,422.5 1880.0,418.3 1844.9,414.1 1809.9,410.0 1774.8,406.0 1739.8,402.1 1704.7,398.3 1669.6,394.6 1634.5,391.0 1599.4,387.6 1564.3,384.2 1529.2,380.9 1494.0,377.7 1458.9,374.6 1423.7,371.6 1388.6,368.7 1353.4,365.9 1318.2,363.1 1283.0,360.5 1247.8,358.0 1212.6,355.6 1177.4,353.3 1142.2,351.0 1107.0,348.9 1071.8,346.9 1036.6,344.9 1001.3,343.1 966.1,341.3 930.9,339.6 895.6,338.1 860.4,336.6 825.1,335.2 789.8,333.9 754.6,332.7 719.3,331.6 684.1,330.6 648.8,329.7 613.5,328.9 578.2,328.1 543.0,327.5 507.7,327.0 472.4,326.5 437.1,326.1 401.8,325.8 366.6,325.7 331.3,325.6 296.0,325.6" fill="#ff4200" stroke="#ff4200" stroke-width="1.6"/>
<polygon points="296.0,325.6 331.3,325.6 366.6,325.7 401.8,325.8 437.1,326.1 472.4,326.5 507.7,327.0 543.0,327.5 578.2,328.1 613.5,328.9 648.8,329.7 684.1,330.6 719.3,331.6 754.6,332.7 789.8,333.9 825.1,335.2 860.4,336.6 895.6,338.1 930.9,339.6 966.1,341.3 1001.3,343.1 1036.6,344.9 1071.8,346.9 1107.0,348.9 1142.2,351.0 1177.4,353.3 1212.6,355.6 1247.8,358.0 1283.0,360.5 1318.2,363.1 1353.4,365.9 1388.6,368.7 1423.7,371.6 1458.9,374.6 1494.0,377.7 1529.2,380.9 1564.3,384.2 1599.4,387.6 1634.5,391.0 1669.6,394.6 1704.7,398.3 1739.8,402.1 1774.8,406.0 1809.9,410.0 1844.9,414.1 1880.0,418.3 1915.0,422.5 1950.0,426.9 1950.0,413.4 1915.0,409.1 1880.0,404.9 1844.9,400.8 1809.9,396.9 1774.8,393.0 1739.7,389.2 1704.6,385.5 1669.6,381.9 1634.5,378.5 1599.3,375.1 1564.2,371.8 1529.1,368.6 1493.9,365.5 1458.8,362.5 1423.6,359.6 1388.5,356.8 1353.3,354.1 1318.1,351.4 1282.9,348.9 1247.8,346.5 1212.6,344.1 1177.3,341.9 1142.1,339.8 1106.9,337.7 1071.7,335.7 1036.5,333.9 1001.2,332.1 966.0,330.4 930.8,328.8 895.5,327.3 860.3,325.9 825.0,324.5 789.8,323.3 754.5,322.1 719.3,321.1 684.0,320.1 648.7,319.2 613.5,318.4 578.2,317.7 542.9,317.1 507.7,316.6 472.4,316.1 437.1,315.8 401.8,315.5 366.6,315.3 331.3,315.2 296.0,315.2" fill="#ff3900" stroke="#ff3900" stroke-width="1.6"/>
<polygon points="296.0,315.2 331.3,315.2 366.6,315.3 401.8,315.5 437.1,315.8 472.4,316.1 507.7,316.6 542.9,317.1 578.2,317.7 613.5,318.4 648.7,319.2 684.0,320.1 719.3,321.1 754.5,322.1 789.8,323.3 825.0,324.5 860.3,325.9 895.5,327.3 930.8,328.8 966.0,330.4 1001.2,332.1 1036.5,333.9 1071.7,335.7 1106.9,337.7 1142.1,339.8 1177.3,341.9 1212.6,344.1 1247.8,346.5 1282.9,348.9 1318.1,351.4 1353.3,354.1 1388.5,356.8 1423.6,359.6 1458.8,362.5 1493.9,365.5 1529.1,368.6 1564.2,371.8 1599.3,375.1 1634.5,378.5 1669.6,381.9 1704.6,385.5 1739.7,389.2 1774.8,393.0 1809.9,396.9 1844.9,400.8 1880.0,404.9 1915.0,409.1 1950.0,413.4 1950.0,399.8 1915.0,395.6 1879.9,391.6 1844.9,387.6 1809.8,383.7 1774.8,380.0 1739.7,376.3 1704.6,372.7 1669.5,369.2 1634.4,365.9 1599.3,362.6 1564.1,359.4 1529.0,356.3 1493.9,353.3 1458.7,350.4 1423.6,347.6 1388.4,344.9 1353.2,342.3 1318.0,339.7 1282.9,337.3 1247.7,335.0 1212.5,332.7 1177.3,330.5 1142.0,328.5 1106.8,326.5 1071.6,324.6 1036.4,322.8 1001.2,321.1 965.9,319.5 930.7,317.9 895.4,316.5 860.2,315.1 825.0,313.9 789.7,312.7 754.5,311.6 719.2,310.5 683.9,309.6 648.7,308.8 613.4,308.0 578.2,307.3 542.9,306.7 507.6,306.2 472.3,305.8 437.1,305.4 401.8,305.1 366.5,304.9 331.3,304.8 296.0,304.8" fill="#ff3100" stroke="#ff3100" stroke-width="1.6"/>
<polygon points="296.0,304.8 331.3,304.8 366.5,304.9 401.8,305.1 437.1,305.4 472.3,305.8 507.6,306.2 542.9,306.7 578.2,307.3 613.4,308.0 648.7,308.8 683.9,309.6 719.2,310.5 754.5,311.6 789.7,312.7 825.0,313.9 860.2,315.1 895.4,316.5 930.7,317.9 965.9,319.5 1001.2,321.1 1036.4,322.8 1071.6,324.6 1106.8,326.5 1142.0,328.5 1177.3,330.5 1212.5,332.7 1247.7,335.0 1282.9,337.3 1318.0,339.7 1353.2,342.3 1388.4,344.9 1423.6,347.6 1458.7,350.4 1493.9,353.3 1529.0,356.3 1564.1,359.4 1599.3,362.6 1634.4,365.9 1669.5,369.2 1704.6,372.7 1739.7,376.3 1774.8,380.0 1809.8,383.7 1844.9,387.6 1879.9,391.6 1915.0,395.6 1950.0,399.8 1950.0,386.9 1915.0,382.9 1879.9,378.9 1844.9,375.0 1809.8,371.3 1774.7,367.6 1739.6,364.0 1704.6,360.5 1669.5,357.1 1634.3,353.8 1599.2,350.6 1564.1,347.5 1529.0,344.5 1493.8,341.6 1458.7,338.8 1423.5,336.0 1388.3,333.4 1353.2,330.8 1318.0,328.4 1282.8,326.0 1247.6,323.7 1212.4,321.5 1177.2,319.4 1142.0,317.4 1106.8,315.4 1071.5,313.6 1036.3,311.9 1001.1,310.2 965.9,308.6 930.6,307.1 895.4,305.7 860.2,304.4 824.9,303.1 789.7,302.0 754.4,300.9 719.2,299.9 683.9,299.0 648.6,298.2 613.4,297.5 578.1,296.8 542.9,296.2 507.6,295.7 472.3,295.3 437.1,295.0 401.8,294.7 366.5,294.5 331.3,294.4 296.0,294.4" fill="#ff2900" stroke="#ff2900" stroke-width="1.6"/>
<polygon points="296.0,294.4 331.3,294.4 366.5,294.5 401.8,294.7 437.1,295.0 472.3,295.3 507.6,295.7 542.9,296.2 578.1,296.8 613.4,297.5 648.6,298.2 683.9,299.0 719.2,299.9 754.4,300.9 789.7,302.0 824.9,303.1 860.2,304.4 895.4,305.7 930.6,307.1 965.9,308.6 1001.1,310.2 1036.3,311.9 1071.5,313.6 1106.8,315.4 1142.0,317.4 1177.2,319.4 1212.4,321.5 1247.6,323.7 1282.8,326.0 1318.0,328.4 1353.2,330.8 1388.3,333.4 1423.5,336.0 1458.7,338.8 1493.8,341.6 1529.0,344.5 1564.1,347.5 1599.2,350.6 1634.3,353.8 1669.5,357.1 1704.6,360.5 1739.6,364.0 1774.7,367.6 1809.8,371.3 1844.9,375.0 1879.9,378.9 1915.0,382.9 1950.0,386.9 1950.0,374.1 1915.0,370.1 1879.9,366.3 1844.8,362.5 1809.8,358.8 1774.7,355.2 1739.6,351.7 1704.5,348.3 1669.4,345.0 1634.3,341.8 1599.2,338.7 1564.0,335.7 1528.9,332.7 1493.7,329.9 1458.6,327.1 1423.4,324.4 1388.3,321.9 1353.1,319.4 1317.9,317.0 1282.7,314.7 1247.5,312.4 1212.3,310.3 1177.1,308.2 1141.9,306.3 1106.7,304.4 1071.5,302.6 1036.3,300.9 1001.0,299.3 965.8,297.7 930.6,296.3 895.3,294.9 860.1,293.6 824.9,292.4 789.6,291.3 754.4,290.3 719.1,289.3 683.9,288.4 648.6,287.6 613.3,286.9 578.1,286.3 542.8,285.7 507.6,285.2 472.3,284.8 437.1,284.5 401.8,284.3 366.5,284.1 331.3,284.0 296.0,284.0" fill="#ff2100" stroke="#ff2100" stroke-width="1.6"/>
<polygon points="296.0,284.0 331.3,284.0 366.5,284.1 401.8,284.3 437.1,284.5 472.3,284.8 507.6,285.2 542.8,285.7 578.1,286.3 613.3,286.9 648.6,287.6 683.9,288.4 719.1,289.3 754.4,290.3 789.6,291.3 824.9,292.4 860.1,293.6 895.3,294.9 930.6,296.3 965.8,297.7 1001.0,299.3 1036.3,300.9 1071.5,302.6 1106.7,304.4 1141.9,306.3 1177.1,308.2 1212.3,310.3 1247.5,312.4 1282.7,314.7 1317.9,317.0 1353.1,319.4 1388.3,321.9 1423.4,324.4 1458.6,327.1 1493.7,329.9 1528.9,332.7 1564.0,335.7 1599.2,338.7 1634.3,341.8 1669.4,345.0 1704.5,348.3 1739.6,351.7 1774.7,355.2 1809.8,358.8 1844.8,362.5 1879.9,366.3 1915.0,370.1 1950.0,374.1 1950.0,361.2 1915.0,357.4 1879.9,353.6 1844.8,349.9 1809.8,346.3 1774.7,342.9 1739.6,339.5 1704.5,336.1 1669.4,332.9 1634.2,329.8 1599.1,326.7 1564.0,323.8 1528.8,320.9 1493.7,318.2 1458.5,315.5 1423.4,312.9 1388.2,310.4 1353.0,307.9 1317.8,305.6 1282.6,303.3 1247.5,301.2 1212.3,299.1 1177.1,297.1 1141.8,295.2 1106.6,293.4 1071.4,291.6 1036.2,290.0 1001.0,288.4 965.7,286.9 930.5,285.5 895.3,284.1 860.0,282.9 824.8,281.7 789.6,280.6 754.3,279.6 719.1,278.7 683.8,277.8 648.6,277.1 613.3,276.4 578.1,275.8 542.8,275.2 507.6,274.8 472.3,274.4 437.0,274.1 401.8,273.8 366.5,273.7 331.3,273.6 296.0,273.6" fill="#ff1900" stroke="#ff1900" stroke-width="1.6"/>
<polygon points="296.0,273.6 331.3,273.6 366.5,273.7 401.8,273.8 437.0,274.1 472.3,274.4 507.6,274.8 542.8,275.2 578.1,275.8 613.3,276.4 648.6,277.1 683.8,277.8 719.1,278.7 754.3,279.6 789.6,280.6 824.8,281.7 860.0,282.9 895.3,284.1 930.5,285.5 965.7,286.9 1001.0,288.4 1036.2,290.0 1071.4,291.6 1106.6,293.4 1141.8,295.2 1177.1,297.1 1212.3,299.1 1247.5,301.2 1282.6,303.3 1317.8,305.6 1353.0,307.9 1388.2,310.4 1423.4,312.9 1458.5,315.5 1493.7,318.2 1528.8,320.9 1564.0,323.8 1599.1,326.7 1634.2,329.8 1669.4,332.9 1704.5,336.1 1739.6,339.5 1774.7,342.9 1809.8,346.3 1844.8,349.9 1879.9,353.6 1915.0,357.4 1950.0,361.2 1950.0,348.4 1914.9,344.6 1879.9,341.0 1844.8,337.4 1809.7,333.9 1774.6,330.5 1739.5,327.2 1704.4,324.0 1669.3,320.8 1634.2,317.8 1599.1,314.8 1563.9,311.9 1528.8,309.1 1493.6,306.4 1458.5,303.8 1423.3,301.3 1388.1,298.9 1352.9,296.5 1317.8,294.2 1282.6,292.0 1247.4,289.9 1212.2,287.9 1177.0,286.0 1141.8,284.1 1106.6,282.3 1071.4,280.6 1036.1,279.0 1000.9,277.5 965.7,276.0 930.5,274.6 895.2,273.3 860.0,272.1 824.8,271.0 789.5,269.9 754.3,269.0 719.0,268.1 683.8,267.2 648.5,266.5 613.3,265.8 578.0,265.2 542.8,264.7 507.5,264.3 472.3,263.9 437.0,263.6 401.8,263.4 366.5,263.3 331.3,263.2 296.0,263.2" fill="#ff1100" stroke="#ff1100" stroke-width="1.6"/>
<polygon points="296.0,263.2 331.3,263.2 366.5,263.3 401.8,263.4 437.0,263.6 472.3,263.9 507.5,264.3 542.8,264.7 578.0,265.2 613.3,265.8 648.5,266.5 683.8,267.2 719.0,268.1 754.3,269.0 789.5,269.9 824.8,271.0 860.0,272.1 895.2,273.3 930.5,274.6 965.7,276.0 1000.9,277.5 1036.1,279.0 1071.4,280.6 1106.6,282.3 1141.8,284.1 1177.0,286.0 1212.2,287.9 1247.4,289.9 1282.6,292.0 1317.8,294.2 1352.9,296.5 1388.1,298.9 1423.3,301.3 1458.5,303.8 1493.6,306.4 1528.8,309.1 1563.9,311.9 1599.1,314.8 1634.2,317.8 1669.3,320.8 1704.4,324.0 1739.5,327.2 1774.6,330.5 1809.7,333.9 1844.8,337.4 1879.9,341.0 1914.9,344.6 1950.0,348.4 1950.0,335.3 1914.9,331.7 1879.9,328.2 1844.8,324.7 1809.7,321.3 1774.6,318.1 1739.5,314.9 1704.4,311.8 1669.2,308.7 1634.1,305.8 1599.0,302.9 1563.8,300.2 1528.7,297.5 1493.5,294.8 1458.4,292.3 1423.2,289.9 1388.0,287.5 1352.9,285.2 1317.7,283.0 1282.5,280.9 1247.3,278.8 1212.1,276.9 1176.9,275.0 1141.7,273.2 1106.5,271.5 1071.3,269.8 1036.1,268.2 1000.8,266.7 965.6,265.3 930.4,264.0 895.2,262.7 859.9,261.5 824.7,260.4 789.5,259.4 754.2,258.5 719.0,257.6 683.7,256.8 648.5,256.0 613.2,255.4 578.0,254.8 542.8,254.3 507.5,253.9 472.3,253.5 437.0,253.2 401.8,253.0 366.5,252.9 331.3,252.8 296.0,252.8" fill="#ff0900" stroke="#ff0900" stroke-width="1.6"/>
<polygon points="296.0,252.8 331.3,252.8 366.5,252.9 401.8,253.0 437.0,253.2 472.3,253.5 507.5,253.9 542.8,254.3 578.0,254.8 613.2,255.4 648.5,256.0 683.7,256.8 719.0,257.6 754.2,258.5 789.5,259.4 824.7,260.4 859.9,261.5 895.2,262.7 930.4,264.0 965.6,265.3 1000.8,266.7 1036.1,268.2 1071.3,269.8 1106.5,271.5 1141.7,273.2 1176.9,275.0 1212.1,276.9 1247.3,278.8 1282.5,280.9 1317.7,283.0 1352.9,285.2 1388.0,287.5 1423.2,289.9 1458.4,292.3 1493.5,294.8 1528.7,297.5 1563.8,300.2 1599.0,302.9 1634.1,305.8 1669.2,308.7 1704.4,311.8 1739.5,314.9 1774.6,318.1 1809.7,321.3 1844.8,324.7 1879.9,328.2 1914.9,331.7 1950.0,335.3 1950.0,322.2 1914.9,318.7 1879.8,315.4 1844.7,312.0 1809.7,308.8 1774.5,305.6 1739.4,302.6 1704.3,299.6 1669.2,296.7 1634.1,293.8 1598.9,291.1 1563.8,288.4 1528.6,285.8 1493.5,283.3 1458.3,280.8 1423.1,278.4 1388.0,276.1 1352.8,273.9 1317.6,271.8 1282.4,269.7 1247.2,267.8 1212.0,265.9 1176.8,264.0 1141.6,262.3 1106.4,260.6 1071.2,259.0 1036.0,257.5 1000.8,256.0 965.6,254.6 930.3,253.3 895.1,252.1 859.9,251.0 824.6,249.9 789.4,248.9 754.2,247.9 718.9,247.1 683.7,246.3 648.5,245.6 613.2,245.0 578.0,244.4 542.7,243.9 507.5,243.5 472.2,243.1 437.0,242.9 401.7,242.6 366.5,242.5 331.2,242.4 296.0,242.5" fill="#ff0000" stroke="#ff0000" stroke-width="1.6"/>
<polygon points="296.0,242.5 331.2,242.4 366.5,242.5 401.7,242.6 437.0,242.9 472.2,243.1 507.5,243.5 542.7,243.9 578.0,244.4 613.2,245.0 648.5,245.6 683.7,246.3 718.9,247.1 754.2,247.9 789.4,248.9 824.6,249.9 859.9,251.0 895.1,252.1 930.3,253.3 965.6,254.6 1000.8,256.0 1036.0,257.5 1071.2,259.0 1106.4,260.6 1141.6,262.3 1176.8,264.0 1212.0,265.9 1247.2,267.8 1282.4,269.7 1317.6,271.8 1352.8,273.9 1388.0,276.1 1423.1,278.4 1458.3,280.8 1493.5,283.3 1528.6,285.8 1563.8,288.4 1598.9,291.1 1634.1,293.8 1669.2,296.7 1704.3,299.6 1739.4,302.6 1774.5,305.6 1809.7,308.8 1844.7,312.0 1879.8,315.4 1914.9,318.7 1950.0,322.2 1950.0,309.1 1914.9,305.8 1879.8,302.5 1844.7,299.4 1809.6,296.3 1774.5,293.2 1739.4,290.3 1704.3,287.4 1669.1,284.6 1634.0,281.8 1598.8,279.2 1563.7,276.6 1528.5,274.1 1493.4,271.7 1458.2,269.3 1423.1,267.0 1387.9,264.8 1352.7,262.7 1317.5,260.6 1282.3,258.6 1247.1,256.7 1211.9,254.8 1176.7,253.1 1141.5,251.4 1106.3,249.7 1071.1,248.2 1035.9,246.7 1000.7,245.3 965.5,243.9 930.3,242.7 895.0,241.5 859.8,240.4 824.6,239.3 789.4,238.3 754.1,237.4 718.9,236.6 683.7,235.8 648.4,235.1 613.2,234.5 577.9,234.0 542.7,233.5 507.5,233.1 472.2,232.7 437.0,232.5 401.7,232.3 366.5,232.1 331.2,232.1 296.0,232.1" fill="#f70000" stroke="#f70000" stroke-width="1.6"/>
<polygon points="296.0,232.1 331.2,232.1 366.5,232.1 401.7,232.3 437.0,232.5 472.2,232.7 507.5,233.1 542.7,233.5 577.9,234.0 613.2,234.5 648.4,235.1 683.7,235.8 718.9,236.6 754.1,237.4 789.4,238.3 824.6,239.3 859.8,240.4 895.0,241.5 930.3,242.7 965.5,243.9 1000.7,245.3 1035.9,246.7 1071.1,248.2 1106.3,249.7 1141.5,251.4 1176.7,253.1 1211.9,254.8 1247.1,256.7 1282.3,258.6 1317.5,260.6 1352.7,262.7 1387.9,264.8 1423.1,267.0 1458.2,269.3 1493.4,271.7 1528.5,274.1 1563.7,276.6 1598.8,279.2 1634.0,281.8 1669.1,284.6 1704.3,287.4 1739.4,290.3 1774.5,293.2 1809.6,296.3 1844.7,299.4 1879.8,302.5 1914.9,305.8 1950.0,309.1 1950.0,296.1 1914.9,292.9 1879.8,289.7 1844.7,286.7 1809.6,283.7 1774.5,280.8 1739.3,278.0 1704.2,275.2 1669.1,272.5 1633.9,269.9 1598.8,267.3 1563.6,264.8 1528.5,262.4 1493.3,260.1 1458.1,257.8 1423.0,255.6 1387.8,253.4 1352.6,251.4 1317.4,249.4 1282.3,247.5 1247.1,245.6 1211.9,243.8 1176.7,242.1 1141.5,240.4 1106.3,238.9 1071.1,237.4 1035.8,235.9 1000.6,234.6 965.4,233.3 930.2,232.0 895.0,230.9 859.8,229.8 824.5,228.8 789.3,227.8 754.1,226.9 718.8,226.1 683.6,225.4 648.4,224.7 613.1,224.1 577.9,223.5 542.7,223.1 507.4,222.7 472.2,222.3 437.0,222.1 401.7,221.9 366.5,221.8 331.2,221.7 296.0,221.7" fill="#ef0000" stroke="#ef0000" stroke-width="1.6"/>
<polygon points="296.0,221.7 331.2,221.7 366.5,221.8 401.7,221.9 437.0,222.1 472.2,222.3 507.4,222.7 542.7,223.1 577.9,223.5 613.1,224.1 648.4,224.7 683.6,225.4 718.8,226.1 754.1,226.9 789.3,227.8 824.5,228.8 859.8,229.8 895.0,230.9 930.2,232.0 965.4,233.3 1000.6,234.6 1035.8,235.9 1071.1,237.4 1106.3,238.9 1141.5,240.4 1176.7,242.1 1211.9,243.8 1247.1,245.6 1282.3,247.5 1317.4,249.4 1352.6,251.4 1387.8,253.4 1423.0,255.6 1458.1,257.8 1493.3,260.1 1528.5,262.4 1563.6,264.8 1598.8,267.3 1633.9,269.9 1669.1,272.5 1704.2,275.2 1739.3,278.0 1774.5,280.8 1809.6,283.7 1844.7,286.7 1879.8,289.7 1914.9,292.9 1950.0,296.1 1950.0,283.8 1914.9,280.7 1879.8,277.6 1844.7,274.6 1809.6,271.7 1774.5,268.8 1739.3,266.0 1704.2,263.3 1669.1,260.7 1633.9,258.1 1598.8,255.6 1563.6,253.2 1528.4,250.9 1493.3,248.6 1458.1,246.4 1422.9,244.2 1387.8,242.2 1352.6,240.2 1317.4,238.2 1282.2,236.4 1247.0,234.6 1211.8,232.8 1176.6,231.2 1141.4,229.6 1106.2,228.1 1071.0,226.6 1035.8,225.2 1000.6,223.9 965.4,222.7 930.2,221.5 894.9,220.4 859.7,219.3 824.5,218.3 789.3,217.4 754.0,216.6 718.8,215.8 683.6,215.1 648.4,214.4 613.1,213.8 577.9,213.3 542.7,212.8 507.4,212.4 472.2,212.1 436.9,211.8 401.7,211.6 366.5,211.4 331.2,211.3 296.0,211.3" fill="#e70000" stroke="#e70000" stroke-width="1.6"/>
<polygon points="296.0,211.3 331.2,211.3 366.5,211.4 401.7,211.6 436.9,211.8 472.2,212.1 507.4,212.4 542.7,212.8 577.9,213.3 613.1,213.8 648.4,214.4 683.6,215.1 718.8,215.8 754.0,216.6 789.3,217.4 824.5,218.3 859.7,219.3 894.9,220.4 930.2,221.5 965.4,222.7 1000.6,223.9 1035.8,225.2 1071.0,226.6 1106.2,228.1 1141.4,229.6 1176.6,231.2 1211.8,232.8 1247.0,234.6 1282.2,236.4 1317.4,238.2 1352.6,240.2 1387.8,242.2 1422.9,244.2 1458.1,246.4 1493.3,248.6 1528.4,250.9 1563.6,253.2 1598.8,255.6 1633.9,258.1 1669.1,260.7 1704.2,263.3 1739.3,266.0 1774.5,268.8 1809.6,271.7 1844.7,274.6 1879.8,277.6 1914.9,280.7 1950.0,283.8 1950.0,271.6 1914.9,268.5 1879.8,265.4 1844.7,262.5 1809.6,259.6 1774.4,256.8 1739.3,254.1 1704.2,251.5 1669.0,248.9 1633.9,246.4 1598.7,243.9 1563.6,241.6 1528.4,239.3 1493.3,237.1 1458.1,234.9 1422.9,232.9 1387.7,230.9 1352.6,228.9 1317.4,227.1 1282.2,225.3 1247.0,223.5 1211.8,221.9 1176.6,220.3 1141.4,218.8 1106.2,217.3 1071.0,215.9 1035.8,214.6 1000.6,213.3 965.3,212.1 930.1,211.0 894.9,209.9 859.7,208.9 824.5,207.9 789.2,207.1 754.0,206.2 718.8,205.5 683.6,204.8 648.3,204.1 613.1,203.5 577.9,203.0 542.6,202.5 507.4,202.1 472.2,201.8 436.9,201.5 401.7,201.3 366.5,201.1 331.2,201.0 296.0,200.9" fill="#df0000" stroke="#df0000" stroke-width="1.6"/>
<polygon points="296.0,200.9 331.2,201.0 366.5,201.1 401.7,201.3 436.9,201.5 472.2,201.8 507.4,202.1 542.6,202.5 577.9,203.0 613.1,203.5 648.3,204.1 683.6,204.8 718.8,205.5 754.0,206.2 789.2,207.1 824.5,207.9 859.7,208.9 894.9,209.9 930.1,211.0 965.3,212.1 1000.6,213.3 1035.8,214.6 1071.0,215.9 1106.2,217.3 1141.4,218.8 1176.6,220.3 1211.8,221.9 1247.0,223.5 1282.2,225.3 1317.4,227.1 1352.6,228.9 1387.7,230.9 1422.9,232.9 1458.1,234.9 1493.3,237.1 1528.4,239.3 1563.6,241.6 1598.7,243.9 1633.9,246.4 1669.0,248.9 1704.2,251.5 1739.3,254.1 1774.4,256.8 1809.6,259.6 1844.7,262.5 1879.8,265.4 1914.9,268.5 1950.0,271.6 1950.0,259.3 1914.9,256.3 1879.8,253.3 1844.7,250.4 1809.6,247.6 1774.4,244.8 1739.3,242.2 1704.2,239.6 1669.0,237.1 1633.9,234.6 1598.7,232.3 1563.6,230.0 1528.4,227.7 1493.2,225.6 1458.1,223.5 1422.9,221.5 1387.7,219.6 1352.5,217.7 1317.3,215.9 1282.1,214.2 1247.0,212.5 1211.8,210.9 1176.6,209.4 1141.4,207.9 1106.1,206.5 1070.9,205.2 1035.7,203.9 1000.5,202.7 965.3,201.5 930.1,200.4 894.9,199.4 859.7,198.4 824.4,197.5 789.2,196.7 754.0,195.9 718.8,195.1 683.5,194.5 648.3,193.8 613.1,193.3 577.9,192.7 542.6,192.3 507.4,191.9 472.2,191.5 436.9,191.2 401.7,191.0 366.5,190.8 331.2,190.6 296.0,190.5" fill="#d70000" stroke="#d70000" stroke-width="1.6"/>
<polygon points="296.0,190.5 331.2,190.6 366.5,190.8 401.7,191.0 436.9,191.2 472.2,191.5 507.4,191.9 542.6,192.3 577.9,192.7 613.1,193.3 648.3,193.8 683.5,194.5 718.8,195.1 754.0,195.9 789.2,196.7 824.4,197.5 859.7,198.4 894.9,199.4 930.1,200.4 965.3,201.5 1000.5,202.7 1035.7,203.9 1070.9,205.2 1106.1,206.5 1141.4,207.9 1176.6,209.4 1211.8,210.9 1247.0,212.5 1282.1,214.2 1317.3,215.9 1352.5,217.7 1387.7,219.6 1422.9,221.5 1458.1,223.5 1493.2,225.6 1528.4,227.7 1563.6,230.0 1598.7,232.3 1633.9,234.6 1669.0,237.1 1704.2,239.6 1739.3,242.2 1774.4,244.8 1809.6,247.6 1844.7,250.4 1879.8,253.3 1914.9,256.3 1950.0,259.3 1950.0,247.1 1914.9,244.1 1879.8,241.1 1844.7,238.3 1809.5,235.5 1774.4,232.8 1739.3,230.2 1704.1,227.7 1669.0,225.3 1633.9,222.9 1598.7,220.6 1563.5,218.3 1528.4,216.2 1493.2,214.1 1458.0,212.1 1422.9,210.2 1387.7,208.3 1352.5,206.5 1317.3,204.7 1282.1,203.1 1246.9,201.5 1211.7,199.9 1176.5,198.5 1141.3,197.1 1106.1,195.7 1070.9,194.4 1035.7,193.2 1000.5,192.1 965.3,190.9 930.1,189.9 894.8,188.9 859.6,188.0 824.4,187.1 789.2,186.3 754.0,185.5 718.7,184.8 683.5,184.2 648.3,183.6 613.1,183.0 577.8,182.5 542.6,182.0 507.4,181.6 472.1,181.2 436.9,180.9 401.7,180.7 366.5,180.4 331.2,180.2 296.0,180.1" fill="#cf0000" stroke="#cf0000" stroke-width="1.6"/>
<polygon points="296.0,180.1 331.2,180.2 366.5,180.4 401.7,180.7 436.9,180.9 472.1,181.2 507.4,181.6 542.6,182.0 577.8,182.5 613.1,183.0 648.3,183.6 683.5,184.2 718.7,184.8 754.0,185.5 789.2,186.3 824.4,187.1 859.6,188.0 894.8,188.9 930.1,189.9 965.3,190.9 1000.5,192.1 1035.7,193.2 1070.9,194.4 1106.1,195.7 1141.3,197.1 1176.5,198.5 1211.7,199.9 1246.9,201.5 1282.1,203.1 1317.3,204.7 1352.5,206.5 1387.7,208.3 1422.9,210.2 1458.0,212.1 1493.2,214.1 1528.4,216.2 1563.5,218.3 1598.7,220.6 1633.9,222.9 1669.0,225.3 1704.1,227.7 1739.3,230.2 1774.4,232.8 1809.5,235.5 1844.7,238.3 1879.8,241.1 1914.9,244.1 1950.0,247.1 1950.0,235.0 1914.9,232.0 1879.8,229.2 1844.7,226.4 1809.5,223.7 1774.4,221.1 1739.3,218.6 1704.1,216.1 1669.0,213.8 1633.8,211.5 1598.7,209.2 1563.5,207.1 1528.3,205.0 1493.2,203.0 1458.0,201.0 1422.8,199.2 1387.6,197.3 1352.4,195.6 1317.3,193.9 1282.1,192.3 1246.9,190.8 1211.7,189.3 1176.5,187.9 1141.3,186.5 1106.1,185.2 1070.9,184.0 1035.7,182.8 1000.4,181.7 965.2,180.6 930.0,179.6 894.8,178.6 859.6,177.7 824.4,176.9 789.1,176.1 753.9,175.3 718.7,174.6 683.5,174.0 648.3,173.4 613.0,172.8 577.8,172.3 542.6,171.8 507.4,171.4 472.1,171.0 436.9,170.7 401.7,170.4 366.5,170.1 331.2,169.9 296.0,169.7" fill="#c60000" stroke="#c60000" stroke-width="1.6"/>
<polygon points="296.0,169.7 331.2,169.9 366.5,170.1 401.7,170.4 436.9,170.7 472.1,171.0 507.4,171.4 542.6,171.8 577.8,172.3 613.0,172.8 648.3,173.4 683.5,174.0 718.7,174.6 753.9,175.3 789.1,176.1 824.4,176.9 859.6,177.7 894.8,178.6 930.0,179.6 965.2,180.6 1000.4,181.7 1035.7,182.8 1070.9,184.0 1106.1,185.2 1141.3,186.5 1176.5,187.9 1211.7,189.3 1246.9,190.8 1282.1,192.3 1317.3,193.9 1352.4,195.6 1387.6,197.3 1422.8,199.2 1458.0,201.0 1493.2,203.0 1528.3,205.0 1563.5,207.1 1598.7,209.2 1633.8,211.5 1669.0,213.8 1704.1,216.1 1739.3,218.6 1774.4,221.1 1809.5,223.7 1844.7,226.4 1879.8,229.2 1914.9,232.0 1950.0,235.0 1950.0,222.8 1914.9,220.0 1879.8,217.2 1844.6,214.5 1809.5,211.9 1774.4,209.4 1739.2,207.0 1704.1,204.6 1668.9,202.3 1633.8,200.0 1598.6,197.9 1563.5,195.8 1528.3,193.8 1493.1,191.8 1457.9,190.0 1422.8,188.2 1387.6,186.4 1352.4,184.7 1317.2,183.1 1282.0,181.6 1246.8,180.1 1211.6,178.7 1176.4,177.3 1141.2,176.0 1106.0,174.7 1070.8,173.5 1035.6,172.4 1000.4,171.3 965.2,170.3 930.0,169.3 894.8,168.4 859.5,167.5 824.3,166.6 789.1,165.9 753.9,165.1 718.7,164.4 683.5,163.8 648.2,163.2 613.0,162.6 577.8,162.1 542.6,161.6 507.3,161.2 472.1,160.8 436.9,160.4 401.7,160.1 366.5,159.8 331.2,159.6 296.0,159.3" fill="#be0000" stroke="#be0000" stroke-width="1.6"/>
<polygon points="296.0,159.3 331.2,159.6 366.5,159.8 401.7,160.1 436.9,160.4 472.1,160.8 507.3,161.2 542.6,161.6 577.8,162.1 613.0,162.6 648.2,163.2 683.5,163.8 718.7,164.4 753.9,165.1 789.1,165.9 824.3,166.6 859.5,167.5 894.8,168.4 930.0,169.3 965.2,170.3 1000.4,171.3 1035.6,172.4 1070.8,173.5 1106.0,174.7 1141.2,176.0 1176.4,177.3 1211.6,178.7 1246.8,180.1 1282.0,181.6 1317.2,183.1 1352.4,184.7 1387.6,186.4 1422.8,188.2 1457.9,190.0 1493.1,191.8 1528.3,193.8 1563.5,195.8 1598.6,197.9 1633.8,200.0 1668.9,202.3 1704.1,204.6 1739.2,207.0 1774.4,209.4 1809.5,211.9 1844.6,214.5 1879.8,217.2 1914.9,220.0 1950.0,222.8 1950.0,210.7 1914.9,208.0 1879.8,205.3 1844.6,202.7 1809.5,200.1 1774.4,197.7 1739.2,195.3 1704.1,193.0 1668.9,190.8 1633.8,188.6 1598.6,186.5 1563.4,184.5 1528.3,182.6 1493.1,180.7 1457.9,178.9 1422.7,177.2 1387.5,175.5 1352.4,173.9 1317.2,172.3 1282.0,170.8 1246.8,169.4 1211.6,168.0 1176.4,166.7 1141.2,165.4 1106.0,164.2 1070.8,163.1 1035.6,162.0 1000.4,160.9 965.2,159.9 929.9,159.0 894.7,158.1 859.5,157.2 824.3,156.4 789.1,155.6 753.9,154.9 718.7,154.3 683.4,153.6 648.2,153.0 613.0,152.5 577.8,151.9 542.6,151.4 507.3,151.0 472.1,150.6 436.9,150.2 401.7,149.8 366.4,149.5 331.2,149.2 296.0,149.0" fill="#b60000" stroke="#b60000" stroke-width="1.6"/>
<polygon points="296.0,149.0 331.2,149.2 366.4,149.5 401.7,149.8 436.9,150.2 472.1,150.6 507.3,151.0 542.6,151.4 577.8,151.9 613.0,152.5 648.2,153.0 683.4,153.6 718.7,154.3 753.9,154.9 789.1,155.6 824.3,156.4 859.5,157.2 894.7,158.1 929.9,159.0 965.2,159.9 1000.4,160.9 1035.6,162.0 1070.8,163.1 1106.0,164.2 1141.2,165.4 1176.4,166.7 1211.6,168.0 1246.8,169.4 1282.0,170.8 1317.2,172.3 1352.4,173.9 1387.5,175.5 1422.7,177.2 1457.9,178.9 1493.1,180.7 1528.3,182.6 1563.4,184.5 1598.6,186.5 1633.8,188.6 1668.9,190.8 1704.1,193.0 1739.2,195.3 1774.4,197.7 1809.5,200.1 1844.6,202.7 1879.8,205.3 1914.9,208.0 1950.0,210.7 1950.0,198.6 1914.9,195.9 1879.7,193.3 1844.6,190.8 1809.5,188.3 1774.3,186.0 1739.2,183.7 1704.0,181.4 1668.9,179.3 1633.7,177.2 1598.6,175.2 1563.4,173.3 1528.2,171.4 1493.0,169.6 1457.9,167.8 1422.7,166.2 1387.5,164.6 1352.3,163.0 1317.1,161.5 1281.9,160.1 1246.7,158.7 1211.5,157.4 1176.3,156.1 1141.1,154.9 1105.9,153.7 1070.7,152.6 1035.5,151.6 1000.3,150.6 965.1,149.6 929.9,148.7 894.7,147.8 859.5,147.0 824.3,146.2 789.1,145.4 753.8,144.7 718.6,144.1 683.4,143.4 648.2,142.8 613.0,142.3 577.8,141.8 542.5,141.3 507.3,140.8 472.1,140.4 436.9,140.0 401.7,139.6 366.4,139.2 331.2,138.9 296.0,138.6" fill="#ae0000" stroke="#ae0000" stroke-width="1.6"/>
<polygon points="296.0,138.6 331.2,138.9 366.4,139.2 401.7,139.6 436.9,140.0 472.1,140.4 507.3,140.8 542.5,141.3 577.8,141.8 613.0,142.3 648.2,142.8 683.4,143.4 718.6,144.1 753.8,144.7 789.1,145.4 824.3,146.2 859.5,147.0 894.7,147.8 929.9,148.7 965.1,149.6 1000.3,150.6 1035.5,151.6 1070.7,152.6 1105.9,153.7 1141.1,154.9 1176.3,156.1 1211.5,157.4 1246.7,158.7 1281.9,160.1 1317.1,161.5 1352.3,163.0 1387.5,164.6 1422.7,166.2 1457.9,167.8 1493.0,169.6 1528.2,171.4 1563.4,173.3 1598.6,175.2 1633.7,177.2 1668.9,179.3 1704.0,181.4 1739.2,183.7 1774.3,186.0 1809.5,188.3 1844.6,190.8 1879.7,193.3 1914.9,195.9 1950.0,198.6 1950.0,186.5 1914.9,183.9 1879.7,181.3 1844.6,178.9 1809.5,176.5 1774.3,174.2 1739.2,172.0 1704.0,169.8 1668.9,167.8 1633.7,165.7 1598.5,163.8 1563.4,161.9 1528.2,160.2 1493.0,158.4 1457.8,156.8 1422.7,155.1 1387.5,153.6 1352.3,152.1 1317.1,150.7 1281.9,149.3 1246.7,148.0 1211.5,146.8 1176.3,145.6 1141.1,144.4 1105.9,143.3 1070.7,142.3 1035.5,141.2 1000.3,140.3 965.1,139.4 929.9,138.5 894.7,137.6 859.4,136.8 824.2,136.1 789.0,135.4 753.8,134.7 718.6,134.0 683.4,133.4 648.2,132.8 613.0,132.2 577.7,131.7 542.5,131.2 507.3,130.7 472.1,130.2 436.9,129.8 401.7,129.4 366.4,129.0 331.2,128.6 296.0,128.2" fill="#a60000" stroke="#a60000" stroke-width="1.6"/>
<polygon points="296.0,128.2 331.2,128.6 366.4,129.0 401.7,129.4 436.9,129.8 472.1,130.2 507.3,130.7 542.5,131.2 577.7,131.7 613.0,132.2 648.2,132.8 683.4,133.4 718.6,134.0 753.8,134.7 789.0,135.4 824.2,136.1 859.4,136.8 894.7,137.6 929.9,138.5 965.1,139.4 1000.3,140.3 1035.5,141.2 1070.7,142.3 1105.9,143.3 1141.1,144.4 1176.3,145.6 1211.5,146.8 1246.7,148.0 1281.9,149.3 1317.1,150.7 1352.3,152.1 1387.5,153.6 1422.7,155.1 1457.8,156.8 1493.0,158.4 1528.2,160.2 1563.4,161.9 1598.5,163.8 1633.7,165.7 1668.9,167.8 1704.0,169.8 1739.2,172.0 1774.3,174.2 1809.5,176.5 1844.6,178.9 1879.7,181.3 1914.9,183.9 1950.0,186.5 1950.0,174.4 1914.9,171.8 1879.7,169.4 1844.6,167.0 1809.5,164.7 1774.3,162.4 1739.2,160.3 1704.0,158.2 1668.8,156.2 1633.7,154.3 1598.5,152.4 1563.3,150.6 1528.2,148.9 1493.0,147.2 1457.8,145.7 1422.6,144.1 1387.4,142.7 1352.2,141.2 1317.0,139.9 1281.9,138.6 1246.7,137.4 1211.5,136.2 1176.3,135.0 1141.1,133.9 1105.9,132.9 1070.7,131.9 1035.5,130.9 1000.2,130.0 965.0,129.1 929.8,128.3 894.6,127.5 859.4,126.7 824.2,126.0 789.0,125.3 753.8,124.6 718.6,124.0 683.4,123.4 648.1,122.8 612.9,122.2 577.7,121.7 542.5,121.1 507.3,120.6 472.1,120.1 436.9,119.6 401.6,119.2 366.4,118.7 331.2,118.3 296.0,117.8" fill="#9e0000" stroke="#9e0000" stroke-width="1.6"/>
<polygon points="296.0,117.8 331.2,118.3 366.4,118.7 401.6,119.2 436.9,119.6 472.1,120.1 507.3,120.6 542.5,121.1 577.7,121.7 612.9,122.2 648.1,122.8 683.4,123.4 718.6,124.0 753.8,124.6 789.0,125.3 824.2,126.0 859.4,126.7 894.6,127.5 929.8,128.3 965.0,129.1 1000.2,130.0 1035.5,130.9 1070.7,131.9 1105.9,132.9 1141.1,133.9 1176.3,135.0 1211.5,136.2 1246.7,137.4 1281.9,138.6 1317.0,139.9 1352.2,141.2 1387.4,142.7 1422.6,144.1 1457.8,145.7 1493.0,147.2 1528.2,148.9 1563.3,150.6 1598.5,152.4 1633.7,154.3 1668.8,156.2 1704.0,158.2 1739.2,160.3 1774.3,162.4 1809.5,164.7 1844.6,167.0 1879.7,169.4 1914.9,171.8 1950.0,174.4 1950.0,162.3 1914.9,159.8 1879.7,157.4 1844.6,155.1 1809.4,152.8 1774.3,150.7 1739.1,148.6 1704.0,146.6 1668.8,144.7 1633.7,142.8 1598.5,141.0 1563.3,139.3 1528.1,137.7 1493.0,136.1 1457.8,134.6 1422.6,133.1 1387.4,131.7 1352.2,130.4 1317.0,129.1 1281.8,127.9 1246.6,126.7 1211.4,125.6 1176.2,124.5 1141.0,123.4 1105.8,122.5 1070.6,121.5 1035.4,120.6 1000.2,119.7 965.0,118.9 929.8,118.1 894.6,117.3 859.4,116.6 824.2,115.9 789.0,115.2 753.8,114.6 718.5,113.9 683.3,113.3 648.1,112.7 612.9,112.2 577.7,111.6 542.5,111.1 507.3,110.5 472.1,110.0 436.8,109.5 401.6,109.0 366.4,108.5 331.2,108.0 296.0,107.5" fill="#950000" stroke="#950000" stroke-width="1.6"/>
<polygon points="296.0,107.5 331.2,108.0 366.4,108.5 401.6,109.0 436.8,109.5 472.1,110.0 507.3,110.5 542.5,111.1 577.7,111.6 612.9,112.2 648.1,112.7 683.3,113.3 718.5,113.9 753.8,114.6 789.0,115.2 824.2,115.9 859.4,116.6 894.6,117.3 929.8,118.1 965.0,118.9 1000.2,119.7 1035.4,120.6 1070.6,121.5 1105.8,122.5 1141.0,123.4 1176.2,124.5 1211.4,125.6 1246.6,126.7 1281.8,127.9 1317.0,129.1 1352.2,130.4 1387.4,131.7 1422.6,133.1 1457.8,134.6 1493.0,136.1 1528.1,137.7 1563.3,139.3 1598.5,141.0 1633.7,142.8 1668.8,144.7 1704.0,146.6 1739.1,148.6 1774.3,150.7 1809.4,152.8 1844.6,155.1 1879.7,157.4 1914.9,159.8 1950.0,162.3 1950.0,150.2 1914.9,147.7 1879.7,145.4 1844.6,143.1 1809.4,141.0 1774.3,138.9 1739.1,136.9 1704.0,135.0 1668.8,133.1 1633.6,131.3 1598.5,129.6 1563.3,128.0 1528.1,126.4 1492.9,124.9 1457.7,123.5 1422.5,122.1 1387.4,120.8 1352.2,119.5 1317.0,118.3 1281.8,117.1 1246.6,116.0 1211.4,114.9 1176.2,113.9 1141.0,113.0 1105.8,112.0 1070.6,111.1 1035.4,110.3 1000.2,109.5 965.0,108.7 929.8,107.9 894.6,107.2 859.3,106.5 824.1,105.8 788.9,105.2 753.7,104.5 718.5,103.9 683.3,103.3 648.1,102.7 612.9,102.1 577.7,101.6 542.5,101.0 507.3,100.4 472.0,99.9 436.8,99.3 401.6,98.8 366.4,98.2 331.2,97.7 296.0,97.1" fill="#8d0000" stroke="#8d0000" stroke-width="1.6"/>
</g>
<g id="contours" fill="none" stroke="#6b6b6b" stroke-linejoin="round">
<path d="M295.9 1135.4 L305.1 1136.0 L314.3 1136.9 L323.5 1137.9 L332.6 1139.0 L341.8 1140.4 L350.9 1141.9 L359.9 1143.6 L369.0 1145.5 L377.9 1147.6 L386.9 1149.8 L395.8 1152.3 L404.6 1154.9 L413.4 1157.7 L422.2 1160.7 L430.9 1163.8 L439.5 1167.1 L448.1 1170.5 L456.6 1174.1 L465.0 1177.8 L473.3 1181.8 L481.6 1186.0 L489.6 1190.4 L497.6 1195.2 L505.3 1200.2 L512.8 1205.5 L520.1 1211.2 L527.0 1217.3 L533.6 1223.8 L539.7 1230.7 L545.4 1238.0 L550.5 1245.7 L554.9 1253.8 L558.6 1262.2 L561.6 1271.0 L563.9 1279.9 L565.3 1289.0 L565.9 1298.2 L565.6 1307.4 L564.2 1316.6 L561.7 1325.4 L557.8 1333.8 L552.7 1341.5 L546.4 1348.2 L539.3 1354.0 L531.5 1359.0 L523.2 1363.1 L514.7 1366.6 L505.9 1369.3 L496.9 1371.4 L487.8 1373.0 L478.6 1374.2 L469.4 1375.0 L460.2 1375.5 L451.0 1376.0 L441.8 1376.4 L432.6 1376.8 L423.4 1377.5 L414.2 1378.6 L405.1 1380.1" stroke-width="6.4"/>
<path d="M295.9 1094.2 L306.1 1095.0 L316.3 1096.0 L326.4 1097.3 L336.5 1098.8 L346.5 1100.6 L356.5 1102.6 L366.5 1104.8 L376.4 1107.3 L386.2 1110.0 L396.0 1113.0 L405.7 1116.1 L415.4 1119.5 L424.9 1123.0 L434.4 1126.8 L443.8 1130.7 L453.2 1134.8 L462.5 1139.1 L471.7 1143.5 L480.8 1148.0 L489.8 1152.8 L498.8 1157.7 L507.6 1162.8 L516.4 1168.0 L525.0 1173.5 L533.5 1179.2 L541.8 1185.2 L549.9 1191.4 L557.8 1197.8 L565.5 1204.5 L572.9 1211.5 L580.1 1218.8 L586.9 1226.3 L593.4 1234.2 L599.6 1242.4 L605.3 1250.8 L610.5 1259.6 L615.3 1268.6 L619.6 1277.9 L623.3 1287.4 L626.4 1297.1 L628.9 1307.0 L630.5 1317.1 L631.0 1327.2 L630.3 1337.4 L628.1 1347.4 L624.2 1356.8 L619.0 1365.5 L612.6 1373.5 L605.4 1380.7 L597.5 1387.2 L589.2 1393.1 L580.4 1398.4 L571.5 1403.3 L562.4 1407.9 L553.3 1412.6 L544.4 1417.6 L535.7 1423.0 L527.5 1429.0 L520.0 1435.9" stroke-width="6.4"/>
<path d="M296.0 1053.1 L307.3 1053.7 L318.6 1054.5 L329.8 1055.6 L341.1 1057.0 L352.3 1058.6 L363.4 1060.5 L374.5 1062.6 L385.6 1064.9 L396.6 1067.4 L407.6 1070.1 L418.6 1073.0 L429.5 1076.0 L440.3 1079.2 L451.1 1082.6 L461.9 1086.0 L472.6 1089.6 L483.3 1093.3 L494.0 1097.1 L504.6 1101.1 L515.1 1105.3 L525.5 1109.8 L535.8 1114.5 L545.9 1119.4 L555.9 1124.7 L565.7 1130.3 L575.3 1136.3 L584.7 1142.7 L593.8 1149.4 L602.7 1156.4 L611.4 1163.6 L619.9 1171.0 L628.3 1178.7 L636.5 1186.4 L644.6 1194.3 L652.6 1202.3 L660.4 1210.5 L668.0 1218.9 L675.2 1227.7 L681.9 1236.8 L688.0 1246.2 L693.5 1256.1 L698.2 1266.4 L702.0 1277.1 L705.0 1288.0 L707.0 1299.1 L707.9 1310.4 L707.8 1321.7 L706.4 1332.9 L703.9 1343.9 L700.2 1354.6 L695.3 1364.8 L689.7 1374.6 L683.4 1384.1 L676.9 1393.3 L670.1 1402.4 L663.3 1411.4 L656.7 1420.6 L650.5 1430.0 L644.8 1439.8" stroke-width="6.4"/>
<path d="M296.0 1010.5 L308.3 1011.8 L320.6 1013.1 L332.9 1014.5 L345.2 1016.0 L357.4 1017.5 L369.7 1019.2 L381.9 1021.1 L394.1 1023.0 L406.3 1025.1 L418.5 1027.4 L430.6 1029.8 L442.7 1032.4 L454.7 1035.2 L466.7 1038.2 L478.7 1041.5 L490.6 1044.9 L502.4 1048.6 L514.1 1052.5 L525.8 1056.6 L537.3 1061.0 L548.8 1065.6 L560.2 1070.4 L571.4 1075.5 L582.6 1080.8 L593.7 1086.4 L604.6 1092.2 L615.4 1098.2 L626.1 1104.4 L636.6 1110.9 L647.0 1117.6 L657.2 1124.6 L667.3 1131.7 L677.2 1139.1 L686.9 1146.8 L696.5 1154.6 L705.9 1162.6 L715.1 1170.9 L724.1 1179.4 L732.9 1188.1 L741.5 1197.0 L749.8 1206.1 L757.9 1215.4 L765.7 1225.1 L772.9 1235.1 L779.6 1245.5 L785.6 1256.3 L790.6 1267.6 L794.5 1279.3 L797.2 1291.4 L798.3 1303.7 L797.9 1316.1 L796.3 1328.3 L793.6 1340.4 L790.2 1352.3 L786.2 1364.0 L781.8 1375.5 L777.2 1387.0 L772.5 1398.5 L767.8 1409.9" stroke-width="6.4"/>
<path d="M296.0 969.4 L309.6 969.9 L323.2 970.8 L336.8 972.0 L350.3 973.6 L363.9 975.3 L377.4 977.2 L390.8 979.2 L404.3 981.3 L417.8 983.5 L431.2 985.7 L444.6 988.1 L458.0 990.5 L471.4 993.0 L484.8 995.7 L498.2 998.4 L511.5 1001.2 L524.8 1004.1 L538.1 1007.1 L551.4 1010.2 L564.6 1013.6 L577.7 1017.2 L590.8 1021.1 L603.7 1025.4 L616.5 1030.2 L629.0 1035.6 L641.3 1041.4 L653.5 1047.6 L665.4 1054.2 L677.2 1061.0 L688.9 1068.1 L700.4 1075.3 L712.0 1082.5 L723.4 1089.9 L734.9 1097.3 L746.2 1104.8 L757.5 1112.5 L768.7 1120.3 L779.7 1128.3 L790.7 1136.4 L801.4 1144.8 L812.0 1153.4 L822.3 1162.3 L832.4 1171.4 L842.2 1180.9 L851.6 1190.8 L860.5 1201.1 L868.8 1211.9 L876.4 1223.3 L883.1 1235.1 L888.9 1247.5 L893.4 1260.3 L896.7 1273.5 L898.8 1287.0 L899.8 1300.6 L899.8 1314.2 L899.0 1327.8 L897.4 1341.3 L895.3 1354.8 L892.6 1368.1" stroke-width="10.5"/>
<path d="M296.0 928.1 L310.9 929.0 L325.9 930.0 L340.8 931.2 L355.7 932.5 L370.7 934.0 L385.6 935.5 L400.4 937.3 L415.3 939.1 L430.2 941.1 L445.0 943.3 L459.8 945.6 L474.6 948.0 L489.4 950.6 L504.1 953.3 L518.8 956.2 L533.5 959.3 L548.1 962.5 L562.7 965.8 L577.3 969.3 L591.8 973.0 L606.3 976.8 L620.7 980.8 L635.1 985.0 L649.5 989.3 L663.8 993.9 L678.0 998.6 L692.1 1003.6 L706.2 1008.8 L720.1 1014.2 L734.0 1019.8 L747.8 1025.7 L761.4 1031.9 L775.0 1038.4 L788.4 1045.1 L801.6 1052.1 L814.7 1059.4 L827.6 1067.0 L840.3 1074.9 L852.9 1083.1 L865.3 1091.5 L877.6 1100.1 L889.8 1108.8 L901.9 1117.6 L914.0 1126.5 L925.9 1135.6 L937.5 1145.1 L948.5 1155.2 L958.9 1166.0 L968.6 1177.4 L977.4 1189.6 L985.2 1202.3 L992.1 1215.6 L997.7 1229.5 L1002.3 1243.8 L1005.7 1258.4 L1008.2 1273.2 L1009.6 1288.1 L1010.0 1303.0 L1009.4 1318.0" stroke-width="6.4"/>
<path d="M296.0 886.5 L312.4 886.5 L328.8 886.8 L345.1 887.6 L361.5 888.6 L377.8 890.0 L394.1 891.5 L410.4 893.3 L426.7 895.3 L442.9 897.4 L459.2 899.7 L475.4 902.0 L491.6 904.4 L507.8 906.9 L524.0 909.4 L540.1 912.2 L556.3 915.0 L572.4 917.9 L588.5 921.1 L604.6 924.3 L620.6 927.8 L636.6 931.4 L652.5 935.2 L668.4 939.3 L684.2 943.5 L700.0 948.0 L715.7 952.6 L731.3 957.5 L746.9 962.6 L762.4 967.9 L777.8 973.4 L793.2 979.2 L808.5 985.1 L823.6 991.3 L838.7 997.7 L853.7 1004.3 L868.6 1011.2 L883.4 1018.2 L898.1 1025.5 L912.6 1033.1 L927.1 1040.8 L941.4 1048.8 L955.5 1057.1 L969.4 1065.8 L983.2 1074.7 L996.7 1084.0 L1009.9 1093.6 L1022.9 1103.7 L1035.5 1114.1 L1047.8 1124.9 L1059.7 1136.2 L1071.1 1148.0 L1081.8 1160.3 L1091.8 1173.3 L1100.9 1187.0 L1108.8 1201.3 L1115.4 1216.3 L1120.6 1231.9 L1124.1 1247.8 L1126.0 1264.1" stroke-width="6.4"/>
<path d="M296.0 844.5 L313.8 844.7 L331.7 845.0 L349.6 845.6 L367.4 846.3 L385.3 847.3 L403.1 848.5 L420.9 849.8 L438.7 851.4 L456.5 853.1 L474.3 855.1 L492.0 857.2 L509.8 859.5 L527.5 862.0 L545.1 864.7 L562.8 867.6 L580.4 870.6 L598.0 873.8 L615.5 877.2 L633.1 880.7 L650.6 884.4 L668.0 888.3 L685.4 892.3 L702.8 896.5 L720.1 900.8 L737.5 905.3 L754.7 909.9 L772.0 914.7 L789.1 919.6 L806.3 924.6 L823.4 929.7 L840.5 935.0 L857.5 940.4 L874.5 946.0 L891.5 951.6 L908.4 957.5 L925.2 963.5 L941.9 969.8 L958.6 976.2 L975.2 983.0 L991.6 990.0 L1007.9 997.3 L1024.1 1004.9 L1040.1 1012.8 L1055.9 1021.2 L1071.5 1029.9 L1086.9 1039.0 L1102.0 1048.5 L1116.9 1058.4 L1131.4 1068.8 L1145.6 1079.7 L1159.4 1091.1 L1172.8 1103.0 L1185.5 1115.5 L1197.5 1128.8 L1208.6 1142.8 L1218.7 1157.5 L1227.6 1173.0 L1235.3 1189.2 L1241.5 1205.9" stroke-width="6.4"/>
<path d="M296.0 803.1 L315.4 803.4 L334.9 803.8 L354.4 804.3 L373.8 805.1 L393.3 806.0 L412.7 807.0 L432.1 808.2 L451.6 809.6 L471.0 811.2 L490.4 812.9 L509.7 814.8 L529.1 816.9 L548.4 819.1 L567.8 821.5 L587.1 824.1 L606.3 826.8 L625.6 829.7 L644.8 832.8 L664.0 836.0 L683.2 839.4 L702.3 843.0 L721.4 846.7 L740.5 850.6 L759.5 854.7 L778.5 859.0 L797.5 863.4 L816.4 868.0 L835.3 872.7 L854.1 877.6 L872.9 882.7 L891.7 888.0 L910.4 893.4 L929.0 899.0 L947.6 904.7 L966.2 910.6 L984.7 916.7 L1003.1 922.9 L1021.5 929.3 L1039.8 935.9 L1058.1 942.6 L1076.2 949.7 L1094.3 956.9 L1112.2 964.5 L1130.0 972.4 L1147.7 980.6 L1165.1 989.3 L1182.4 998.3 L1199.4 1007.7 L1216.2 1017.6 L1232.6 1028.0 L1248.8 1038.9 L1264.6 1050.3 L1279.9 1062.3 L1294.6 1075.0 L1308.6 1088.6 L1321.6 1103.0 L1333.6 1118.4 L1344.3 1134.6 L1353.6 1151.8" stroke-width="6.4"/>
<path d="M295.9 761.9 L317.1 761.9 L338.3 762.2 L359.4 762.6 L380.6 763.2 L401.7 764.0 L422.9 764.9 L444.0 766.0 L465.1 767.3 L486.2 768.8 L507.3 770.4 L528.4 772.2 L549.5 774.2 L570.6 776.3 L591.6 778.6 L612.6 781.1 L633.6 783.7 L654.6 786.5 L675.5 789.5 L696.5 792.6 L717.4 795.8 L738.3 799.3 L759.1 802.8 L780.0 806.6 L800.8 810.5 L821.5 814.5 L842.3 818.7 L863.0 823.0 L883.7 827.5 L904.3 832.1 L925.0 836.8 L945.6 841.7 L966.1 846.8 L986.6 851.9 L1007.1 857.2 L1027.6 862.6 L1048.0 868.2 L1068.4 874.0 L1088.7 879.9 L1108.9 886.1 L1129.1 892.5 L1149.2 899.2 L1169.2 906.2 L1189.0 913.4 L1208.8 921.1 L1228.4 929.1 L1247.8 937.5 L1267.0 946.3 L1286.1 955.5 L1304.9 965.2 L1323.4 975.4 L1341.7 986.1 L1359.6 997.3 L1377.1 1009.3 L1393.9 1022.1 L1410.0 1035.9 L1425.1 1050.7 L1439.0 1066.6 L1451.6 1083.6 L1462.7 1101.7" stroke-width="10.5"/>
<path d="M296.0 719.7 L318.8 720.1 L341.6 720.6 L364.5 721.2 L387.3 721.9 L410.1 722.8 L432.9 723.8 L455.7 724.9 L478.5 726.2 L501.2 727.6 L524.0 729.1 L546.8 730.8 L569.5 732.6 L592.3 734.5 L615.0 736.6 L637.7 738.8 L660.4 741.2 L683.1 743.7 L705.8 746.4 L728.4 749.2 L751.0 752.2 L773.6 755.3 L796.2 758.6 L818.8 762.0 L841.3 765.6 L863.8 769.4 L886.3 773.3 L908.8 777.4 L931.2 781.6 L953.6 786.0 L976.0 790.6 L998.3 795.3 L1020.6 800.2 L1042.8 805.3 L1065.0 810.6 L1087.2 816.1 L1109.3 821.8 L1131.3 827.7 L1153.3 833.9 L1175.2 840.3 L1197.0 847.1 L1218.7 854.1 L1240.4 861.3 L1261.9 869.0 L1283.3 876.9 L1304.5 885.2 L1325.7 893.8 L1346.6 902.8 L1367.5 912.2 L1388.1 921.9 L1408.5 932.1 L1428.7 942.7 L1448.7 953.7 L1468.5 965.1 L1488.0 977.0 L1507.2 989.3 L1526.2 1002.0 L1544.8 1015.2 L1563.1 1028.8 L1581.1 1042.9" stroke-width="6.4"/>
<path d="M296.0 678.5 L320.4 679.4 L344.8 680.2 L369.1 681.2 L393.5 682.1 L417.9 683.2 L442.2 684.2 L466.6 685.4 L490.9 686.6 L515.3 687.9 L539.6 689.2 L564.0 690.7 L588.3 692.3 L612.6 693.9 L637.0 695.7 L661.3 697.5 L685.6 699.5 L709.9 701.6 L734.1 703.8 L758.4 706.2 L782.7 708.7 L806.9 711.4 L831.1 714.2 L855.3 717.2 L879.5 720.3 L903.7 723.6 L927.8 727.1 L951.9 730.7 L976.0 734.6 L1000.0 738.7 L1024.0 742.9 L1048.0 747.4 L1071.9 752.1 L1095.8 757.0 L1119.6 762.1 L1143.4 767.5 L1167.2 773.1 L1190.8 779.0 L1214.4 785.1 L1238.0 791.5 L1261.4 798.1 L1284.8 805.1 L1308.1 812.3 L1331.3 819.7 L1354.4 827.5 L1377.4 835.6 L1400.3 843.9 L1423.1 852.6 L1445.8 861.6 L1468.3 870.9 L1490.7 880.5 L1513.0 890.4 L1535.1 900.7 L1557.1 911.3 L1578.9 922.2 L1600.5 933.4 L1622.0 945.0 L1643.3 956.9 L1664.4 969.2 L1685.3 981.7" stroke-width="6.4"/>
<path d="M296.0 637.0 L322.1 637.4 L348.1 638.0 L374.2 638.6 L400.2 639.4 L426.3 640.3 L452.3 641.3 L478.4 642.3 L504.4 643.5 L530.4 644.9 L556.5 646.3 L582.5 647.8 L608.5 649.5 L634.5 651.2 L660.5 653.1 L686.5 655.2 L712.4 657.3 L738.4 659.6 L764.4 662.0 L790.3 664.5 L816.2 667.1 L842.1 669.9 L868.0 672.8 L893.9 675.9 L919.8 679.1 L945.6 682.4 L971.5 685.9 L997.3 689.5 L1023.1 693.3 L1048.8 697.2 L1074.6 701.2 L1100.3 705.4 L1126.0 709.8 L1151.7 714.3 L1177.3 719.0 L1202.9 723.9 L1228.5 728.9 L1254.0 734.2 L1279.5 739.7 L1304.9 745.4 L1330.3 751.4 L1355.6 757.7 L1380.8 764.2 L1405.9 771.0 L1431.0 778.1 L1456.0 785.6 L1480.9 793.3 L1505.6 801.5 L1530.3 809.9 L1554.8 818.7 L1579.2 827.9 L1603.4 837.5 L1627.5 847.5 L1651.4 857.9 L1675.1 868.7 L1698.6 880.0 L1721.9 891.6 L1745.0 903.8 L1767.8 916.3 L1790.4 929.3" stroke-width="6.4"/>
<path d="M296.0 595.4 L324.8 596.3 L353.5 597.2 L382.3 598.2 L411.0 599.1 L439.7 600.2 L468.5 601.2 L497.2 602.4 L525.9 603.6 L554.7 604.8 L583.4 606.2 L612.1 607.6 L640.8 609.1 L669.5 610.7 L698.2 612.4 L726.9 614.2 L755.6 616.2 L784.3 618.2 L813.0 620.4 L841.6 622.7 L870.3 625.2 L898.9 627.8 L927.5 630.5 L956.2 633.4 L984.7 636.5 L1013.3 639.7 L1041.9 643.1 L1070.4 646.7 L1098.9 650.5 L1127.4 654.5 L1155.8 658.7 L1184.2 663.1 L1212.6 667.7 L1241.0 672.6 L1269.3 677.7 L1297.5 683.0 L1325.7 688.5 L1353.9 694.4 L1382.0 700.4 L1410.0 706.8 L1438.0 713.4 L1465.9 720.3 L1493.8 727.5 L1521.5 735.0 L1549.2 742.8 L1576.8 750.9 L1604.3 759.3 L1631.7 768.0 L1659.0 777.1 L1686.2 786.5 L1713.2 796.2 L1740.2 806.3 L1767.0 816.7 L1793.7 827.4 L1820.2 838.5 L1846.5 850.0 L1872.7 861.8 L1898.8 874.0 L1924.6 886.6 L1950.3 899.5" stroke-width="6.4"/>
<path d="M296.0 554.0 L324.4 554.2 L352.9 554.5 L381.3 554.9 L409.8 555.4 L438.2 556.0 L466.6 556.7 L495.1 557.5 L523.5 558.4 L551.9 559.4 L580.3 560.5 L608.7 561.7 L637.2 563.1 L665.6 564.5 L694.0 566.1 L722.4 567.8 L750.7 569.6 L779.1 571.5 L807.5 573.6 L835.8 575.7 L864.2 578.1 L892.5 580.5 L920.8 583.1 L949.2 585.8 L977.5 588.6 L1005.7 591.6 L1034.0 594.7 L1062.3 598.0 L1090.5 601.4 L1118.7 605.0 L1146.9 608.7 L1175.1 612.6 L1203.3 616.6 L1231.4 620.8 L1259.5 625.1 L1287.6 629.6 L1315.6 634.3 L1343.7 639.1 L1371.7 644.1 L1399.6 649.3 L1427.6 654.6 L1455.5 660.1 L1483.3 665.8 L1511.2 671.7 L1539.0 677.7 L1566.7 683.9 L1594.4 690.3 L1622.1 696.9 L1649.7 703.7 L1677.3 710.7 L1704.8 717.9 L1732.3 725.2 L1759.7 732.8 L1787.1 740.5 L1814.4 748.4 L1841.6 756.6 L1868.8 764.9 L1896.0 773.5 L1923.0 782.2 L1950.0 791.1" stroke-width="10.5"/>
<path d="M296.0 512.5 L324.3 512.6 L352.6 512.8 L380.9 513.1 L409.2 513.5 L437.5 514.0 L465.8 514.6 L494.1 515.2 L522.4 516.0 L550.7 516.8 L579.0 517.8 L607.3 518.8 L635.6 519.9 L663.9 521.2 L692.1 522.5 L720.4 524.0 L748.7 525.5 L776.9 527.2 L805.2 528.9 L833.4 530.8 L861.7 532.8 L889.9 534.9 L918.1 537.1 L946.3 539.4 L974.5 541.8 L1002.7 544.4 L1030.9 547.1 L1059.1 549.8 L1087.2 552.7 L1115.4 555.8 L1143.5 558.9 L1171.6 562.2 L1199.7 565.6 L1227.8 569.1 L1255.9 572.7 L1283.9 576.5 L1312.0 580.4 L1340.0 584.4 L1368.0 588.6 L1396.0 592.9 L1423.9 597.3 L1451.9 601.9 L1479.8 606.6 L1507.7 611.4 L1535.5 616.4 L1563.4 621.5 L1591.2 626.7 L1619.0 632.1 L1646.7 637.7 L1674.5 643.4 L1702.2 649.2 L1729.8 655.2 L1757.5 661.3 L1785.1 667.6 L1812.7 674.0 L1840.2 680.6 L1867.7 687.3 L1895.1 694.2 L1922.6 701.2 L1949.9 708.4" stroke-width="6.4"/>
<path d="M296.0 470.9 L324.2 471.1 L352.5 471.5 L380.7 471.8 L408.9 472.3 L437.1 472.8 L465.4 473.3 L493.6 474.0 L521.8 474.7 L550.0 475.4 L578.2 476.3 L606.5 477.2 L634.7 478.2 L662.9 479.2 L691.1 480.3 L719.3 481.6 L747.5 482.8 L775.7 484.2 L803.9 485.7 L832.1 487.2 L860.3 488.8 L888.4 490.6 L916.6 492.4 L944.8 494.3 L972.9 496.3 L1001.1 498.3 L1029.2 500.5 L1057.4 502.8 L1085.5 505.2 L1113.6 507.6 L1141.7 510.2 L1169.8 512.9 L1197.9 515.7 L1226.0 518.6 L1254.1 521.6 L1282.1 524.7 L1310.2 527.9 L1338.2 531.3 L1366.2 534.7 L1394.2 538.3 L1422.2 542.0 L1450.2 545.8 L1478.2 549.7 L1506.1 553.8 L1534.0 558.0 L1561.9 562.3 L1589.8 566.7 L1617.7 571.3 L1645.5 575.9 L1673.3 580.8 L1701.1 585.7 L1728.9 590.8 L1756.6 596.0 L1784.3 601.4 L1812.0 606.9 L1839.7 612.6 L1867.3 618.4 L1894.9 624.3 L1922.5 630.4 L1950.0 636.6" stroke-width="6.4"/>
<path d="M296.0 429.4 L324.2 429.5 L352.4 429.6 L380.5 429.8 L408.7 430.0 L436.9 430.3 L465.1 430.7 L493.2 431.2 L521.4 431.7 L549.6 432.4 L577.7 433.0 L605.9 433.8 L634.1 434.6 L662.2 435.6 L690.4 436.5 L718.6 437.6 L746.7 438.8 L774.9 440.0 L803.0 441.3 L831.2 442.7 L859.3 444.1 L887.4 445.7 L915.6 447.3 L943.7 449.0 L971.8 450.8 L999.9 452.7 L1028.0 454.7 L1056.1 456.7 L1084.2 458.9 L1112.3 461.1 L1140.4 463.4 L1168.5 465.8 L1196.5 468.3 L1224.6 470.9 L1252.7 473.5 L1280.7 476.3 L1308.7 479.2 L1336.8 482.1 L1364.8 485.1 L1392.8 488.3 L1420.8 491.5 L1448.7 494.8 L1476.7 498.3 L1504.7 501.8 L1532.6 505.4 L1560.6 509.1 L1588.5 512.9 L1616.4 516.8 L1644.3 520.8 L1672.1 524.9 L1700.0 529.2 L1727.8 533.5 L1755.7 537.9 L1783.5 542.4 L1811.3 547.0 L1839.1 551.8 L1866.8 556.6 L1894.6 561.5 L1922.3 566.6 L1950.0 571.7" stroke-width="6.4"/>
<path d="M296.0 387.8 L324.1 387.9 L352.3 388.1 L380.4 388.3 L408.6 388.6 L436.7 388.9 L464.8 389.3 L493.0 389.8 L521.1 390.3 L549.2 390.8 L577.4 391.5 L605.5 392.2 L633.6 392.9 L661.8 393.8 L689.9 394.7 L718.0 395.6 L746.1 396.6 L774.3 397.7 L802.4 398.9 L830.5 400.1 L858.6 401.4 L886.7 402.7 L914.8 404.2 L942.9 405.6 L971.0 407.2 L999.1 408.8 L1027.2 410.6 L1055.3 412.3 L1083.4 414.2 L1111.4 416.1 L1139.5 418.1 L1167.6 420.2 L1195.6 422.3 L1223.7 424.6 L1251.7 426.9 L1279.8 429.3 L1307.8 431.7 L1335.8 434.3 L1363.9 436.9 L1391.9 439.6 L1419.9 442.4 L1447.9 445.2 L1475.9 448.2 L1503.8 451.2 L1531.8 454.3 L1559.8 457.5 L1587.7 460.8 L1615.6 464.2 L1643.6 467.6 L1671.5 471.2 L1699.4 474.8 L1727.3 478.5 L1755.2 482.3 L1783.1 486.2 L1810.9 490.2 L1838.8 494.2 L1866.6 498.4 L1894.4 502.7 L1922.2 507.0 L1950.0 511.5" stroke-width="6.4"/>
<path d="M296.0 346.3 L324.1 346.3 L352.2 346.3 L380.3 346.4 L408.5 346.6 L436.6 346.8 L464.7 347.1 L492.8 347.5 L520.9 347.9 L549.0 348.4 L577.1 349.0 L605.2 349.6 L633.3 350.2 L661.4 351.0 L689.5 351.8 L717.6 352.7 L745.7 353.6 L773.8 354.6 L801.9 355.7 L830.0 356.8 L858.1 358.0 L886.2 359.2 L914.3 360.5 L942.4 361.9 L970.4 363.4 L998.5 364.9 L1026.6 366.4 L1054.7 368.1 L1082.7 369.8 L1110.8 371.5 L1138.8 373.4 L1166.9 375.2 L1194.9 377.2 L1223.0 379.2 L1251.0 381.3 L1279.0 383.4 L1307.1 385.6 L1335.1 387.9 L1363.1 390.3 L1391.1 392.7 L1419.1 395.1 L1447.1 397.6 L1475.1 400.2 L1503.1 402.9 L1531.1 405.6 L1559.1 408.4 L1587.0 411.2 L1615.0 414.2 L1643.0 417.1 L1670.9 420.2 L1698.9 423.3 L1726.8 426.4 L1754.7 429.7 L1782.6 433.0 L1810.5 436.3 L1838.5 439.7 L1866.4 443.2 L1894.2 446.8 L1922.1 450.4 L1950.0 454.1" stroke-width="10.5"/>
<path d="M296.0 304.8 L324.1 304.8 L352.2 304.9 L380.3 305.0 L408.4 305.2 L436.5 305.4 L464.6 305.7 L492.7 306.0 L520.8 306.4 L548.9 306.8 L577.0 307.3 L605.0 307.8 L633.1 308.4 L661.2 309.1 L689.3 309.7 L717.4 310.5 L745.5 311.3 L773.6 312.1 L801.7 313.1 L829.7 314.0 L857.8 315.0 L885.9 316.1 L914.0 317.2 L942.0 318.4 L970.1 319.7 L998.2 321.0 L1026.2 322.3 L1054.3 323.7 L1082.4 325.2 L1110.4 326.7 L1138.5 328.3 L1166.5 329.9 L1194.6 331.6 L1222.6 333.3 L1250.6 335.1 L1278.7 337.0 L1306.7 338.9 L1334.7 340.9 L1362.8 343.0 L1390.8 345.1 L1418.8 347.2 L1446.8 349.4 L1474.8 351.7 L1502.8 354.1 L1530.8 356.5 L1558.8 358.9 L1586.8 361.4 L1614.8 364.0 L1642.7 366.7 L1670.7 369.4 L1698.7 372.1 L1726.6 374.9 L1754.6 377.8 L1782.5 380.8 L1810.4 383.8 L1838.4 386.9 L1866.3 390.0 L1894.2 393.2 L1922.1 396.5 L1950.0 399.8" stroke-width="6.4"/>
<path d="M296.0 263.2 L324.1 263.2 L352.2 263.2 L380.3 263.3 L408.3 263.4 L436.4 263.6 L464.5 263.8 L492.6 264.1 L520.7 264.4 L548.8 264.8 L576.8 265.2 L604.9 265.7 L633.0 266.2 L661.1 266.8 L689.2 267.4 L717.2 268.0 L745.3 268.7 L773.4 269.5 L801.5 270.3 L829.5 271.1 L857.6 272.1 L885.7 273.0 L913.7 274.0 L941.8 275.1 L969.9 276.2 L997.9 277.3 L1026.0 278.6 L1054.0 279.8 L1082.1 281.1 L1110.1 282.5 L1138.2 283.9 L1166.2 285.4 L1194.3 286.9 L1222.3 288.5 L1250.4 290.1 L1278.4 291.8 L1306.4 293.5 L1334.5 295.3 L1362.5 297.1 L1390.5 299.0 L1418.5 301.0 L1446.5 303.0 L1474.5 305.0 L1502.6 307.1 L1530.6 309.3 L1558.6 311.5 L1586.5 313.8 L1614.5 316.1 L1642.5 318.5 L1670.5 320.9 L1698.5 323.4 L1726.4 326.0 L1754.4 328.6 L1782.4 331.2 L1810.3 333.9 L1838.3 336.7 L1866.2 339.5 L1894.1 342.4 L1922.1 345.4 L1950.0 348.4" stroke-width="6.4"/>
<path d="M296.0 221.7 L324.1 221.7 L352.1 221.7 L380.2 221.8 L408.3 221.9 L436.4 222.1 L464.4 222.3 L492.5 222.5 L520.6 222.8 L548.6 223.1 L576.7 223.5 L604.8 223.9 L632.9 224.4 L660.9 224.9 L689.0 225.5 L717.1 226.1 L745.1 226.7 L773.2 227.4 L801.2 228.1 L829.3 228.9 L857.4 229.7 L885.4 230.6 L913.5 231.5 L941.5 232.4 L969.6 233.4 L997.6 234.4 L1025.7 235.5 L1053.7 236.6 L1081.8 237.8 L1109.8 239.0 L1137.9 240.3 L1165.9 241.6 L1194.0 242.9 L1222.0 244.3 L1250.0 245.8 L1278.1 247.2 L1306.1 248.8 L1334.1 250.3 L1362.2 251.9 L1390.2 253.6 L1418.2 255.3 L1446.2 257.0 L1474.2 258.8 L1502.3 260.6 L1530.3 262.5 L1558.3 264.4 L1586.3 266.4 L1614.3 268.4 L1642.3 270.5 L1670.3 272.6 L1698.3 274.7 L1726.2 276.9 L1754.2 279.2 L1782.2 281.4 L1810.2 283.8 L1838.1 286.1 L1866.1 288.5 L1894.1 291.0 L1922.0 293.5 L1950.0 296.1" stroke-width="6.4"/>
<path d="M296.0 180.1 L324.1 180.2 L352.1 180.3 L380.2 180.5 L408.3 180.7 L436.3 180.9 L464.4 181.2 L492.4 181.5 L520.5 181.8 L548.6 182.1 L576.6 182.5 L604.7 182.9 L632.8 183.3 L660.8 183.8 L688.9 184.3 L716.9 184.8 L745.0 185.3 L773.1 185.9 L801.1 186.6 L829.2 187.2 L857.2 187.9 L885.3 188.7 L913.3 189.4 L941.4 190.2 L969.4 191.1 L997.5 192.0 L1025.5 192.9 L1053.6 193.8 L1081.6 194.8 L1109.7 195.9 L1137.7 196.9 L1165.8 198.0 L1193.8 199.2 L1221.9 200.4 L1249.9 201.6 L1277.9 202.9 L1306.0 204.2 L1334.0 205.6 L1362.0 207.0 L1390.1 208.4 L1418.1 209.9 L1446.1 211.4 L1474.1 213.0 L1502.1 214.6 L1530.2 216.3 L1558.2 218.0 L1586.2 219.8 L1614.2 221.6 L1642.2 223.4 L1670.2 225.3 L1698.2 227.3 L1726.2 229.3 L1754.2 231.3 L1782.2 233.4 L1810.1 235.6 L1838.1 237.8 L1866.1 240.0 L1894.1 242.3 L1922.0 244.7 L1950.0 247.1" stroke-width="6.4"/>
<path d="M296.0 138.6 L324.1 138.8 L352.1 139.1 L380.2 139.4 L408.2 139.6 L436.3 139.9 L464.3 140.3 L492.4 140.6 L520.5 141.0 L548.5 141.3 L576.6 141.7 L604.6 142.1 L632.7 142.6 L660.7 143.0 L688.8 143.5 L716.8 144.0 L744.9 144.6 L772.9 145.1 L801.0 145.7 L829.0 146.3 L857.1 146.9 L885.1 147.6 L913.2 148.2 L941.2 149.0 L969.3 149.7 L997.3 150.5 L1025.4 151.3 L1053.4 152.1 L1081.5 153.0 L1109.5 153.8 L1137.6 154.8 L1165.6 155.7 L1193.6 156.7 L1221.7 157.7 L1249.7 158.8 L1277.8 159.9 L1305.8 161.0 L1333.8 162.2 L1361.9 163.4 L1389.9 164.7 L1417.9 165.9 L1445.9 167.3 L1474.0 168.6 L1502.0 170.0 L1530.0 171.5 L1558.0 173.0 L1586.0 174.5 L1614.1 176.1 L1642.1 177.7 L1670.1 179.4 L1698.1 181.1 L1726.1 182.8 L1754.1 184.6 L1782.1 186.5 L1810.1 188.4 L1838.1 190.3 L1866.1 192.3 L1894.0 194.4 L1922.0 196.5 L1950.0 198.6" stroke-width="10.5"/>
</g>
<rect x="290" y="1322" width="40" height="140" fill="#0000a4"/>
<rect x="290" y="1460" width="30" height="60" fill="#0000dc"/>
<polygon points="290,1500 325,1515 400,1600 290,1600" fill="#0000f0"/>
<polygon points="296.5,1174.4 368.0,1169.6 384.5,1173.0 368.0,1186.8 365.3,1204.6 348.8,1222.5 337.8,1234.9 325.4,1244.5 311.6,1254.2 296.5,1258.3" fill="#0000ea"/>
<g fill="none" stroke="#6b6b6b" stroke-width="5" stroke-linecap="round">
<path d="M293.8 1221.1 L314.4 1214.3 L341.9 1192.3 L368.0 1171.6"/>
<path d="M293.8 1259.7 L311.6 1250.0 L325.4 1234.9 L346.0 1217.0 L368.0 1186.8 L381.8 1173.0"/>
<path d="M293.8 1173.0 L321.3 1171.9 L368.0 1167.5 L403.8 1162.7 L431.3 1168.2 L445.0 1178.5" stroke-width="7"/>
</g>
<path d="M1960.0 814.7 L1848.9 872.9 L1733.8 933.2 L1626.7 989.2 L1540.0 1034.5 L1483.1 1063.9 L1447.5 1082.0 L1418.1 1096.8 L1380.0 1116.5 L1327.6 1144.4 L1269.4 1175.8 L1211.5 1206.7 L1160.0 1233.1 L1116.6 1253.4 L1078.0 1269.9 L1042.9 1284.3 L1010.1 1298.5 L979.3 1312.9 L951.2 1326.7 L925.9 1339.2 L903.5 1350.0 L885.0 1358.4 L870.1 1364.9 L856.6 1370.4 L842.5 1376.0 L827.3 1381.8 L812.2 1387.2 L797.2 1392.3 L782.4 1397.0 L767.9 1401.2 L753.7 1404.9 L739.6 1408.3 L725.4 1411.5 L711.1 1414.5 L696.7 1417.3 L682.4 1419.9 L668.0 1422.0 L653.5 1423.8 L638.9 1425.2 L624.6 1426.2 L610.7 1427.0 L597.2 1427.4 L584.0 1427.4 L571.4 1427.2 L560.0 1427.0 L549.5 1426.9 L539.9 1426.7 L531.5 1426.4 L524.8 1426.0 L520.4 1425.5 L518.0 1424.8 L516.2 1424.1 L513.8 1423.3 L510.5 1422.5 L507.1 1421.6 L503.5 1420.7 L500.0 1419.8 L496.6 1418.9 L493.2 1418.1 L489.7 1417.3 L486.3 1416.4 L482.9 1415.6 L479.4 1414.8 L475.9 1414.0 L472.5 1412.9 L469.1 1411.6 L465.7 1410.1 L462.2 1408.4 L458.8 1406.8 L455.4 1405.1 L451.9 1403.4 L448.4 1401.6 L445.0 1399.9 L441.6 1398.2 L438.2 1396.5 L434.7 1394.7 L431.3 1393.0 L427.9 1391.3 L424.6 1389.6 L421.1 1387.9 L417.5 1386.1 L413.6 1384.1 L409.4 1382.1 L405.2 1380.0 L401.0 1377.9 L394.2 1366.9 L384.5 1357.3 L376.3 1346.3 L368.0 1343.5 L363.9 1328.4 L361.1 1325.7 L357.0 1322.9 L357.7 1292.7 L360.5 1291.3 L361.1 1274.8 L368.0 1272.0 L368.7 1254.2 L374.9 1248.7 L376.3 1241.8 L384.5 1234.9 L390.0 1230.1 L405.8 1230.8 L410.7 1233.5 L412.0 1240.4 L419.6 1242.5 L420.3 1262.4 L427.8 1265.2 L428.5 1283.7 L436.8 1292.7 L451.9 1303.0 L461.5 1311.2 L475.3 1316.7 L511.1 1316.7 L522.1 1310.5 L531.0 1305.0 L533.1 1295.4 L539.2 1292.7 L539.2 1280.3 L533.7 1276.2 L532.4 1259.7 L525.5 1254.2 L524.1 1234.9 L517.2 1229.4 L513.8 1217.7 L502.8 1212.9 L490.4 1204.6 L472.5 1194.3 L451.9 1188.1 L435.4 1179.9 L417.5 1177.8 L412.0 1173.7 L401.0 1174.4 L403.8 1179.9 L411.3 1182.6 L410.7 1186.8 L401.0 1192.3 L395.5 1197.8 L388.7 1199.1 L387.3 1208.8 L380.4 1211.5 L379.0 1221.1 L371.5 1225.3 L370.8 1243.1 L362.5 1248.7 L354.3 1261.0 L351.5 1270.0 L335.0 1269.3 L335.0 1259.7 L342.6 1254.2 L343.3 1236.3 L339.1 1236.3 L335.0 1247.3 L328.1 1250.0 L319.9 1261.0 L319.9 1272.0 L312.3 1274.8 L311.6 1277.5 L311.6 1327.0 L319.9 1329.1 L326.1 1335.3 L319.9 1339.4 L317.1 1349.0 L310.3 1354.6 L307.5 1362.8 L300.6 1366.9 L297.9 1376.6 L291.0 1374.5 L291.0 1399.5 L300.6 1401.3 L302.0 1408.1 L308.9 1410.9 L309.6 1420.5 L318.5 1421.9 L318.5 1431.5 L326.1 1432.9 L326.1 1448.0 L321.3 1449.4 L319.9 1470.0 L317.1 1471.4 L311.6 1474.2 L311.4 1500.3 L319.9 1503.0 L321.3 1522.3 L326.8 1523.7 L337.8 1538.8 L346.0 1547.0 L354.3 1556.7 L362.5 1563.5 L368.0 1570.4 L379.0 1574.6 L384.5 1582.8 L395.5 1586.9 L396.0 1612.0 L1960.0 1612.0Z" fill="none" stroke="#6b6b6b" stroke-width="25" stroke-linejoin="round"/>
<path d="M1960.0 814.7 L1848.9 872.9 L1733.8 933.2 L1626.7 989.2 L1540.0 1034.5 L1483.1 1063.9 L1447.5 1082.0 L1418.1 1096.8 L1380.0 1116.5 L1327.6 1144.4 L1269.4 1175.8 L1211.5 1206.7 L1160.0 1233.1 L1116.6 1253.4 L1078.0 1269.9 L1042.9 1284.3 L1010.1 1298.5 L979.3 1312.9 L951.2 1326.7 L925.9 1339.2 L903.5 1350.0 L885.0 1358.4 L870.1 1364.9 L856.6 1370.4 L842.5 1376.0 L827.3 1381.8 L812.2 1387.2 L797.2 1392.3 L782.4 1397.0 L767.9 1401.2 L753.7 1404.9 L739.6 1408.3 L725.4 1411.5 L711.1 1414.5 L696.7 1417.3 L682.4 1419.9 L668.0 1422.0 L653.5 1423.8 L638.9 1425.2 L624.6 1426.2 L610.7 1427.0 L597.2 1427.4 L584.0 1427.4 L571.4 1427.2 L560.0 1427.0 L549.5 1426.9 L539.9 1426.7 L531.5 1426.4 L524.8 1426.0 L520.4 1425.5 L518.0 1424.8 L516.2 1424.1 L513.8 1423.3 L510.5 1422.5 L507.1 1421.6 L503.5 1420.7 L500.0 1419.8 L496.6 1418.9 L493.2 1418.1 L489.7 1417.3 L486.3 1416.4 L482.9 1415.6 L479.4 1414.8 L475.9 1414.0 L472.5 1412.9 L469.1 1411.6 L465.7 1410.1 L462.2 1408.4 L458.8 1406.8 L455.4 1405.1 L451.9 1403.4 L448.4 1401.6 L445.0 1399.9 L441.6 1398.2 L438.2 1396.5 L434.7 1394.7 L431.3 1393.0 L427.9 1391.3 L424.6 1389.6 L421.1 1387.9 L417.5 1386.1 L413.6 1384.1 L409.4 1382.1 L405.2 1380.0 L401.0 1377.9 L394.2 1366.9 L384.5 1357.3 L376.3 1346.3 L368.0 1343.5 L363.9 1328.4 L361.1 1325.7 L357.0 1322.9 L357.7 1292.7 L360.5 1291.3 L361.1 1274.8 L368.0 1272.0 L368.7 1254.2 L374.9 1248.7 L376.3 1241.8 L384.5 1234.9 L390.0 1230.1 L405.8 1230.8 L410.7 1233.5 L412.0 1240.4 L419.6 1242.5 L420.3 1262.4 L427.8 1265.2 L428.5 1283.7 L436.8 1292.7 L451.9 1303.0 L461.5 1311.2 L475.3 1316.7 L511.1 1316.7 L522.1 1310.5 L531.0 1305.0 L533.1 1295.4 L539.2 1292.7 L539.2 1280.3 L533.7 1276.2 L532.4 1259.7 L525.5 1254.2 L524.1 1234.9 L517.2 1229.4 L513.8 1217.7 L502.8 1212.9 L490.4 1204.6 L472.5 1194.3 L451.9 1188.1 L435.4 1179.9 L417.5 1177.8 L412.0 1173.7 L401.0 1174.4 L403.8 1179.9 L411.3 1182.6 L410.7 1186.8 L401.0 1192.3 L395.5 1197.8 L388.7 1199.1 L387.3 1208.8 L380.4 1211.5 L379.0 1221.1 L371.5 1225.3 L370.8 1243.1 L362.5 1248.7 L354.3 1261.0 L351.5 1270.0 L335.0 1269.3 L335.0 1259.7 L342.6 1254.2 L343.3 1236.3 L339.1 1236.3 L335.0 1247.3 L328.1 1250.0 L319.9 1261.0 L319.9 1272.0 L312.3 1274.8 L311.6 1277.5 L311.6 1327.0 L319.9 1329.1 L326.1 1335.3 L319.9 1339.4 L317.1 1349.0 L310.3 1354.6 L307.5 1362.8 L300.6 1366.9 L297.9 1376.6 L291.0 1374.5 L291.0 1399.5 L300.6 1401.3 L302.0 1408.1 L308.9 1410.9 L309.6 1420.5 L318.5 1421.9 L318.5 1431.5 L326.1 1432.9 L326.1 1448.0 L321.3 1449.4 L319.9 1470.0 L317.1 1471.4 L311.6 1474.2 L311.4 1500.3 L319.9 1503.0 L321.3 1522.3 L326.8 1523.7 L337.8 1538.8 L346.0 1547.0 L354.3 1556.7 L362.5 1563.5 L368.0 1570.4 L379.0 1574.6 L384.5 1582.8 L395.5 1586.9 L396.0 1612.0 L1960.0 1612.0Z" fill="#fff"/>
<polygon points="417.5,1180.6 434.0,1181.3 436.1,1186.1 426.5,1190.2 417.5,1185.4" fill="#6b6b6b"/>
<polygon points="396.9,1239.0 407.9,1250.0 401.0,1256.9 416.8,1272.0 416.8,1289.2 390.0,1289.2 394.2,1272.0" fill="#0000f0"/>
<g fill="none" stroke="#6b6b6b" stroke-width="4.5" stroke-linejoin="round">
<path d="M396.2 1237.0 L392.8 1277.5 L388.0 1285.8 L390.0 1290.6 L418.9 1290.6"/>
<path d="M371.5 1278.9 L381.8 1259.7 L391.4 1253.5 L396.9 1250.0"/>
</g>
<polygon points="291.7,1346.3 300.6,1342.2 314.4,1329.8 319.9,1329.1 325.4,1335.3 318.5,1340.8 317.1,1349.0 310.3,1354.6 307.5,1362.8 300.6,1366.9 297.9,1376.6 291.7,1380.0" fill="#00009c"/>
<polygon points="291.7,1401.3 300.6,1401.3 302.0,1408.1 308.9,1410.9 309.6,1420.5 318.5,1421.9 318.5,1431.5 326.1,1432.9 326.1,1448.0 321.3,1449.4 315.8,1448.0 307.5,1439.8 297.9,1430.1 291.7,1427.4" fill="#0000a0"/>
<path d="M573.1 1006.4 L608.9 1006.4 L613.0 1010.6 L635.0 1011.3 L641.9 1016.8 L659.8 1020.2 L665.3 1026.4 L676.3 1031.9 L680.4 1040.1 L688.7 1045.0 L690.1 1052.5 L695.6 1056.6 L695.6 1108.9 L688.7 1113.0 L687.3 1121.3 L679.0 1125.4 L677.7 1135.0 L670.8 1139.2 L668.0 1146.0 L655.7 1151.5 L650.2 1157.0 L640.5 1161.2 L632.3 1165.3 L626.8 1169.4 L589.7 1169.4 L585.5 1166.7 L573.1 1165.3 L567.6 1161.2 L559.4 1155.7 L555.3 1150.2 L544.3 1144.7 L540.1 1137.8 L529.1 1132.3 L526.4 1122.7 L518.1 1115.8 L516.8 1107.5 L511.3 1103.4 L511.3 1080.0 L504.4 1074.5 L504.4 1063.5 L511.3 1058.0 L512.6 1038.8 L520.9 1030.5 L529.1 1020.9 L538.8 1015.4 L547.0 1010.6 L569.0 1009.9Z" fill="none" stroke="#6b6b6b" stroke-width="25" stroke-linejoin="round"/>
<path d="M573.1 1006.4 L608.9 1006.4 L613.0 1010.6 L635.0 1011.3 L641.9 1016.8 L659.8 1020.2 L665.3 1026.4 L676.3 1031.9 L680.4 1040.1 L688.7 1045.0 L690.1 1052.5 L695.6 1056.6 L695.6 1108.9 L688.7 1113.0 L687.3 1121.3 L679.0 1125.4 L677.7 1135.0 L670.8 1139.2 L668.0 1146.0 L655.7 1151.5 L650.2 1157.0 L640.5 1161.2 L632.3 1165.3 L626.8 1169.4 L589.7 1169.4 L585.5 1166.7 L573.1 1165.3 L567.6 1161.2 L559.4 1155.7 L555.3 1150.2 L544.3 1144.7 L540.1 1137.8 L529.1 1132.3 L526.4 1122.7 L518.1 1115.8 L516.8 1107.5 L511.3 1103.4 L511.3 1080.0 L504.4 1074.5 L504.4 1063.5 L511.3 1058.0 L512.6 1038.8 L520.9 1030.5 L529.1 1020.9 L538.8 1015.4 L547.0 1010.6 L569.0 1009.9Z" fill="#fff"/>
<g transform="translate(1821.0 205.0) rotate(15.7)">
<rect x="-70.5" y="-39.0" width="141.0" height="78.0" fill="rgba(232,222,220,0.72)"/>
<text x="0" y="25.2" text-anchor="middle" font-family="'Liberation Sans',Arial,sans-serif" font-weight="bold" font-style="italic" font-size="80" fill="#707070" >60</text>
</g>
<g transform="translate(1626.0 413.0) rotate(14.6)">
<rect x="-73.5" y="-39.5" width="147.0" height="79.0" fill="rgba(232,222,220,0.72)"/>
<text x="0" y="25.2" text-anchor="middle" font-family="'Liberation Sans',Arial,sans-serif" font-weight="bold" font-style="italic" font-size="80" fill="#707070" >50</text>
</g>
<g transform="translate(1420.0 652.4) rotate(12.9)">
<rect x="-78.5" y="-41.5" width="157.0" height="83.0" fill="rgba(228,222,220,0.72)"/>
<text x="0" y="25.2" text-anchor="middle" font-family="'Liberation Sans',Arial,sans-serif" font-weight="bold" font-style="italic" font-size="80" fill="#707070" >40</text>
</g>
<g transform="translate(1171.4 905.4) rotate(14.8)">
<rect x="-77.0" y="-35.0" width="154.0" height="70.0" fill="rgba(228,222,220,0.72)"/>
<text x="0" y="24.9" text-anchor="middle" font-family="'Liberation Sans',Arial,sans-serif" font-weight="bold" font-style="italic" font-size="79" fill="#707070" >30</text>
</g>
<g transform="translate(816.6 1158.9) rotate(44.7)">
<rect x="-79.8" y="-35.2" width="159.7" height="70.5" fill="rgba(194,225,210,0.72)"/>
<text x="0" y="24.6" text-anchor="middle" font-family="'Liberation Sans',Arial,sans-serif" font-weight="normal" font-style="italic" font-size="78" fill="#707070" stroke="#707070" stroke-width="2.2">20</text>
</g>
<rect x="782.7" y="400" width="500" height="74.7" fill="rgba(226,198,180,0.78)"/>
<text x="1033.7" y="462.7" text-anchor="middle" font-family="'Liberation Sans',Arial,sans-serif" font-weight="bold" font-size="82" fill="#6e6e72">Period-one</text>
<text transform="translate(1019 1379) rotate(-25.3)" font-family="'Liberation Sans',Arial,sans-serif" font-size="83.3" fill="#757575" stroke="#fff" stroke-width="1.7" paint-order="fill stroke">Hopf bifurcation line</text>
<rect x="0" y="0" width="2205" height="130" fill="#fff"/>
<rect x="0" y="0" width="281" height="1832" fill="#fff"/>
<rect x="0" y="1598" width="2205" height="234" fill="#fff"/>
<rect x="1933" y="0" width="272" height="1832" fill="#fff"/>
<rect x="297" y="141" width="3" height="1139" fill="#696969"/>
<rect x="297.3" y="1277" width="5.4" height="52" fill="#0010f0"/>
<rect x="297.3" y="1436" width="14" height="34" fill="#0000c8"/>
<rect x="297.3" y="1474" width="5.4" height="40" fill="#0010f0"/>
<path d="M297.2 1552.5 L321.3 1560.8 L346.0 1574.6 L368.0 1586.9" fill="none" stroke="#6b6b6b" stroke-width="5"/>
<path d="M297.2 1515.4 L307.5 1514.7 L313.0 1514.0" fill="none" stroke="#6b6b6b" stroke-width="4"/>
<rect x="292" y="141" width="5.4" height="1447" fill="#696969"/>
<rect x="281" y="130" width="11" height="1468" fill="#222"/>
<rect x="281" y="1598" width="1654" height="2.4" fill="#c4c4c4"/>
<rect x="281" y="1587.7" width="1652" height="10.4" fill="#222"/>
<polygon points="281,130.3 1933,127.5 1933,138.2 281,141" fill="#000"/>
<rect x="1932.9" y="128" width="2.4" height="1470" fill="#b0b0b0"/>
<rect x="1932.5" y="779.4" width="5" height="8" fill="#4a4f54"/>
<rect x="1932.5" y="698.5" width="5" height="8" fill="#4a4f54"/>
<rect x="1932.5" y="627.6" width="5" height="8" fill="#4a4f54"/>
<rect x="1932.5" y="563.8" width="5" height="8" fill="#4a4f54"/>
<rect x="1932.5" y="504.2" width="5" height="8" fill="#4a4f54"/>
<rect x="1932.5" y="447.5" width="5" height="8" fill="#4a4f54"/>
<rect x="1932.5" y="393.6" width="5" height="8" fill="#4a4f54"/>
<rect x="1932.5" y="342.5" width="5" height="8" fill="#4a4f54"/>
<rect x="1932.5" y="290.6" width="5" height="8" fill="#4a4f54"/>
<rect x="1932.5" y="241.8" width="5" height="8" fill="#4a4f54"/>
<rect x="1932.5" y="193.6" width="5" height="8" fill="#4a4f54"/>
<rect x="1932.5" y="822" width="5" height="8" fill="#4a4f54"/>
<rect x="1922.4" y="125" width="10.5" height="1473" fill="#000"/>
<rect x="1932.5" y="1571.2" width="5.5" height="26.9" fill="#222"/>
<rect x="290" y="341.3" width="18" height="10" fill="#222"/>
<rect x="290" y="549.0" width="18" height="10" fill="#222"/>
<rect x="290" y="756.7" width="18" height="10" fill="#222"/>
<rect x="290" y="964.4" width="18" height="10" fill="#222"/>
<rect x="290" y="1172.1" width="18" height="10" fill="#222"/>
<rect x="290" y="1379.8" width="18" height="10" fill="#222"/>
<rect x="690.1" y="1572" width="11" height="17" rx="3" fill="#222"/>
<rect x="1103.9" y="1572" width="11" height="17" rx="3" fill="#222"/>
<rect x="1515.5" y="1572" width="11" height="17" rx="3" fill="#222"/>
<defs><linearGradient id="cb" x1="0" y1="1" x2="0" y2="0">
<stop offset="0.0000" stop-color="#000080"/>
<stop offset="0.0156" stop-color="#00008f"/>
<stop offset="0.0312" stop-color="#00009f"/>
<stop offset="0.0469" stop-color="#0000af"/>
<stop offset="0.0625" stop-color="#0000bf"/>
<stop offset="0.0781" stop-color="#0000cf"/>
<stop offset="0.0938" stop-color="#0000df"/>
<stop offset="0.1094" stop-color="#0000ef"/>
<stop offset="0.1250" stop-color="#0000ff"/>
<stop offset="0.1406" stop-color="#0010ff"/>
<stop offset="0.1562" stop-color="#0020ff"/>
<stop offset="0.1719" stop-color="#0030ff"/>
<stop offset="0.1875" stop-color="#0040ff"/>
<stop offset="0.2031" stop-color="#0050ff"/>
<stop offset="0.2188" stop-color="#0060ff"/>
<stop offset="0.2344" stop-color="#0070ff"/>
<stop offset="0.2500" stop-color="#0080ff"/>
<stop offset="0.2656" stop-color="#008fff"/>
<stop offset="0.2812" stop-color="#009fff"/>
<stop offset="0.2969" stop-color="#00afff"/>
<stop offset="0.3125" stop-color="#00bfff"/>
<stop offset="0.3281" stop-color="#00cfff"/>
<stop offset="0.3438" stop-color="#00dfff"/>
<stop offset="0.3594" stop-color="#00efff"/>
<stop offset="0.3750" stop-color="#00ffff"/>
<stop offset="0.3906" stop-color="#10ffef"/>
<stop offset="0.4062" stop-color="#20ffdf"/>
<stop offset="0.4219" stop-color="#30ffcf"/>
<stop offset="0.4375" stop-color="#40ffbf"/>
<stop offset="0.4531" stop-color="#50ffaf"/>
<stop offset="0.4688" stop-color="#60ff9f"/>
<stop offset="0.4844" stop-color="#70ff8f"/>
<stop offset="0.5000" stop-color="#80ff80"/>
<stop offset="0.5156" stop-color="#8fff70"/>
<stop offset="0.5312" stop-color="#9fff60"/>
<stop offset="0.5469" stop-color="#afff50"/>
<stop offset="0.5625" stop-color="#bfff40"/>
<stop offset="0.5781" stop-color="#cfff30"/>
<stop offset="0.5938" stop-color="#dfff20"/>
<stop offset="0.6094" stop-color="#efff10"/>
<stop offset="0.6250" stop-color="#ffff00"/>
<stop offset="0.6406" stop-color="#ffef00"/>
<stop offset="0.6562" stop-color="#ffdf00"/>
<stop offset="0.6719" stop-color="#ffcf00"/>
<stop offset="0.6875" stop-color="#ffbf00"/>
<stop offset="0.7031" stop-color="#ffaf00"/>
<stop offset="0.7188" stop-color="#ff9f00"/>
<stop offset="0.7344" stop-color="#ff8f00"/>
<stop offset="0.7500" stop-color="#ff8000"/>
<stop offset="0.7656" stop-color="#ff7000"/>
<stop offset="0.7812" stop-color="#ff6000"/>
<stop offset="0.7969" stop-color="#ff5000"/>
<stop offset="0.8125" stop-color="#ff4000"/>
<stop offset="0.8281" stop-color="#ff3000"/>
<stop offset="0.8438" stop-color="#ff2000"/>
<stop offset="0.8594" stop-color="#ff1000"/>
<stop offset="0.8750" stop-color="#ff0000"/>
<stop offset="0.8906" stop-color="#ef0000"/>
<stop offset="0.9062" stop-color="#df0000"/>
<stop offset="0.9219" stop-color="#cf0000"/>
<stop offset="0.9375" stop-color="#bf0000"/>
<stop offset="0.9531" stop-color="#af0000"/>
<stop offset="0.9688" stop-color="#9f0000"/>
<stop offset="0.9844" stop-color="#8f0000"/>
<stop offset="1.0000" stop-color="#800000"/>
</linearGradient></defs>
<rect x="1996" y="136" width="91.5" height="1459" fill="url(#cb)" stroke="#5a0000" stroke-width="1.5"/>
<rect x="2072" y="196.0" width="15" height="2.5" fill="#222"/>
<rect x="2072" y="428.7" width="15" height="2.5" fill="#222"/>
<rect x="2072" y="661.4" width="15" height="2.5" fill="#222"/>
<rect x="2072" y="894.1" width="15" height="2.5" fill="#222"/>
<rect x="2072" y="1126.8" width="15" height="2.5" fill="#222"/>
<rect x="2072" y="1359.5" width="15" height="2.5" fill="#222"/>
<text x="473.7" y="83" font-family="'Liberation Sans',Arial,sans-serif" font-size="83.3" font-weight="bold">P1 Oscillation Frequency</text>
<text transform="translate(1483 81) skewX(-10) scale(1.3 1)" font-family="'Liberation Serif','Times New Roman',serif" font-size="78" font-weight="bold" font-style="italic">f</text>
<text x="1522" y="95" font-family="'Liberation Serif','Times New Roman',serif" font-size="54" font-weight="bold">o</text>
<text x="1561" y="82" font-family="'Liberation Serif','Times New Roman',serif" font-size="86" font-weight="bold" textLength="222" lengthAdjust="spacingAndGlyphs">(GHz)</text>
<text x="257.0" y="198.0" font-family="'Liberation Sans',Arial,sans-serif" font-size="102" text-anchor="end" >60</text>
<text x="257.0" y="405.2" font-family="'Liberation Sans',Arial,sans-serif" font-size="102" text-anchor="end" >50</text>
<text x="257.0" y="589.3" font-family="'Liberation Sans',Arial,sans-serif" font-size="102" text-anchor="end" >40</text>
<text x="257.0" y="798.1" font-family="'Liberation Sans',Arial,sans-serif" font-size="102" text-anchor="end" >30</text>
<text x="257.0" y="981.3" font-family="'Liberation Sans',Arial,sans-serif" font-size="102" text-anchor="end" >20</text>
<text x="257.0" y="1188.9" font-family="'Liberation Sans',Arial,sans-serif" font-size="102" text-anchor="end" >10</text>
<text x="257.0" y="1581.4" font-family="'Liberation Sans',Arial,sans-serif" font-size="102" text-anchor="end" >-10</text>
<text x="227.7" y="1398.2" font-family="'Liberation Sans',Arial,sans-serif" font-size="102" text-anchor="end" >0</text>
<text x="294.0" y="1686.5" font-family="'Liberation Sans',Arial,sans-serif" font-size="102.5" text-anchor="middle" >0</text>
<text x="690.2" y="1686.5" font-family="'Liberation Sans',Arial,sans-serif" font-size="102.5" text-anchor="middle" letter-spacing="-5">0.1</text>
<text x="1102.7" y="1686.5" font-family="'Liberation Sans',Arial,sans-serif" font-size="102.5" text-anchor="middle" letter-spacing="-5">0.2</text>
<text x="1522.6" y="1686.5" font-family="'Liberation Sans',Arial,sans-serif" font-size="102.5" text-anchor="middle" letter-spacing="-5">0.3</text>
<text x="1873.6" y="1686.5" font-family="'Liberation Sans',Arial,sans-serif" font-size="102.5" text-anchor="middle" letter-spacing="-5">0.4</text>
<text x="2188.0" y="215.6" font-family="'Liberation Sans',Arial,sans-serif" font-size="80" text-anchor="end" >60</text>
<text x="2188.0" y="451.8" font-family="'Liberation Sans',Arial,sans-serif" font-size="80" text-anchor="end" >50</text>
<text x="2188.0" y="685.6" font-family="'Liberation Sans',Arial,sans-serif" font-size="80" text-anchor="end" >40</text>
<text x="2188.0" y="922.2" font-family="'Liberation Sans',Arial,sans-serif" font-size="80" text-anchor="end" >30</text>
<text x="2188.0" y="1149.1" font-family="'Liberation Sans',Arial,sans-serif" font-size="80" text-anchor="end" >20</text>
<text x="2188.0" y="1382.9" font-family="'Liberation Sans',Arial,sans-serif" font-size="80" text-anchor="end" >10</text>
<text x="2176.0" y="1590.1" font-family="'Liberation Sans',Arial,sans-serif" font-size="80" text-anchor="end" >0</text>
<text x="626.8" y="1798.8" font-family="'Liberation Sans',Arial,sans-serif" font-size="108.3">Injection Strength</text>
<text x="1499" y="1797" font-family="'Liberation Serif','Times New Roman',serif" font-size="106" font-style="italic" stroke="#fff" stroke-width="2" paint-order="fill stroke">ξ</text>
<text x="1545.5" y="1813.2" font-family="'Liberation Serif','Times New Roman',serif" font-size="70">i</text>
<g transform="translate(104 1537.5) rotate(-90)">
<text x="0" y="0" font-family="'Liberation Sans',Arial,sans-serif" font-size="109">Detuning Frequency</text>
<text transform="translate(1000 0) skewX(-12)" font-family="'Liberation Serif','Times New Roman',serif" font-size="112" font-style="italic">f</text>
<text x="1030" y="12" font-family="'Liberation Serif','Times New Roman',serif" font-size="66">i</text>
<text x="1082" y="0" font-family="'Liberation Sans',Arial,sans-serif" font-size="103.6">(GHz)</text>
</g>
</svg></body></html>
